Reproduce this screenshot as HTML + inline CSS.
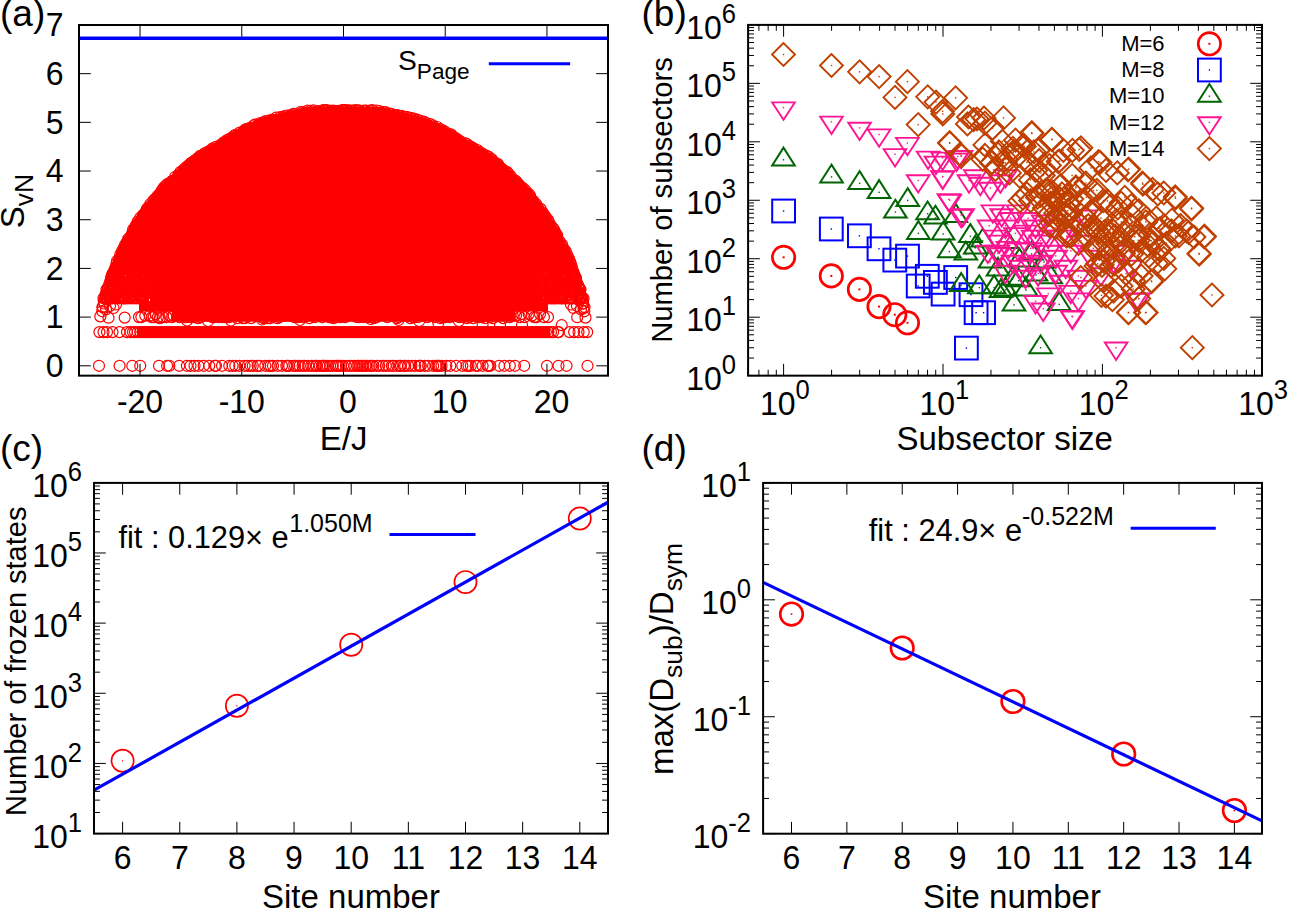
<!DOCTYPE html>
<html><head><meta charset="utf-8"><title>figure</title>
<style>html,body{margin:0;padding:0;background:#fff}svg{display:block}text{font-family:"Liberation Sans",sans-serif;fill:#000}</style>
</head><body>
<svg width="1308" height="915" viewBox="0 0 1308 915">
<rect width="1308" height="915" fill="#fff"/>
<g id="pa">
<path d="M172.0 321.8 L172.0 311.5 L139.0 311.5 L139.0 303.8 L150.0 303.8 L150.0 272.0 L112.0 272.0 L109.0 272.0 L109.4 270.9 L109.8 269.7 L110.2 268.6 L110.6 267.5 L111.0 266.4 L111.4 265.2 L111.8 264.1 L112.2 263.0 L112.6 261.9 L113.0 260.8 L113.4 259.7 L113.8 258.5 L114.3 257.4 L114.7 256.3 L115.2 255.2 L115.7 254.1 L116.2 253.0 L116.7 251.9 L117.2 250.8 L117.6 249.9 L118.1 249.0 L118.5 248.1 L118.9 247.2 L119.4 246.3 L119.9 245.4 L120.4 244.6 L120.9 243.7 L121.3 242.8 L121.8 241.8 L122.3 240.9 L122.8 240.0 L123.3 239.1 L123.8 238.2 L124.3 237.3 L124.8 236.4 L125.3 235.5 L125.8 234.6 L126.3 233.7 L126.8 232.8 L127.3 231.9 L127.8 231.0 L128.3 230.1 L128.8 229.2 L129.3 228.3 L129.8 227.4 L130.3 226.5 L130.7 225.6 L131.2 224.7 L131.7 223.8 L132.3 223.0 L132.8 222.1 L133.3 221.2 L133.9 220.3 L134.4 219.4 L135.0 218.5 L135.5 217.6 L136.1 216.7 L136.7 215.8 L137.3 214.9 L137.9 214.1 L138.5 213.2 L139.1 212.3 L139.8 211.4 L140.4 210.5 L141.1 209.6 L141.7 208.7 L142.4 207.8 L143.1 206.9 L143.7 206.0 L144.4 205.2 L145.0 204.3 L145.6 203.5 L146.3 202.6 L146.9 201.8 L147.7 200.8 L148.4 199.9 L149.1 198.9 L149.9 198.0 L150.6 197.1 L151.3 196.2 L152.0 195.3 L152.7 194.5 L153.3 193.7 L153.9 192.9 L154.6 192.1 L155.2 191.3 L155.9 190.5 L156.6 189.8 L157.2 189.0 L157.9 188.2 L158.6 187.5 L159.3 186.7 L160.0 186.0 L160.7 185.2 L161.4 184.5 L162.1 183.8 L162.9 183.1 L163.6 182.3 L164.4 181.6 L165.1 180.9 L165.9 180.2 L166.7 179.5 L167.4 178.7 L168.2 178.0 L169.0 177.2 L169.8 176.5 L170.6 175.7 L171.4 175.0 L172.3 174.2 L173.1 173.4 L173.9 172.6 L174.7 171.9 L175.6 171.1 L176.4 170.3 L177.3 169.5 L178.1 168.7 L179.0 167.9 L179.8 167.0 L180.7 166.2 L181.6 165.4 L182.5 164.6 L183.4 163.8 L184.2 163.2 L184.9 162.6 L185.7 161.9 L186.4 161.3 L187.2 160.6 L188.0 160.0 L188.8 159.4 L189.6 158.7 L190.4 158.1 L191.2 157.4 L192.0 156.8 L192.8 156.2 L193.7 155.5 L194.5 154.9 L195.3 154.3 L196.2 153.7 L197.0 153.1 L197.8 152.5 L198.7 151.9 L199.5 151.4 L200.5 150.7 L201.6 150.0 L202.6 149.4 L203.6 148.7 L204.7 148.1 L205.7 147.5 L206.7 147.0 L207.7 146.4 L208.8 145.9 L209.8 145.3 L210.9 144.8 L211.9 144.3 L212.9 143.7 L214.0 143.2 L215.0 142.6 L216.0 142.1 L216.9 141.5 L217.9 141.0 L218.9 140.4 L219.8 139.8 L220.8 139.3 L221.7 138.7 L222.6 138.1 L223.5 137.6 L224.4 137.0 L225.2 136.4 L226.1 135.9 L226.9 135.3 L227.8 134.7 L228.7 134.2 L229.6 133.6 L230.5 133.0 L231.5 132.5 L232.4 131.9 L233.4 131.3 L234.3 130.8 L235.3 130.2 L236.3 129.6 L237.3 129.1 L238.3 128.5 L239.4 127.9 L240.4 127.4 L241.4 126.8 L242.5 126.2 L243.6 125.7 L244.6 125.2 L245.7 124.6 L246.7 124.1 L247.8 123.6 L248.9 123.1 L250.0 122.6 L251.1 122.1 L252.2 121.7 L253.3 121.2 L254.4 120.7 L255.5 120.3 L256.6 119.8 L257.8 119.4 L258.9 119.0 L260.0 118.6 L261.1 118.2 L262.2 117.8 L263.3 117.4 L264.4 117.1 L265.5 116.7 L266.6 116.4 L267.7 116.1 L268.8 115.7 L269.8 115.5 L270.9 115.2 L271.9 114.9 L273.0 114.6 L274.0 114.4 L275.1 114.1 L276.1 113.9 L277.1 113.7 L278.2 113.4 L279.2 113.2 L280.3 113.0 L281.3 112.7 L282.4 112.5 L283.4 112.3 L284.5 112.0 L285.5 111.8 L286.6 111.5 L287.6 111.3 L288.7 111.1 L289.7 110.8 L290.8 110.6 L291.8 110.4 L292.9 110.1 L293.9 109.9 L295.1 109.6 L296.3 109.3 L297.5 109.0 L299.0 108.7 L300.4 108.3 L301.5 108.0 L302.6 107.7 L304.1 107.3 L305.2 107.2 L306.3 107.0 L307.3 106.9 L308.4 106.9 L309.5 106.8 L310.6 106.8 L311.6 106.7 L312.7 106.7 L313.8 106.6 L314.8 106.6 L315.9 106.6 L316.9 106.6 L318.0 106.5 L319.0 106.5 L320.1 106.5 L321.1 106.5 L322.2 106.5 L323.2 106.5 L324.2 106.5 L325.3 106.4 L326.3 106.4 L327.4 106.4 L328.4 106.4 L329.5 106.4 L330.5 106.4 L331.5 106.4 L332.5 106.4 L333.5 106.4 L334.5 106.4 L335.5 106.4 L336.5 106.4 L337.7 106.3 L338.8 106.3 L340.0 106.3 L341.2 106.3 L342.3 106.3 L343.5 106.3 L343.5 106.3 L344.7 106.3 L345.8 106.3 L347.0 106.3 L348.2 106.3 L349.3 106.3 L350.5 106.4 L351.5 106.4 L352.5 106.4 L353.5 106.4 L354.5 106.4 L355.5 106.4 L356.5 106.4 L357.5 106.4 L358.6 106.4 L359.6 106.4 L360.7 106.4 L361.7 106.4 L362.8 106.5 L363.8 106.5 L364.8 106.5 L365.9 106.5 L366.9 106.5 L368.0 106.5 L369.0 106.5 L370.1 106.6 L371.1 106.6 L372.2 106.6 L373.2 106.6 L374.3 106.7 L375.4 106.7 L376.4 106.8 L377.5 106.8 L378.6 106.9 L379.7 106.9 L380.7 107.0 L381.8 107.2 L382.9 107.3 L384.4 107.7 L385.5 108.0 L386.6 108.3 L388.0 108.7 L389.5 109.0 L390.7 109.3 L391.9 109.6 L393.1 109.9 L394.1 110.1 L395.2 110.4 L396.2 110.6 L397.3 110.8 L398.3 111.1 L399.4 111.3 L400.4 111.5 L401.5 111.8 L402.5 112.0 L403.6 112.3 L404.6 112.5 L405.7 112.7 L406.7 113.0 L407.8 113.2 L408.8 113.4 L409.9 113.7 L410.9 113.9 L411.9 114.1 L413.0 114.4 L414.0 114.6 L415.1 114.9 L416.1 115.2 L417.2 115.5 L418.2 115.7 L419.3 116.1 L420.4 116.4 L421.5 116.7 L422.6 117.1 L423.7 117.4 L424.8 117.8 L425.9 118.2 L427.0 118.6 L428.1 119.0 L429.2 119.4 L430.4 119.8 L431.5 120.3 L432.6 120.7 L433.7 121.2 L434.8 121.7 L435.9 122.1 L437.0 122.6 L438.1 123.1 L439.2 123.6 L440.3 124.1 L441.3 124.6 L442.4 125.2 L443.4 125.7 L444.5 126.2 L445.6 126.8 L446.6 127.4 L447.6 127.9 L448.7 128.5 L449.7 129.1 L450.7 129.6 L451.7 130.2 L452.7 130.8 L453.6 131.3 L454.6 131.9 L455.5 132.5 L456.5 133.0 L457.4 133.6 L458.3 134.2 L459.2 134.7 L460.1 135.3 L460.9 135.9 L461.8 136.4 L462.6 137.0 L463.5 137.6 L464.4 138.1 L465.3 138.7 L466.2 139.3 L467.2 139.8 L468.1 140.4 L469.1 141.0 L470.1 141.5 L471.0 142.1 L472.0 142.6 L473.0 143.2 L474.1 143.7 L475.1 144.3 L476.1 144.8 L477.2 145.3 L478.2 145.9 L479.3 146.4 L480.3 147.0 L481.3 147.5 L482.3 148.1 L483.4 148.7 L484.4 149.4 L485.4 150.0 L486.5 150.7 L487.5 151.4 L488.3 151.9 L489.2 152.5 L490.0 153.1 L490.8 153.7 L491.7 154.3 L492.5 154.9 L493.3 155.5 L494.2 156.2 L495.0 156.8 L495.8 157.4 L496.6 158.1 L497.4 158.7 L498.2 159.4 L499.0 160.0 L499.8 160.6 L500.6 161.3 L501.3 161.9 L502.1 162.6 L502.8 163.2 L503.6 163.8 L504.5 164.6 L505.4 165.4 L506.3 166.2 L507.2 167.0 L508.0 167.9 L508.9 168.7 L509.7 169.5 L510.6 170.3 L511.4 171.1 L512.3 171.9 L513.1 172.6 L513.9 173.4 L514.7 174.2 L515.6 175.0 L516.4 175.7 L517.2 176.5 L518.0 177.2 L518.8 178.0 L519.6 178.7 L520.3 179.5 L521.1 180.2 L521.9 180.9 L522.6 181.6 L523.4 182.3 L524.1 183.1 L524.9 183.8 L525.6 184.5 L526.3 185.2 L527.0 186.0 L527.7 186.7 L528.4 187.5 L529.1 188.2 L529.8 189.0 L530.4 189.8 L531.1 190.5 L531.8 191.3 L532.4 192.1 L533.1 192.9 L533.7 193.7 L534.3 194.5 L535.0 195.3 L535.7 196.2 L536.4 197.1 L537.1 198.0 L537.9 198.9 L538.6 199.9 L539.3 200.8 L540.1 201.8 L540.7 202.6 L541.4 203.5 L542.0 204.3 L542.6 205.2 L543.3 206.0 L543.9 206.9 L544.6 207.8 L545.3 208.7 L545.9 209.6 L546.6 210.5 L547.2 211.4 L547.9 212.3 L548.5 213.2 L549.1 214.1 L549.7 214.9 L550.3 215.8 L550.9 216.7 L551.5 217.6 L552.0 218.5 L552.6 219.4 L553.1 220.3 L553.7 221.2 L554.2 222.1 L554.7 223.0 L555.3 223.8 L555.8 224.7 L556.3 225.6 L556.7 226.5 L557.2 227.4 L557.7 228.3 L558.2 229.2 L558.7 230.1 L559.2 231.0 L559.7 231.9 L560.2 232.8 L560.7 233.7 L561.2 234.6 L561.7 235.5 L562.2 236.4 L562.7 237.3 L563.2 238.2 L563.7 239.1 L564.2 240.0 L564.7 240.9 L565.2 241.8 L565.7 242.8 L566.1 243.7 L566.6 244.6 L567.1 245.4 L567.6 246.3 L568.1 247.2 L568.5 248.1 L568.9 249.0 L569.4 249.9 L569.8 250.8 L570.3 251.9 L570.8 253.0 L571.3 254.1 L571.8 255.2 L572.3 256.3 L572.7 257.4 L573.2 258.5 L573.6 259.7 L574.0 260.8 L574.4 261.9 L574.8 263.0 L575.2 264.1 L575.6 265.2 L576.0 266.4 L576.4 267.5 L576.8 268.6 L577.2 269.7 L577.6 270.9 L578.0 272.0 L575.0 272.0 L537.0 272.0 L537.0 303.8 L548.0 303.8 L548.0 311.5 L515.0 311.5 L515.0 321.8Z" fill="#f00" stroke="none"/>
<rect x="137" y="326.6" width="413.0" height="11.0" fill="#f00"/>
<g fill="none" stroke="#f00" stroke-width="1.2">
<circle cx="102.2" cy="311.3" r="5.5"/><circle cx="102.7" cy="307.2" r="5.5"/><circle cx="103.8" cy="301.5" r="5.5"/><circle cx="104.5" cy="297.6" r="5.5"/><circle cx="105.6" cy="294.3" r="5.5"/><circle cx="107.0" cy="292.3" r="5.5"/><circle cx="107.6" cy="289.8" r="5.5"/><circle cx="107.7" cy="288.0" r="5.5"/><circle cx="109.2" cy="284.6" r="5.5"/><circle cx="110.6" cy="280.6" r="5.5"/><circle cx="111.1" cy="278.1" r="5.5"/><circle cx="112.2" cy="275.8" r="5.5"/><circle cx="113.3" cy="273.6" r="5.5"/><circle cx="114.6" cy="270.1" r="5.5"/><circle cx="115.5" cy="267.2" r="5.5"/><circle cx="116.5" cy="263.8" r="5.5"/><circle cx="117.0" cy="261.0" r="5.5"/><circle cx="119.3" cy="258.3" r="5.5"/><circle cx="120.4" cy="254.3" r="5.5"/><circle cx="122.0" cy="251.2" r="5.5"/><circle cx="123.4" cy="249.1" r="5.5"/><circle cx="124.1" cy="247.6" r="5.5"/><circle cx="125.1" cy="244.7" r="5.5"/><circle cx="126.9" cy="242.1" r="5.5"/><circle cx="128.3" cy="240.3" r="5.5"/><circle cx="128.2" cy="238.7" r="5.5"/><circle cx="131.3" cy="235.3" r="5.5"/><circle cx="132.5" cy="232.6" r="5.5"/><circle cx="133.1" cy="229.5" r="5.5"/><circle cx="134.8" cy="227.7" r="5.5"/><circle cx="135.9" cy="225.6" r="5.5"/><circle cx="136.5" cy="224.7" r="5.5"/><circle cx="137.7" cy="221.6" r="5.5"/><circle cx="140.2" cy="217.8" r="5.5"/><circle cx="142.7" cy="215.3" r="5.5"/><circle cx="144.6" cy="213.2" r="5.5"/><circle cx="146.6" cy="209.9" r="5.5"/><circle cx="147.0" cy="208.7" r="5.5"/><circle cx="148.6" cy="207.0" r="5.5"/><circle cx="150.3" cy="204.0" r="5.5"/><circle cx="153.3" cy="200.6" r="5.5"/><circle cx="155.1" cy="198.8" r="5.5"/><circle cx="157.7" cy="195.8" r="5.5"/><circle cx="159.9" cy="193.5" r="5.5"/><circle cx="161.9" cy="190.2" r="5.5"/><circle cx="163.3" cy="188.8" r="5.5"/><circle cx="164.2" cy="187.1" r="5.5"/><circle cx="165.7" cy="186.1" r="5.5"/><circle cx="167.0" cy="184.2" r="5.5"/><circle cx="169.6" cy="183.3" r="5.5"/><circle cx="171.1" cy="181.9" r="5.5"/><circle cx="172.4" cy="180.8" r="5.5"/><circle cx="175.3" cy="176.8" r="5.5"/><circle cx="178.5" cy="174.8" r="5.5"/><circle cx="180.3" cy="172.1" r="5.5"/><circle cx="183.3" cy="170.1" r="5.5"/><circle cx="184.8" cy="168.2" r="5.5"/><circle cx="187.8" cy="165.9" r="5.5"/><circle cx="189.8" cy="164.2" r="5.5"/><circle cx="191.2" cy="162.9" r="5.5"/><circle cx="193.8" cy="161.2" r="5.5"/><circle cx="195.0" cy="160.4" r="5.5"/><circle cx="197.5" cy="158.3" r="5.5"/><circle cx="199.4" cy="157.4" r="5.5"/><circle cx="200.2" cy="155.9" r="5.5"/><circle cx="202.8" cy="155.1" r="5.5"/><circle cx="204.9" cy="153.1" r="5.5"/><circle cx="208.1" cy="151.6" r="5.5"/><circle cx="211.7" cy="149.3" r="5.5"/><circle cx="212.7" cy="148.4" r="5.5"/><circle cx="216.0" cy="146.9" r="5.5"/><circle cx="220.8" cy="144.5" r="5.5"/><circle cx="223.7" cy="142.3" r="5.5"/><circle cx="225.7" cy="141.9" r="5.5"/><circle cx="227.0" cy="140.1" r="5.5"/><circle cx="229.1" cy="139.2" r="5.5"/><circle cx="232.2" cy="137.4" r="5.5"/><circle cx="234.3" cy="135.6" r="5.5"/><circle cx="235.3" cy="135.0" r="5.5"/><circle cx="239.2" cy="132.8" r="5.5"/><circle cx="243.4" cy="131.1" r="5.5"/><circle cx="245.5" cy="129.4" r="5.5"/><circle cx="247.3" cy="128.8" r="5.5"/><circle cx="250.1" cy="127.8" r="5.5"/><circle cx="253.8" cy="125.5" r="5.5"/><circle cx="254.8" cy="124.6" r="5.5"/><circle cx="259.4" cy="123.3" r="5.5"/><circle cx="263.0" cy="122.4" r="5.5"/><circle cx="265.6" cy="121.1" r="5.5"/><circle cx="268.5" cy="120.6" r="5.5"/><circle cx="272.4" cy="119.6" r="5.5"/><circle cx="276.1" cy="117.7" r="5.5"/><circle cx="280.1" cy="117.1" r="5.5"/><circle cx="282.9" cy="117.0" r="5.5"/><circle cx="284.5" cy="116.2" r="5.5"/><circle cx="287.0" cy="115.5" r="5.5"/><circle cx="291.2" cy="114.8" r="5.5"/><circle cx="293.7" cy="113.8" r="5.5"/><circle cx="295.1" cy="114.1" r="5.5"/><circle cx="300.4" cy="112.1" r="5.5"/><circle cx="302.9" cy="112.1" r="5.5"/><circle cx="307.5" cy="110.7" r="5.5"/><circle cx="310.3" cy="110.9" r="5.5"/><circle cx="313.5" cy="110.4" r="5.5"/><circle cx="318.1" cy="111.1" r="5.5"/><circle cx="321.3" cy="111.0" r="5.5"/><circle cx="323.2" cy="110.1" r="5.5"/><circle cx="324.7" cy="110.3" r="5.5"/><circle cx="326.9" cy="110.2" r="5.5"/><circle cx="330.4" cy="110.9" r="5.5"/><circle cx="332.6" cy="110.6" r="5.5"/><circle cx="334.7" cy="110.8" r="5.5"/><circle cx="338.0" cy="110.9" r="5.5"/><circle cx="342.3" cy="110.0" r="5.5"/><circle cx="343.7" cy="110.3" r="5.5"/><circle cx="106.9" cy="299.1" r="5.5"/><circle cx="107.7" cy="295.0" r="5.5"/><circle cx="110.4" cy="290.5" r="5.5"/><circle cx="112.0" cy="285.4" r="5.5"/><circle cx="112.1" cy="283.0" r="5.5"/><circle cx="115.0" cy="278.0" r="5.5"/><circle cx="115.1" cy="275.1" r="5.5"/><circle cx="116.3" cy="270.2" r="5.5"/><circle cx="119.1" cy="266.8" r="5.5"/><circle cx="119.7" cy="262.2" r="5.5"/><circle cx="122.2" cy="257.3" r="5.5"/><circle cx="123.1" cy="254.4" r="5.5"/><circle cx="124.6" cy="250.4" r="5.5"/><circle cx="126.3" cy="249.3" r="5.5"/><circle cx="127.7" cy="245.6" r="5.5"/><circle cx="130.2" cy="242.4" r="5.5"/><circle cx="132.4" cy="238.7" r="5.5"/><circle cx="133.7" cy="234.4" r="5.5"/><circle cx="135.4" cy="230.0" r="5.5"/><circle cx="136.8" cy="227.5" r="5.5"/><circle cx="139.6" cy="224.9" r="5.5"/><circle cx="140.5" cy="222.2" r="5.5"/><circle cx="142.1" cy="220.3" r="5.5"/><circle cx="143.9" cy="215.3" r="5.5"/><circle cx="148.1" cy="211.4" r="5.5"/><circle cx="150.1" cy="208.4" r="5.5"/><circle cx="154.6" cy="204.0" r="5.5"/><circle cx="156.9" cy="201.3" r="5.5"/><circle cx="159.6" cy="196.0" r="5.5"/><circle cx="161.5" cy="195.0" r="5.5"/><circle cx="165.5" cy="190.1" r="5.5"/><circle cx="168.7" cy="188.7" r="5.5"/><circle cx="169.1" cy="186.5" r="5.5"/><circle cx="172.9" cy="182.2" r="5.5"/><circle cx="177.7" cy="180.0" r="5.5"/><circle cx="182.2" cy="175.6" r="5.5"/><circle cx="185.0" cy="171.3" r="5.5"/><circle cx="187.5" cy="168.1" r="5.5"/><circle cx="191.8" cy="167.6" r="5.5"/><circle cx="194.4" cy="162.6" r="5.5"/><circle cx="197.3" cy="160.5" r="5.5"/><circle cx="200.8" cy="158.7" r="5.5"/><circle cx="205.6" cy="155.5" r="5.5"/><circle cx="207.4" cy="154.8" r="5.5"/><circle cx="210.9" cy="151.6" r="5.5"/><circle cx="213.7" cy="151.3" r="5.5"/><circle cx="217.4" cy="149.4" r="5.5"/><circle cx="220.7" cy="148.0" r="5.5"/><circle cx="225.1" cy="144.3" r="5.5"/><circle cx="228.4" cy="142.7" r="5.5"/><circle cx="232.6" cy="140.2" r="5.5"/><circle cx="238.6" cy="137.1" r="5.5"/><circle cx="243.1" cy="134.1" r="5.5"/><circle cx="248.2" cy="131.6" r="5.5"/><circle cx="251.5" cy="130.1" r="5.5"/><circle cx="256.3" cy="128.0" r="5.5"/><circle cx="258.3" cy="125.4" r="5.5"/><circle cx="264.2" cy="123.6" r="5.5"/><circle cx="268.8" cy="123.4" r="5.5"/><circle cx="273.7" cy="121.2" r="5.5"/><circle cx="276.6" cy="121.3" r="5.5"/><circle cx="283.8" cy="120.3" r="5.5"/><circle cx="286.4" cy="118.0" r="5.5"/><circle cx="291.2" cy="118.3" r="5.5"/><circle cx="295.0" cy="117.2" r="5.5"/><circle cx="299.7" cy="116.8" r="5.5"/><circle cx="304.8" cy="113.7" r="5.5"/><circle cx="308.5" cy="113.0" r="5.5"/><circle cx="314.3" cy="112.8" r="5.5"/><circle cx="316.8" cy="113.9" r="5.5"/><circle cx="321.9" cy="113.6" r="5.5"/><circle cx="325.3" cy="113.4" r="5.5"/><circle cx="329.7" cy="112.8" r="5.5"/><circle cx="334.1" cy="113.4" r="5.5"/><circle cx="338.8" cy="113.9" r="5.5"/><circle cx="100.3" cy="316.4" r="5.5"/><circle cx="108.5" cy="317.7" r="5.5"/><circle cx="124.7" cy="317.6" r="5.5"/><circle cx="139.0" cy="317.1" r="5.5"/><circle cx="141.4" cy="317.1" r="5.5"/><circle cx="145.3" cy="315.6" r="5.5"/><circle cx="149.8" cy="315.6" r="5.5"/><circle cx="151.9" cy="317.1" r="5.5"/><circle cx="153.7" cy="317.1" r="5.5"/><circle cx="155.6" cy="314.1" r="5.5"/><circle cx="157.9" cy="317.1" r="5.5"/><circle cx="159.8" cy="318.1" r="5.5"/><circle cx="162.8" cy="317.1" r="5.5"/><circle cx="166.4" cy="317.1" r="5.5"/><circle cx="169.4" cy="315.6" r="5.5"/><circle cx="172.1" cy="317.1" r="5.5"/><circle cx="173.6" cy="315.6" r="5.5"/><circle cx="177.1" cy="315.6" r="5.5"/><circle cx="179.5" cy="317.1" r="5.5"/><circle cx="182.3" cy="315.6" r="5.5"/><circle cx="184.7" cy="317.1" r="5.5"/><circle cx="186.2" cy="317.1" r="5.5"/><circle cx="190.3" cy="317.1" r="5.5"/><circle cx="194.6" cy="317.1" r="5.5"/><circle cx="198.2" cy="318.1" r="5.5"/><circle cx="200.6" cy="317.1" r="5.5"/><circle cx="202.3" cy="315.6" r="5.5"/><circle cx="206.8" cy="314.1" r="5.5"/><circle cx="208.5" cy="315.6" r="5.5"/><circle cx="212.3" cy="317.1" r="5.5"/><circle cx="214.6" cy="317.1" r="5.5"/><circle cx="218.6" cy="317.1" r="5.5"/><circle cx="222.0" cy="317.1" r="5.5"/><circle cx="224.3" cy="317.1" r="5.5"/><circle cx="227.1" cy="317.1" r="5.5"/><circle cx="229.2" cy="317.1" r="5.5"/><circle cx="233.0" cy="315.6" r="5.5"/><circle cx="237.2" cy="318.1" r="5.5"/><circle cx="239.9" cy="314.1" r="5.5"/><circle cx="243.0" cy="318.1" r="5.5"/><circle cx="244.8" cy="318.1" r="5.5"/><circle cx="247.5" cy="314.1" r="5.5"/><circle cx="251.2" cy="318.1" r="5.5"/><circle cx="255.4" cy="315.6" r="5.5"/><circle cx="257.0" cy="314.1" r="5.5"/><circle cx="258.9" cy="315.6" r="5.5"/><circle cx="261.6" cy="317.1" r="5.5"/><circle cx="264.0" cy="318.1" r="5.5"/><circle cx="267.7" cy="318.1" r="5.5"/><circle cx="270.0" cy="318.1" r="5.5"/><circle cx="272.2" cy="315.6" r="5.5"/><circle cx="275.4" cy="315.6" r="5.5"/><circle cx="277.3" cy="318.1" r="5.5"/><circle cx="279.3" cy="317.1" r="5.5"/><circle cx="282.3" cy="315.6" r="5.5"/><circle cx="285.4" cy="315.6" r="5.5"/><circle cx="289.6" cy="315.6" r="5.5"/><circle cx="292.4" cy="314.1" r="5.5"/><circle cx="294.5" cy="317.1" r="5.5"/><circle cx="296.5" cy="314.1" r="5.5"/><circle cx="298.3" cy="317.1" r="5.5"/><circle cx="300.9" cy="314.1" r="5.5"/><circle cx="303.0" cy="317.1" r="5.5"/><circle cx="306.7" cy="315.6" r="5.5"/><circle cx="309.4" cy="318.1" r="5.5"/><circle cx="312.5" cy="315.6" r="5.5"/><circle cx="314.8" cy="317.1" r="5.5"/><circle cx="317.8" cy="314.1" r="5.5"/><circle cx="322.2" cy="317.1" r="5.5"/><circle cx="325.7" cy="314.1" r="5.5"/><circle cx="329.1" cy="317.1" r="5.5"/><circle cx="330.9" cy="317.1" r="5.5"/><circle cx="333.5" cy="318.1" r="5.5"/><circle cx="336.4" cy="317.1" r="5.5"/><circle cx="340.4" cy="317.1" r="5.5"/><circle cx="342.3" cy="315.6" r="5.5"/><circle cx="102.5" cy="307.0" r="5.5"/><circle cx="106.0" cy="309.5" r="5.5"/><circle cx="110.0" cy="306.0" r="5.5"/><circle cx="113.5" cy="308.0" r="5.5"/><circle cx="104.0" cy="303.5" r="5.5"/><circle cx="116.0" cy="304.5" r="5.5"/><circle cx="103.5" cy="298.3" r="5.5"/><circle cx="105.9" cy="298.3" r="5.5"/><circle cx="107.7" cy="298.3" r="5.5"/><circle cx="109.6" cy="298.3" r="5.5"/><circle cx="110.6" cy="298.3" r="5.5"/><circle cx="112.3" cy="298.3" r="5.5"/><circle cx="114.7" cy="298.3" r="5.5"/><circle cx="117.1" cy="298.3" r="5.5"/><circle cx="119.4" cy="298.3" r="5.5"/><circle cx="122.0" cy="298.3" r="5.5"/><circle cx="123.4" cy="298.3" r="5.5"/><circle cx="124.6" cy="298.3" r="5.5"/><circle cx="125.8" cy="298.3" r="5.5"/><circle cx="127.6" cy="298.3" r="5.5"/><circle cx="129.7" cy="298.3" r="5.5"/><circle cx="132.2" cy="298.3" r="5.5"/><circle cx="134.4" cy="298.3" r="5.5"/><circle cx="136.4" cy="298.3" r="5.5"/><circle cx="138.7" cy="298.3" r="5.5"/><circle cx="140.4" cy="298.3" r="5.5"/><circle cx="142.3" cy="298.3" r="5.5"/><circle cx="143.3" cy="298.3" r="5.5"/><circle cx="145.6" cy="298.3" r="5.5"/><circle cx="147.0" cy="298.3" r="5.5"/><circle cx="149.4" cy="298.3" r="5.5"/><circle cx="151.5" cy="298.3" r="5.5"/><circle cx="152.9" cy="298.3" r="5.5"/><circle cx="106.5" cy="289.5" r="5.5"/><circle cx="108.0" cy="289.5" r="5.5"/><circle cx="110.1" cy="289.5" r="5.5"/><circle cx="112.4" cy="289.5" r="5.5"/><circle cx="113.6" cy="289.5" r="5.5"/><circle cx="114.7" cy="289.5" r="5.5"/><circle cx="116.6" cy="289.5" r="5.5"/><circle cx="118.7" cy="289.5" r="5.5"/><circle cx="120.4" cy="289.5" r="5.5"/><circle cx="121.8" cy="289.5" r="5.5"/><circle cx="123.9" cy="289.5" r="5.5"/><circle cx="124.9" cy="289.5" r="5.5"/><circle cx="126.4" cy="289.5" r="5.5"/><circle cx="128.3" cy="289.5" r="5.5"/><circle cx="131.0" cy="289.5" r="5.5"/><circle cx="133.1" cy="289.5" r="5.5"/><circle cx="135.7" cy="289.5" r="5.5"/><circle cx="137.6" cy="289.5" r="5.5"/><circle cx="139.0" cy="289.5" r="5.5"/><circle cx="140.5" cy="289.5" r="5.5"/><circle cx="143.2" cy="289.5" r="5.5"/><circle cx="145.4" cy="289.5" r="5.5"/><circle cx="147.0" cy="289.5" r="5.5"/><circle cx="148.0" cy="289.5" r="5.5"/><circle cx="149.9" cy="289.5" r="5.5"/><circle cx="152.2" cy="289.5" r="5.5"/><circle cx="140.5" cy="275.7" r="5.5"/><circle cx="116.2" cy="295.8" r="5.5"/><circle cx="127.7" cy="269.0" r="5.5"/><circle cx="140.7" cy="280.6" r="5.5"/><circle cx="146.3" cy="273.9" r="5.5"/><circle cx="131.0" cy="290.2" r="5.5"/><circle cx="153.7" cy="274.2" r="5.5"/><circle cx="147.1" cy="277.4" r="5.5"/><circle cx="121.4" cy="274.9" r="5.5"/><circle cx="120.6" cy="290.8" r="5.5"/><circle cx="129.7" cy="296.6" r="5.5"/><circle cx="121.8" cy="273.6" r="5.5"/><circle cx="139.9" cy="280.5" r="5.5"/><circle cx="112.1" cy="296.5" r="5.5"/><circle cx="119.8" cy="279.8" r="5.5"/><circle cx="111.6" cy="297.2" r="5.5"/><circle cx="116.3" cy="269.6" r="5.5"/><circle cx="150.4" cy="279.8" r="5.5"/><circle cx="141.7" cy="294.5" r="5.5"/><circle cx="151.5" cy="297.9" r="5.5"/><circle cx="118.8" cy="277.9" r="5.5"/><circle cx="142.3" cy="296.1" r="5.5"/><circle cx="141.2" cy="269.0" r="5.5"/><circle cx="127.0" cy="279.4" r="5.5"/><circle cx="118.1" cy="278.0" r="5.5"/><circle cx="125.6" cy="268.1" r="5.5"/><circle cx="153.0" cy="278.5" r="5.5"/><circle cx="153.5" cy="271.7" r="5.5"/><circle cx="127.5" cy="274.2" r="5.5"/><circle cx="146.3" cy="292.6" r="5.5"/><circle cx="112.1" cy="281.0" r="5.5"/><circle cx="126.2" cy="282.2" r="5.5"/><circle cx="114.5" cy="295.6" r="5.5"/><circle cx="150.4" cy="278.9" r="5.5"/><circle cx="130.7" cy="268.9" r="5.5"/><circle cx="143.5" cy="292.4" r="5.5"/><circle cx="115.2" cy="269.2" r="5.5"/><circle cx="151.7" cy="269.9" r="5.5"/><circle cx="144.0" cy="275.7" r="5.5"/><circle cx="122.1" cy="295.0" r="5.5"/><circle cx="153.2" cy="276.2" r="5.5"/><circle cx="120.1" cy="286.5" r="5.5"/><circle cx="122.1" cy="289.5" r="5.5"/><circle cx="111.6" cy="276.3" r="5.5"/><circle cx="150.9" cy="290.7" r="5.5"/><circle cx="152.3" cy="287.0" r="5.5"/><circle cx="123.4" cy="268.7" r="5.5"/><circle cx="153.0" cy="282.3" r="5.5"/><circle cx="124.2" cy="296.6" r="5.5"/><circle cx="130.1" cy="275.5" r="5.5"/><circle cx="151.7" cy="282.8" r="5.5"/><circle cx="146.5" cy="273.5" r="5.5"/><circle cx="146.4" cy="290.2" r="5.5"/><circle cx="135.8" cy="291.2" r="5.5"/><circle cx="124.8" cy="277.8" r="5.5"/><circle cx="145.2" cy="278.9" r="5.5"/><circle cx="121.6" cy="270.4" r="5.5"/><circle cx="118.5" cy="290.6" r="5.5"/><circle cx="114.8" cy="269.9" r="5.5"/><circle cx="123.6" cy="284.6" r="5.5"/><circle cx="149.1" cy="297.4" r="5.5"/><circle cx="117.8" cy="297.6" r="5.5"/><circle cx="117.4" cy="270.5" r="5.5"/><circle cx="141.7" cy="283.0" r="5.5"/><circle cx="120.1" cy="281.4" r="5.5"/><circle cx="137.8" cy="280.5" r="5.5"/><circle cx="143.0" cy="288.2" r="5.5"/><circle cx="138.4" cy="293.4" r="5.5"/><circle cx="148.3" cy="271.6" r="5.5"/><circle cx="135.9" cy="276.8" r="5.5"/><circle cx="143.3" cy="279.2" r="5.5"/><circle cx="122.8" cy="274.0" r="5.5"/><circle cx="118.4" cy="275.4" r="5.5"/><circle cx="134.0" cy="294.5" r="5.5"/><circle cx="128.2" cy="277.8" r="5.5"/><circle cx="130.1" cy="297.8" r="5.5"/><circle cx="146.7" cy="274.9" r="5.5"/><circle cx="154.6" cy="287.6" r="5.5"/><circle cx="132.9" cy="271.1" r="5.5"/><circle cx="147.2" cy="292.6" r="5.5"/><circle cx="106.8" cy="295.4" r="5.5"/><circle cx="116.3" cy="276.8" r="5.5"/><circle cx="153.8" cy="273.7" r="5.5"/><circle cx="151.7" cy="285.5" r="5.5"/><circle cx="149.0" cy="279.2" r="5.5"/><circle cx="121.3" cy="281.5" r="5.5"/><circle cx="152.3" cy="291.3" r="5.5"/><circle cx="138.0" cy="271.2" r="5.5"/><circle cx="118.0" cy="286.6" r="5.5"/><circle cx="116.5" cy="279.1" r="5.5"/><circle cx="123.1" cy="274.1" r="5.5"/><circle cx="138.6" cy="286.0" r="5.5"/><circle cx="112.7" cy="274.1" r="5.5"/><circle cx="140.7" cy="277.8" r="5.5"/><circle cx="125.6" cy="273.6" r="5.5"/><circle cx="146.2" cy="274.1" r="5.5"/><circle cx="111.3" cy="284.4" r="5.5"/><circle cx="129.6" cy="271.0" r="5.5"/><circle cx="138.2" cy="284.5" r="5.5"/><circle cx="120.2" cy="270.7" r="5.5"/><circle cx="126.6" cy="288.9" r="5.5"/><circle cx="124.8" cy="276.5" r="5.5"/><circle cx="120.5" cy="296.6" r="5.5"/><circle cx="125.0" cy="285.0" r="5.5"/><circle cx="148.9" cy="280.5" r="5.5"/><circle cx="122.8" cy="297.9" r="5.5"/><circle cx="143.4" cy="273.9" r="5.5"/><circle cx="112.4" cy="274.1" r="5.5"/><circle cx="126.3" cy="295.0" r="5.5"/><circle cx="125.8" cy="292.6" r="5.5"/><circle cx="128.1" cy="294.5" r="5.5"/><circle cx="113.2" cy="272.9" r="5.5"/><circle cx="138.2" cy="284.5" r="5.5"/><circle cx="109.6" cy="295.3" r="5.5"/><circle cx="125.2" cy="286.7" r="5.5"/><circle cx="115.7" cy="283.1" r="5.5"/><circle cx="134.1" cy="276.5" r="5.5"/><circle cx="110.3" cy="295.8" r="5.5"/><circle cx="146.0" cy="282.7" r="5.5"/><circle cx="114.4" cy="297.0" r="5.5"/><circle cx="152.6" cy="271.8" r="5.5"/><circle cx="128.9" cy="297.3" r="5.5"/><circle cx="152.0" cy="269.6" r="5.5"/><circle cx="150.7" cy="279.6" r="5.5"/><circle cx="146.7" cy="286.6" r="5.5"/><circle cx="145.9" cy="272.8" r="5.5"/><circle cx="129.3" cy="274.7" r="5.5"/><circle cx="146.6" cy="293.4" r="5.5"/><circle cx="121.5" cy="273.5" r="5.5"/><circle cx="133.2" cy="280.0" r="5.5"/><circle cx="115.7" cy="279.5" r="5.5"/><circle cx="143.1" cy="275.4" r="5.5"/><circle cx="107.2" cy="294.9" r="5.5"/><circle cx="143.7" cy="284.9" r="5.5"/><circle cx="148.3" cy="269.1" r="5.5"/><circle cx="138.2" cy="271.5" r="5.5"/><circle cx="137.6" cy="284.5" r="5.5"/><circle cx="129.5" cy="277.2" r="5.5"/><circle cx="128.0" cy="285.5" r="5.5"/><circle cx="128.6" cy="287.8" r="5.5"/><circle cx="110.5" cy="281.2" r="5.5"/><circle cx="130.8" cy="286.6" r="5.5"/><circle cx="144.8" cy="275.1" r="5.5"/><circle cx="128.6" cy="291.4" r="5.5"/><circle cx="132.4" cy="273.4" r="5.5"/><circle cx="118.4" cy="271.2" r="5.5"/><circle cx="114.0" cy="280.9" r="5.5"/><circle cx="132.7" cy="281.3" r="5.5"/><circle cx="140.0" cy="269.2" r="5.5"/><circle cx="143.9" cy="270.5" r="5.5"/><circle cx="131.2" cy="291.3" r="5.5"/><circle cx="134.5" cy="269.6" r="5.5"/><circle cx="152.8" cy="279.3" r="5.5"/><circle cx="148.9" cy="272.1" r="5.5"/><circle cx="141.5" cy="297.9" r="5.5"/><circle cx="115.4" cy="292.4" r="5.5"/><circle cx="129.3" cy="297.5" r="5.5"/><circle cx="150.8" cy="296.7" r="5.5"/><circle cx="146.0" cy="273.0" r="5.5"/><circle cx="108.1" cy="295.9" r="5.5"/><circle cx="144.2" cy="278.5" r="5.5"/><circle cx="150.6" cy="272.8" r="5.5"/><circle cx="147.0" cy="276.2" r="5.5"/><circle cx="133.9" cy="272.3" r="5.5"/><circle cx="115.3" cy="295.6" r="5.5"/><circle cx="133.5" cy="275.9" r="5.5"/><circle cx="112.6" cy="277.6" r="5.5"/><circle cx="119.1" cy="273.5" r="5.5"/><circle cx="138.9" cy="296.1" r="5.5"/><circle cx="113.6" cy="294.9" r="5.5"/><circle cx="99.4" cy="332.1" r="5.5"/><circle cx="103.5" cy="332.1" r="5.5"/><circle cx="107.0" cy="332.1" r="5.5"/><circle cx="112.5" cy="332.1" r="5.5"/><circle cx="119.5" cy="332.1" r="5.5"/><circle cx="127.0" cy="332.1" r="5.5"/><circle cx="130.5" cy="332.1" r="5.5"/><circle cx="133.0" cy="332.1" r="5.5"/><circle cx="584.3" cy="311.3" r="5.5"/><circle cx="583.5" cy="308.3" r="5.5"/><circle cx="583.0" cy="303.6" r="5.5"/><circle cx="582.9" cy="300.7" r="5.5"/><circle cx="581.3" cy="296.7" r="5.5"/><circle cx="579.9" cy="293.3" r="5.5"/><circle cx="579.7" cy="289.5" r="5.5"/><circle cx="579.1" cy="287.9" r="5.5"/><circle cx="578.3" cy="285.6" r="5.5"/><circle cx="576.8" cy="283.0" r="5.5"/><circle cx="574.9" cy="278.4" r="5.5"/><circle cx="574.3" cy="275.4" r="5.5"/><circle cx="573.3" cy="272.3" r="5.5"/><circle cx="572.0" cy="267.4" r="5.5"/><circle cx="571.0" cy="264.7" r="5.5"/><circle cx="570.4" cy="262.4" r="5.5"/><circle cx="569.1" cy="259.0" r="5.5"/><circle cx="567.9" cy="256.8" r="5.5"/><circle cx="567.1" cy="255.0" r="5.5"/><circle cx="565.8" cy="251.3" r="5.5"/><circle cx="564.3" cy="250.0" r="5.5"/><circle cx="563.5" cy="248.8" r="5.5"/><circle cx="562.3" cy="245.5" r="5.5"/><circle cx="561.8" cy="244.3" r="5.5"/><circle cx="559.6" cy="241.3" r="5.5"/><circle cx="557.2" cy="237.9" r="5.5"/><circle cx="557.2" cy="235.2" r="5.5"/><circle cx="555.7" cy="233.9" r="5.5"/><circle cx="555.2" cy="232.6" r="5.5"/><circle cx="554.4" cy="230.4" r="5.5"/><circle cx="553.2" cy="228.3" r="5.5"/><circle cx="550.7" cy="225.3" r="5.5"/><circle cx="548.9" cy="222.2" r="5.5"/><circle cx="548.2" cy="220.1" r="5.5"/><circle cx="545.7" cy="216.8" r="5.5"/><circle cx="543.9" cy="214.7" r="5.5"/><circle cx="542.7" cy="212.6" r="5.5"/><circle cx="540.6" cy="208.9" r="5.5"/><circle cx="537.9" cy="207.3" r="5.5"/><circle cx="536.2" cy="204.1" r="5.5"/><circle cx="533.3" cy="200.8" r="5.5"/><circle cx="530.2" cy="196.9" r="5.5"/><circle cx="530.0" cy="195.5" r="5.5"/><circle cx="528.6" cy="193.7" r="5.5"/><circle cx="526.4" cy="192.8" r="5.5"/><circle cx="525.4" cy="190.2" r="5.5"/><circle cx="522.6" cy="187.9" r="5.5"/><circle cx="519.4" cy="185.0" r="5.5"/><circle cx="517.5" cy="183.1" r="5.5"/><circle cx="516.3" cy="181.5" r="5.5"/><circle cx="514.9" cy="180.4" r="5.5"/><circle cx="511.0" cy="176.8" r="5.5"/><circle cx="510.3" cy="175.8" r="5.5"/><circle cx="508.4" cy="173.7" r="5.5"/><circle cx="507.1" cy="172.1" r="5.5"/><circle cx="504.6" cy="171.1" r="5.5"/><circle cx="502.7" cy="169.6" r="5.5"/><circle cx="501.0" cy="168.1" r="5.5"/><circle cx="499.3" cy="166.6" r="5.5"/><circle cx="498.0" cy="164.1" r="5.5"/><circle cx="496.6" cy="163.7" r="5.5"/><circle cx="494.1" cy="162.1" r="5.5"/><circle cx="492.1" cy="159.6" r="5.5"/><circle cx="490.7" cy="158.6" r="5.5"/><circle cx="488.6" cy="156.7" r="5.5"/><circle cx="486.2" cy="155.6" r="5.5"/><circle cx="482.5" cy="153.6" r="5.5"/><circle cx="479.4" cy="151.8" r="5.5"/><circle cx="477.5" cy="150.0" r="5.5"/><circle cx="473.5" cy="148.3" r="5.5"/><circle cx="471.6" cy="147.0" r="5.5"/><circle cx="469.5" cy="146.0" r="5.5"/><circle cx="467.2" cy="144.2" r="5.5"/><circle cx="465.2" cy="143.3" r="5.5"/><circle cx="461.5" cy="142.0" r="5.5"/><circle cx="459.0" cy="140.4" r="5.5"/><circle cx="455.9" cy="138.1" r="5.5"/><circle cx="452.6" cy="136.4" r="5.5"/><circle cx="451.1" cy="134.4" r="5.5"/><circle cx="449.2" cy="134.3" r="5.5"/><circle cx="444.9" cy="131.6" r="5.5"/><circle cx="442.6" cy="130.3" r="5.5"/><circle cx="440.2" cy="129.0" r="5.5"/><circle cx="437.3" cy="127.0" r="5.5"/><circle cx="432.7" cy="125.3" r="5.5"/><circle cx="430.1" cy="124.1" r="5.5"/><circle cx="425.9" cy="123.1" r="5.5"/><circle cx="424.2" cy="121.8" r="5.5"/><circle cx="421.4" cy="121.2" r="5.5"/><circle cx="417.4" cy="119.6" r="5.5"/><circle cx="414.3" cy="118.8" r="5.5"/><circle cx="413.0" cy="118.5" r="5.5"/><circle cx="410.5" cy="117.8" r="5.5"/><circle cx="406.7" cy="116.8" r="5.5"/><circle cx="404.0" cy="116.8" r="5.5"/><circle cx="401.5" cy="115.8" r="5.5"/><circle cx="399.3" cy="116.0" r="5.5"/><circle cx="397.3" cy="115.2" r="5.5"/><circle cx="394.9" cy="115.1" r="5.5"/><circle cx="391.3" cy="113.8" r="5.5"/><circle cx="389.7" cy="113.7" r="5.5"/><circle cx="385.4" cy="112.1" r="5.5"/><circle cx="383.6" cy="112.1" r="5.5"/><circle cx="379.4" cy="111.1" r="5.5"/><circle cx="376.7" cy="110.5" r="5.5"/><circle cx="372.2" cy="110.1" r="5.5"/><circle cx="370.0" cy="110.6" r="5.5"/><circle cx="366.1" cy="110.7" r="5.5"/><circle cx="364.0" cy="110.7" r="5.5"/><circle cx="359.6" cy="110.7" r="5.5"/><circle cx="358.0" cy="110.3" r="5.5"/><circle cx="355.4" cy="110.2" r="5.5"/><circle cx="352.6" cy="110.6" r="5.5"/><circle cx="349.5" cy="110.4" r="5.5"/><circle cx="347.4" cy="110.3" r="5.5"/><circle cx="344.7" cy="110.2" r="5.5"/><circle cx="343.0" cy="110.3" r="5.5"/><circle cx="579.1" cy="300.4" r="5.5"/><circle cx="578.8" cy="295.3" r="5.5"/><circle cx="577.0" cy="290.1" r="5.5"/><circle cx="575.6" cy="286.7" r="5.5"/><circle cx="574.2" cy="282.0" r="5.5"/><circle cx="572.0" cy="278.1" r="5.5"/><circle cx="571.0" cy="274.1" r="5.5"/><circle cx="570.0" cy="267.3" r="5.5"/><circle cx="567.3" cy="264.0" r="5.5"/><circle cx="565.7" cy="260.9" r="5.5"/><circle cx="565.2" cy="257.3" r="5.5"/><circle cx="562.2" cy="251.5" r="5.5"/><circle cx="560.3" cy="248.8" r="5.5"/><circle cx="560.0" cy="246.1" r="5.5"/><circle cx="556.5" cy="240.9" r="5.5"/><circle cx="556.2" cy="239.2" r="5.5"/><circle cx="553.9" cy="235.7" r="5.5"/><circle cx="551.8" cy="232.9" r="5.5"/><circle cx="550.1" cy="228.6" r="5.5"/><circle cx="548.0" cy="225.4" r="5.5"/><circle cx="545.3" cy="222.1" r="5.5"/><circle cx="543.7" cy="218.4" r="5.5"/><circle cx="541.3" cy="214.5" r="5.5"/><circle cx="538.3" cy="209.9" r="5.5"/><circle cx="534.1" cy="206.0" r="5.5"/><circle cx="531.9" cy="201.4" r="5.5"/><circle cx="528.2" cy="198.4" r="5.5"/><circle cx="525.5" cy="196.5" r="5.5"/><circle cx="524.5" cy="192.2" r="5.5"/><circle cx="521.5" cy="189.1" r="5.5"/><circle cx="518.7" cy="187.2" r="5.5"/><circle cx="515.8" cy="184.5" r="5.5"/><circle cx="514.7" cy="182.5" r="5.5"/><circle cx="510.4" cy="179.4" r="5.5"/><circle cx="508.0" cy="176.3" r="5.5"/><circle cx="503.5" cy="173.5" r="5.5"/><circle cx="499.8" cy="169.2" r="5.5"/><circle cx="496.0" cy="165.4" r="5.5"/><circle cx="490.9" cy="162.1" r="5.5"/><circle cx="488.7" cy="159.7" r="5.5"/><circle cx="485.5" cy="158.3" r="5.5"/><circle cx="483.6" cy="157.3" r="5.5"/><circle cx="479.7" cy="154.0" r="5.5"/><circle cx="475.4" cy="151.9" r="5.5"/><circle cx="471.5" cy="148.9" r="5.5"/><circle cx="466.6" cy="147.7" r="5.5"/><circle cx="461.2" cy="144.6" r="5.5"/><circle cx="457.8" cy="143.2" r="5.5"/><circle cx="454.7" cy="140.3" r="5.5"/><circle cx="450.0" cy="138.1" r="5.5"/><circle cx="446.7" cy="136.2" r="5.5"/><circle cx="443.3" cy="133.5" r="5.5"/><circle cx="439.3" cy="132.3" r="5.5"/><circle cx="434.4" cy="128.7" r="5.5"/><circle cx="429.7" cy="127.2" r="5.5"/><circle cx="424.7" cy="126.0" r="5.5"/><circle cx="420.3" cy="123.6" r="5.5"/><circle cx="414.4" cy="121.8" r="5.5"/><circle cx="412.0" cy="121.0" r="5.5"/><circle cx="407.2" cy="120.8" r="5.5"/><circle cx="403.0" cy="119.4" r="5.5"/><circle cx="398.5" cy="118.0" r="5.5"/><circle cx="393.9" cy="118.4" r="5.5"/><circle cx="392.0" cy="115.8" r="5.5"/><circle cx="384.9" cy="114.9" r="5.5"/><circle cx="378.9" cy="113.6" r="5.5"/><circle cx="376.2" cy="114.5" r="5.5"/><circle cx="373.2" cy="113.9" r="5.5"/><circle cx="368.7" cy="113.7" r="5.5"/><circle cx="362.0" cy="113.8" r="5.5"/><circle cx="357.7" cy="113.8" r="5.5"/><circle cx="353.6" cy="113.7" r="5.5"/><circle cx="349.8" cy="112.5" r="5.5"/><circle cx="346.5" cy="113.2" r="5.5"/><circle cx="585.5" cy="317.6" r="5.5"/><circle cx="577.2" cy="317.2" r="5.5"/><circle cx="561.7" cy="325.2" r="5.5"/><circle cx="548.0" cy="317.1" r="5.5"/><circle cx="543.9" cy="317.1" r="5.5"/><circle cx="540.0" cy="314.1" r="5.5"/><circle cx="536.4" cy="317.1" r="5.5"/><circle cx="534.3" cy="317.1" r="5.5"/><circle cx="531.9" cy="315.6" r="5.5"/><circle cx="528.7" cy="314.1" r="5.5"/><circle cx="524.4" cy="317.1" r="5.5"/><circle cx="521.4" cy="314.1" r="5.5"/><circle cx="519.8" cy="317.1" r="5.5"/><circle cx="516.0" cy="315.6" r="5.5"/><circle cx="512.7" cy="315.6" r="5.5"/><circle cx="509.9" cy="317.1" r="5.5"/><circle cx="506.3" cy="314.1" r="5.5"/><circle cx="503.1" cy="318.1" r="5.5"/><circle cx="498.6" cy="315.6" r="5.5"/><circle cx="494.8" cy="314.1" r="5.5"/><circle cx="493.0" cy="318.1" r="5.5"/><circle cx="490.1" cy="317.1" r="5.5"/><circle cx="486.7" cy="315.6" r="5.5"/><circle cx="485.2" cy="318.1" r="5.5"/><circle cx="481.7" cy="317.1" r="5.5"/><circle cx="479.5" cy="317.1" r="5.5"/><circle cx="477.7" cy="317.1" r="5.5"/><circle cx="475.3" cy="314.1" r="5.5"/><circle cx="473.1" cy="318.1" r="5.5"/><circle cx="469.4" cy="317.1" r="5.5"/><circle cx="466.8" cy="318.1" r="5.5"/><circle cx="463.1" cy="317.1" r="5.5"/><circle cx="459.4" cy="317.1" r="5.5"/><circle cx="457.1" cy="314.1" r="5.5"/><circle cx="453.4" cy="315.6" r="5.5"/><circle cx="449.9" cy="317.1" r="5.5"/><circle cx="445.7" cy="317.1" r="5.5"/><circle cx="442.0" cy="317.1" r="5.5"/><circle cx="440.3" cy="318.1" r="5.5"/><circle cx="436.8" cy="314.1" r="5.5"/><circle cx="435.0" cy="317.1" r="5.5"/><circle cx="432.6" cy="314.1" r="5.5"/><circle cx="430.6" cy="315.6" r="5.5"/><circle cx="427.3" cy="317.1" r="5.5"/><circle cx="424.7" cy="314.1" r="5.5"/><circle cx="421.0" cy="315.6" r="5.5"/><circle cx="417.5" cy="317.1" r="5.5"/><circle cx="413.1" cy="317.1" r="5.5"/><circle cx="410.5" cy="318.1" r="5.5"/><circle cx="408.5" cy="315.6" r="5.5"/><circle cx="405.6" cy="315.6" r="5.5"/><circle cx="401.2" cy="314.1" r="5.5"/><circle cx="398.7" cy="317.1" r="5.5"/><circle cx="397.0" cy="318.1" r="5.5"/><circle cx="393.4" cy="314.1" r="5.5"/><circle cx="390.9" cy="314.1" r="5.5"/><circle cx="387.3" cy="317.1" r="5.5"/><circle cx="383.3" cy="314.1" r="5.5"/><circle cx="379.3" cy="314.1" r="5.5"/><circle cx="376.5" cy="317.1" r="5.5"/><circle cx="373.8" cy="318.1" r="5.5"/><circle cx="371.2" cy="317.1" r="5.5"/><circle cx="367.3" cy="317.1" r="5.5"/><circle cx="363.7" cy="317.1" r="5.5"/><circle cx="361.4" cy="315.6" r="5.5"/><circle cx="359.5" cy="317.1" r="5.5"/><circle cx="357.1" cy="317.1" r="5.5"/><circle cx="353.2" cy="314.1" r="5.5"/><circle cx="351.2" cy="314.1" r="5.5"/><circle cx="347.7" cy="315.6" r="5.5"/><circle cx="345.1" cy="317.1" r="5.5"/><circle cx="584.5" cy="307.0" r="5.5"/><circle cx="581.0" cy="309.5" r="5.5"/><circle cx="577.0" cy="306.0" r="5.5"/><circle cx="573.5" cy="308.0" r="5.5"/><circle cx="583.0" cy="303.5" r="5.5"/><circle cx="571.0" cy="304.5" r="5.5"/><circle cx="583.5" cy="298.3" r="5.5"/><circle cx="581.7" cy="298.3" r="5.5"/><circle cx="580.1" cy="298.3" r="5.5"/><circle cx="577.9" cy="298.3" r="5.5"/><circle cx="575.7" cy="298.3" r="5.5"/><circle cx="573.1" cy="298.3" r="5.5"/><circle cx="571.6" cy="298.3" r="5.5"/><circle cx="570.5" cy="298.3" r="5.5"/><circle cx="568.9" cy="298.3" r="5.5"/><circle cx="566.8" cy="298.3" r="5.5"/><circle cx="564.3" cy="298.3" r="5.5"/><circle cx="562.4" cy="298.3" r="5.5"/><circle cx="561.3" cy="298.3" r="5.5"/><circle cx="559.7" cy="298.3" r="5.5"/><circle cx="557.9" cy="298.3" r="5.5"/><circle cx="556.0" cy="298.3" r="5.5"/><circle cx="554.4" cy="298.3" r="5.5"/><circle cx="553.3" cy="298.3" r="5.5"/><circle cx="551.7" cy="298.3" r="5.5"/><circle cx="549.9" cy="298.3" r="5.5"/><circle cx="548.4" cy="298.3" r="5.5"/><circle cx="546.1" cy="298.3" r="5.5"/><circle cx="544.6" cy="298.3" r="5.5"/><circle cx="542.8" cy="298.3" r="5.5"/><circle cx="541.5" cy="298.3" r="5.5"/><circle cx="540.1" cy="298.3" r="5.5"/><circle cx="539.0" cy="298.3" r="5.5"/><circle cx="536.7" cy="298.3" r="5.5"/><circle cx="535.2" cy="298.3" r="5.5"/><circle cx="580.5" cy="289.5" r="5.5"/><circle cx="578.9" cy="289.5" r="5.5"/><circle cx="576.5" cy="289.5" r="5.5"/><circle cx="573.9" cy="289.5" r="5.5"/><circle cx="572.5" cy="289.5" r="5.5"/><circle cx="569.8" cy="289.5" r="5.5"/><circle cx="567.9" cy="289.5" r="5.5"/><circle cx="565.4" cy="289.5" r="5.5"/><circle cx="563.7" cy="289.5" r="5.5"/><circle cx="561.9" cy="289.5" r="5.5"/><circle cx="560.7" cy="289.5" r="5.5"/><circle cx="559.1" cy="289.5" r="5.5"/><circle cx="558.1" cy="289.5" r="5.5"/><circle cx="556.6" cy="289.5" r="5.5"/><circle cx="554.5" cy="289.5" r="5.5"/><circle cx="553.3" cy="289.5" r="5.5"/><circle cx="551.9" cy="289.5" r="5.5"/><circle cx="549.4" cy="289.5" r="5.5"/><circle cx="547.4" cy="289.5" r="5.5"/><circle cx="545.3" cy="289.5" r="5.5"/><circle cx="543.9" cy="289.5" r="5.5"/><circle cx="541.3" cy="289.5" r="5.5"/><circle cx="539.8" cy="289.5" r="5.5"/><circle cx="538.6" cy="289.5" r="5.5"/><circle cx="536.8" cy="289.5" r="5.5"/><circle cx="534.7" cy="289.5" r="5.5"/><circle cx="538.6" cy="271.9" r="5.5"/><circle cx="532.2" cy="278.2" r="5.5"/><circle cx="575.6" cy="279.3" r="5.5"/><circle cx="558.0" cy="269.0" r="5.5"/><circle cx="556.7" cy="289.2" r="5.5"/><circle cx="537.2" cy="293.4" r="5.5"/><circle cx="549.8" cy="293.9" r="5.5"/><circle cx="546.7" cy="295.7" r="5.5"/><circle cx="560.4" cy="270.7" r="5.5"/><circle cx="571.3" cy="275.0" r="5.5"/><circle cx="556.8" cy="295.6" r="5.5"/><circle cx="538.4" cy="273.5" r="5.5"/><circle cx="566.3" cy="279.1" r="5.5"/><circle cx="571.8" cy="289.6" r="5.5"/><circle cx="535.0" cy="296.3" r="5.5"/><circle cx="550.4" cy="269.8" r="5.5"/><circle cx="535.3" cy="268.8" r="5.5"/><circle cx="553.2" cy="275.7" r="5.5"/><circle cx="543.6" cy="290.2" r="5.5"/><circle cx="573.3" cy="282.5" r="5.5"/><circle cx="575.7" cy="277.5" r="5.5"/><circle cx="542.8" cy="274.0" r="5.5"/><circle cx="558.2" cy="285.7" r="5.5"/><circle cx="557.2" cy="287.6" r="5.5"/><circle cx="559.3" cy="279.2" r="5.5"/><circle cx="559.8" cy="279.2" r="5.5"/><circle cx="540.8" cy="281.2" r="5.5"/><circle cx="537.4" cy="295.4" r="5.5"/><circle cx="536.0" cy="282.0" r="5.5"/><circle cx="573.4" cy="292.0" r="5.5"/><circle cx="577.6" cy="293.0" r="5.5"/><circle cx="561.7" cy="286.6" r="5.5"/><circle cx="542.7" cy="290.5" r="5.5"/><circle cx="535.7" cy="296.7" r="5.5"/><circle cx="575.8" cy="279.6" r="5.5"/><circle cx="533.2" cy="270.3" r="5.5"/><circle cx="566.0" cy="277.7" r="5.5"/><circle cx="558.6" cy="271.5" r="5.5"/><circle cx="543.7" cy="278.0" r="5.5"/><circle cx="555.5" cy="273.4" r="5.5"/><circle cx="560.0" cy="294.7" r="5.5"/><circle cx="556.7" cy="272.5" r="5.5"/><circle cx="574.1" cy="275.4" r="5.5"/><circle cx="564.8" cy="285.1" r="5.5"/><circle cx="568.3" cy="292.1" r="5.5"/><circle cx="554.8" cy="271.3" r="5.5"/><circle cx="570.9" cy="282.5" r="5.5"/><circle cx="549.1" cy="283.4" r="5.5"/><circle cx="535.6" cy="291.6" r="5.5"/><circle cx="539.7" cy="284.8" r="5.5"/><circle cx="542.3" cy="271.6" r="5.5"/><circle cx="560.7" cy="297.1" r="5.5"/><circle cx="565.2" cy="275.8" r="5.5"/><circle cx="558.3" cy="275.1" r="5.5"/><circle cx="569.8" cy="280.5" r="5.5"/><circle cx="533.1" cy="293.0" r="5.5"/><circle cx="547.3" cy="272.3" r="5.5"/><circle cx="554.4" cy="281.3" r="5.5"/><circle cx="557.8" cy="283.3" r="5.5"/><circle cx="534.8" cy="291.7" r="5.5"/><circle cx="560.2" cy="276.6" r="5.5"/><circle cx="556.4" cy="269.2" r="5.5"/><circle cx="567.7" cy="276.3" r="5.5"/><circle cx="555.6" cy="293.3" r="5.5"/><circle cx="567.6" cy="274.9" r="5.5"/><circle cx="540.0" cy="286.0" r="5.5"/><circle cx="545.4" cy="294.7" r="5.5"/><circle cx="572.2" cy="290.8" r="5.5"/><circle cx="546.0" cy="272.1" r="5.5"/><circle cx="570.2" cy="286.9" r="5.5"/><circle cx="575.6" cy="277.2" r="5.5"/><circle cx="555.1" cy="288.8" r="5.5"/><circle cx="536.1" cy="293.2" r="5.5"/><circle cx="562.2" cy="283.6" r="5.5"/><circle cx="547.7" cy="276.5" r="5.5"/><circle cx="577.7" cy="296.4" r="5.5"/><circle cx="542.7" cy="280.3" r="5.5"/><circle cx="546.1" cy="272.0" r="5.5"/><circle cx="551.0" cy="275.5" r="5.5"/><circle cx="580.7" cy="297.6" r="5.5"/><circle cx="552.4" cy="289.1" r="5.5"/><circle cx="563.8" cy="293.7" r="5.5"/><circle cx="533.6" cy="296.0" r="5.5"/><circle cx="558.8" cy="270.1" r="5.5"/><circle cx="539.3" cy="275.3" r="5.5"/><circle cx="543.1" cy="295.4" r="5.5"/><circle cx="552.9" cy="294.0" r="5.5"/><circle cx="567.3" cy="294.9" r="5.5"/><circle cx="543.3" cy="271.2" r="5.5"/><circle cx="576.4" cy="281.4" r="5.5"/><circle cx="574.5" cy="292.1" r="5.5"/><circle cx="571.4" cy="275.3" r="5.5"/><circle cx="571.4" cy="286.6" r="5.5"/><circle cx="551.6" cy="277.4" r="5.5"/><circle cx="581.6" cy="296.7" r="5.5"/><circle cx="545.1" cy="295.8" r="5.5"/><circle cx="539.1" cy="275.8" r="5.5"/><circle cx="557.4" cy="287.1" r="5.5"/><circle cx="556.0" cy="275.2" r="5.5"/><circle cx="572.2" cy="278.5" r="5.5"/><circle cx="563.1" cy="273.4" r="5.5"/><circle cx="550.9" cy="281.9" r="5.5"/><circle cx="575.4" cy="290.8" r="5.5"/><circle cx="536.9" cy="271.6" r="5.5"/><circle cx="568.0" cy="284.2" r="5.5"/><circle cx="546.3" cy="274.8" r="5.5"/><circle cx="559.5" cy="281.9" r="5.5"/><circle cx="581.3" cy="296.4" r="5.5"/><circle cx="546.5" cy="287.0" r="5.5"/><circle cx="550.7" cy="285.9" r="5.5"/><circle cx="533.2" cy="269.1" r="5.5"/><circle cx="558.3" cy="269.6" r="5.5"/><circle cx="539.3" cy="280.0" r="5.5"/><circle cx="539.5" cy="289.5" r="5.5"/><circle cx="532.7" cy="284.9" r="5.5"/><circle cx="558.4" cy="277.6" r="5.5"/><circle cx="563.5" cy="284.8" r="5.5"/><circle cx="545.6" cy="272.4" r="5.5"/><circle cx="537.7" cy="278.6" r="5.5"/><circle cx="579.2" cy="287.9" r="5.5"/><circle cx="566.1" cy="271.3" r="5.5"/><circle cx="567.5" cy="277.7" r="5.5"/><circle cx="568.9" cy="288.1" r="5.5"/><circle cx="559.2" cy="280.6" r="5.5"/><circle cx="559.8" cy="297.9" r="5.5"/><circle cx="532.8" cy="269.4" r="5.5"/><circle cx="580.5" cy="297.2" r="5.5"/><circle cx="550.7" cy="294.0" r="5.5"/><circle cx="550.9" cy="295.5" r="5.5"/><circle cx="541.2" cy="286.8" r="5.5"/><circle cx="569.1" cy="269.1" r="5.5"/><circle cx="573.4" cy="271.7" r="5.5"/><circle cx="573.5" cy="275.1" r="5.5"/><circle cx="559.4" cy="271.4" r="5.5"/><circle cx="571.9" cy="273.0" r="5.5"/><circle cx="536.0" cy="296.8" r="5.5"/><circle cx="577.6" cy="295.0" r="5.5"/><circle cx="535.2" cy="285.7" r="5.5"/><circle cx="554.3" cy="281.2" r="5.5"/><circle cx="536.2" cy="294.6" r="5.5"/><circle cx="566.1" cy="285.3" r="5.5"/><circle cx="544.6" cy="290.1" r="5.5"/><circle cx="556.0" cy="276.6" r="5.5"/><circle cx="569.4" cy="288.8" r="5.5"/><circle cx="552.2" cy="279.6" r="5.5"/><circle cx="536.8" cy="279.0" r="5.5"/><circle cx="555.0" cy="277.1" r="5.5"/><circle cx="579.6" cy="292.6" r="5.5"/><circle cx="568.0" cy="278.0" r="5.5"/><circle cx="533.4" cy="284.4" r="5.5"/><circle cx="535.4" cy="279.9" r="5.5"/><circle cx="534.0" cy="272.9" r="5.5"/><circle cx="561.9" cy="277.7" r="5.5"/><circle cx="537.3" cy="276.1" r="5.5"/><circle cx="572.7" cy="274.5" r="5.5"/><circle cx="550.3" cy="268.7" r="5.5"/><circle cx="562.9" cy="286.2" r="5.5"/><circle cx="555.0" cy="287.7" r="5.5"/><circle cx="563.9" cy="293.0" r="5.5"/><circle cx="555.4" cy="290.9" r="5.5"/><circle cx="548.3" cy="297.7" r="5.5"/><circle cx="561.3" cy="296.0" r="5.5"/><circle cx="573.0" cy="288.0" r="5.5"/><circle cx="548.7" cy="274.1" r="5.5"/><circle cx="539.0" cy="276.3" r="5.5"/><circle cx="538.0" cy="270.9" r="5.5"/><circle cx="532.2" cy="295.7" r="5.5"/><circle cx="548.1" cy="276.1" r="5.5"/><circle cx="546.0" cy="287.0" r="5.5"/><circle cx="572.5" cy="280.4" r="5.5"/><circle cx="587.2" cy="332.1" r="5.5"/><circle cx="583.7" cy="332.1" r="5.5"/><circle cx="578.5" cy="332.1" r="5.5"/><circle cx="574.1" cy="332.1" r="5.5"/><circle cx="569.5" cy="332.1" r="5.5"/><circle cx="558.6" cy="332.1" r="5.5"/><circle cx="557.9" cy="332.1" r="5.5"/><circle cx="553.1" cy="332.1" r="5.5"/><circle cx="135.0" cy="332.1" r="5.5"/><circle cx="137.6" cy="332.1" r="5.5"/><circle cx="140.2" cy="332.1" r="5.5"/><circle cx="142.8" cy="332.1" r="5.5"/><circle cx="145.4" cy="332.1" r="5.5"/><circle cx="148.0" cy="332.1" r="5.5"/><circle cx="150.6" cy="332.1" r="5.5"/><circle cx="153.2" cy="332.1" r="5.5"/><circle cx="155.8" cy="332.1" r="5.5"/><circle cx="158.4" cy="332.1" r="5.5"/><circle cx="161.0" cy="332.1" r="5.5"/><circle cx="163.6" cy="332.1" r="5.5"/><circle cx="166.2" cy="332.1" r="5.5"/><circle cx="168.8" cy="332.1" r="5.5"/><circle cx="171.4" cy="332.1" r="5.5"/><circle cx="174.0" cy="332.1" r="5.5"/><circle cx="176.6" cy="332.1" r="5.5"/><circle cx="179.2" cy="332.1" r="5.5"/><circle cx="181.8" cy="332.1" r="5.5"/><circle cx="184.4" cy="332.1" r="5.5"/><circle cx="187.0" cy="332.1" r="5.5"/><circle cx="189.6" cy="332.1" r="5.5"/><circle cx="192.2" cy="332.1" r="5.5"/><circle cx="194.8" cy="332.1" r="5.5"/><circle cx="197.4" cy="332.1" r="5.5"/><circle cx="200.0" cy="332.1" r="5.5"/><circle cx="202.6" cy="332.1" r="5.5"/><circle cx="205.2" cy="332.1" r="5.5"/><circle cx="207.8" cy="332.1" r="5.5"/><circle cx="210.4" cy="332.1" r="5.5"/><circle cx="213.0" cy="332.1" r="5.5"/><circle cx="215.6" cy="332.1" r="5.5"/><circle cx="218.2" cy="332.1" r="5.5"/><circle cx="220.8" cy="332.1" r="5.5"/><circle cx="223.4" cy="332.1" r="5.5"/><circle cx="226.0" cy="332.1" r="5.5"/><circle cx="228.6" cy="332.1" r="5.5"/><circle cx="231.2" cy="332.1" r="5.5"/><circle cx="233.8" cy="332.1" r="5.5"/><circle cx="236.4" cy="332.1" r="5.5"/><circle cx="239.0" cy="332.1" r="5.5"/><circle cx="241.6" cy="332.1" r="5.5"/><circle cx="244.2" cy="332.1" r="5.5"/><circle cx="246.8" cy="332.1" r="5.5"/><circle cx="249.4" cy="332.1" r="5.5"/><circle cx="252.0" cy="332.1" r="5.5"/><circle cx="254.6" cy="332.1" r="5.5"/><circle cx="257.2" cy="332.1" r="5.5"/><circle cx="259.8" cy="332.1" r="5.5"/><circle cx="262.4" cy="332.1" r="5.5"/><circle cx="265.0" cy="332.1" r="5.5"/><circle cx="267.6" cy="332.1" r="5.5"/><circle cx="270.2" cy="332.1" r="5.5"/><circle cx="272.8" cy="332.1" r="5.5"/><circle cx="275.4" cy="332.1" r="5.5"/><circle cx="278.0" cy="332.1" r="5.5"/><circle cx="280.6" cy="332.1" r="5.5"/><circle cx="283.2" cy="332.1" r="5.5"/><circle cx="285.8" cy="332.1" r="5.5"/><circle cx="288.4" cy="332.1" r="5.5"/><circle cx="291.0" cy="332.1" r="5.5"/><circle cx="293.6" cy="332.1" r="5.5"/><circle cx="296.2" cy="332.1" r="5.5"/><circle cx="298.8" cy="332.1" r="5.5"/><circle cx="301.4" cy="332.1" r="5.5"/><circle cx="304.0" cy="332.1" r="5.5"/><circle cx="306.6" cy="332.1" r="5.5"/><circle cx="309.2" cy="332.1" r="5.5"/><circle cx="311.8" cy="332.1" r="5.5"/><circle cx="314.4" cy="332.1" r="5.5"/><circle cx="317.0" cy="332.1" r="5.5"/><circle cx="319.6" cy="332.1" r="5.5"/><circle cx="322.2" cy="332.1" r="5.5"/><circle cx="324.8" cy="332.1" r="5.5"/><circle cx="327.4" cy="332.1" r="5.5"/><circle cx="330.0" cy="332.1" r="5.5"/><circle cx="332.6" cy="332.1" r="5.5"/><circle cx="335.2" cy="332.1" r="5.5"/><circle cx="337.8" cy="332.1" r="5.5"/><circle cx="340.4" cy="332.1" r="5.5"/><circle cx="343.0" cy="332.1" r="5.5"/><circle cx="345.6" cy="332.1" r="5.5"/><circle cx="348.2" cy="332.1" r="5.5"/><circle cx="350.8" cy="332.1" r="5.5"/><circle cx="353.4" cy="332.1" r="5.5"/><circle cx="356.0" cy="332.1" r="5.5"/><circle cx="358.6" cy="332.1" r="5.5"/><circle cx="361.2" cy="332.1" r="5.5"/><circle cx="363.8" cy="332.1" r="5.5"/><circle cx="366.4" cy="332.1" r="5.5"/><circle cx="369.0" cy="332.1" r="5.5"/><circle cx="371.6" cy="332.1" r="5.5"/><circle cx="374.2" cy="332.1" r="5.5"/><circle cx="376.8" cy="332.1" r="5.5"/><circle cx="379.4" cy="332.1" r="5.5"/><circle cx="382.0" cy="332.1" r="5.5"/><circle cx="384.6" cy="332.1" r="5.5"/><circle cx="387.2" cy="332.1" r="5.5"/><circle cx="389.8" cy="332.1" r="5.5"/><circle cx="392.4" cy="332.1" r="5.5"/><circle cx="395.0" cy="332.1" r="5.5"/><circle cx="397.6" cy="332.1" r="5.5"/><circle cx="400.2" cy="332.1" r="5.5"/><circle cx="402.8" cy="332.1" r="5.5"/><circle cx="405.4" cy="332.1" r="5.5"/><circle cx="408.0" cy="332.1" r="5.5"/><circle cx="410.6" cy="332.1" r="5.5"/><circle cx="413.2" cy="332.1" r="5.5"/><circle cx="415.8" cy="332.1" r="5.5"/><circle cx="418.4" cy="332.1" r="5.5"/><circle cx="421.0" cy="332.1" r="5.5"/><circle cx="423.6" cy="332.1" r="5.5"/><circle cx="426.2" cy="332.1" r="5.5"/><circle cx="428.8" cy="332.1" r="5.5"/><circle cx="431.4" cy="332.1" r="5.5"/><circle cx="434.0" cy="332.1" r="5.5"/><circle cx="436.6" cy="332.1" r="5.5"/><circle cx="439.2" cy="332.1" r="5.5"/><circle cx="441.8" cy="332.1" r="5.5"/><circle cx="444.4" cy="332.1" r="5.5"/><circle cx="447.0" cy="332.1" r="5.5"/><circle cx="449.6" cy="332.1" r="5.5"/><circle cx="452.2" cy="332.1" r="5.5"/><circle cx="454.8" cy="332.1" r="5.5"/><circle cx="457.4" cy="332.1" r="5.5"/><circle cx="460.0" cy="332.1" r="5.5"/><circle cx="462.6" cy="332.1" r="5.5"/><circle cx="465.2" cy="332.1" r="5.5"/><circle cx="467.8" cy="332.1" r="5.5"/><circle cx="470.4" cy="332.1" r="5.5"/><circle cx="473.0" cy="332.1" r="5.5"/><circle cx="475.6" cy="332.1" r="5.5"/><circle cx="478.2" cy="332.1" r="5.5"/><circle cx="480.8" cy="332.1" r="5.5"/><circle cx="483.4" cy="332.1" r="5.5"/><circle cx="486.0" cy="332.1" r="5.5"/><circle cx="488.6" cy="332.1" r="5.5"/><circle cx="491.2" cy="332.1" r="5.5"/><circle cx="493.8" cy="332.1" r="5.5"/><circle cx="496.4" cy="332.1" r="5.5"/><circle cx="499.0" cy="332.1" r="5.5"/><circle cx="501.6" cy="332.1" r="5.5"/><circle cx="504.2" cy="332.1" r="5.5"/><circle cx="506.8" cy="332.1" r="5.5"/><circle cx="509.4" cy="332.1" r="5.5"/><circle cx="512.0" cy="332.1" r="5.5"/><circle cx="514.6" cy="332.1" r="5.5"/><circle cx="517.2" cy="332.1" r="5.5"/><circle cx="519.8" cy="332.1" r="5.5"/><circle cx="522.4" cy="332.1" r="5.5"/><circle cx="525.0" cy="332.1" r="5.5"/><circle cx="527.6" cy="332.1" r="5.5"/><circle cx="530.2" cy="332.1" r="5.5"/><circle cx="532.8" cy="332.1" r="5.5"/><circle cx="535.4" cy="332.1" r="5.5"/><circle cx="538.0" cy="332.1" r="5.5"/><circle cx="540.6" cy="332.1" r="5.5"/><circle cx="543.2" cy="332.1" r="5.5"/><circle cx="545.8" cy="332.1" r="5.5"/><circle cx="548.4" cy="332.1" r="5.5"/><circle cx="551.0" cy="332.1" r="5.5"/><circle cx="187.0" cy="320.5" r="5.5"/><circle cx="208.0" cy="321.0" r="5.5"/><circle cx="231.0" cy="320.5" r="5.5"/><circle cx="370.7" cy="319.0" r="5.5"/><circle cx="398.6" cy="320.0" r="5.5"/><circle cx="419.2" cy="321.0" r="5.5"/><circle cx="438.3" cy="323.0" r="5.5"/><circle cx="458.9" cy="321.0" r="5.5"/><circle cx="482.6" cy="324.0" r="5.5"/><circle cx="500.0" cy="325.0" r="5.5"/><circle cx="522.0" cy="325.0" r="5.5"/><circle cx="300.0" cy="320.0" r="5.5"/><circle cx="262.0" cy="319.5" r="5.5"/><circle cx="99.0" cy="365.8" r="5.5"/><circle cx="119.6" cy="365.8" r="5.5"/><circle cx="132.3" cy="365.8" r="5.5"/><circle cx="140.2" cy="365.8" r="5.5"/><circle cx="587.5" cy="365.8" r="5.5"/><circle cx="566.5" cy="365.8" r="5.5"/><circle cx="558.5" cy="365.8" r="5.5"/><circle cx="547.0" cy="365.8" r="5.5"/><circle cx="159.0" cy="365.8" r="5.5"/><circle cx="167.1" cy="365.8" r="5.5"/><circle cx="169.3" cy="365.8" r="5.5"/><circle cx="179.2" cy="365.8" r="5.5"/><circle cx="186.9" cy="365.8" r="5.5"/><circle cx="190.5" cy="365.8" r="5.5"/><circle cx="194.5" cy="365.8" r="5.5"/><circle cx="198.4" cy="365.8" r="5.5"/><circle cx="203.7" cy="365.8" r="5.5"/><circle cx="209.2" cy="365.8" r="5.5"/><circle cx="214.9" cy="365.8" r="5.5"/><circle cx="216.0" cy="365.8" r="5.5"/><circle cx="222.0" cy="365.8" r="5.5"/><circle cx="229.3" cy="365.8" r="5.5"/><circle cx="232.6" cy="365.8" r="5.5"/><circle cx="235.3" cy="365.8" r="5.5"/><circle cx="239.3" cy="365.8" r="5.5"/><circle cx="244.6" cy="365.8" r="5.5"/><circle cx="247.8" cy="365.8" r="5.5"/><circle cx="250.7" cy="365.8" r="5.5"/><circle cx="252.8" cy="365.8" r="5.5"/><circle cx="257.6" cy="365.8" r="5.5"/><circle cx="260.1" cy="365.8" r="5.5"/><circle cx="265.3" cy="365.8" r="5.5"/><circle cx="268.8" cy="365.8" r="5.5"/><circle cx="270.7" cy="365.8" r="5.5"/><circle cx="273.0" cy="365.8" r="5.5"/><circle cx="277.7" cy="365.8" r="5.5"/><circle cx="281.9" cy="365.8" r="5.5"/><circle cx="286.3" cy="365.8" r="5.5"/><circle cx="287.4" cy="365.8" r="5.5"/><circle cx="289.2" cy="365.8" r="5.5"/><circle cx="293.2" cy="365.8" r="5.5"/><circle cx="295.1" cy="365.8" r="5.5"/><circle cx="297.8" cy="365.8" r="5.5"/><circle cx="299.7" cy="365.8" r="5.5"/><circle cx="302.6" cy="365.8" r="5.5"/><circle cx="304.9" cy="365.8" r="5.5"/><circle cx="308.3" cy="365.8" r="5.5"/><circle cx="311.3" cy="365.8" r="5.5"/><circle cx="313.5" cy="365.8" r="5.5"/><circle cx="315.8" cy="365.8" r="5.5"/><circle cx="316.9" cy="365.8" r="5.5"/><circle cx="319.7" cy="365.8" r="5.5"/><circle cx="321.9" cy="365.8" r="5.5"/><circle cx="322.9" cy="365.8" r="5.5"/><circle cx="324.1" cy="365.8" r="5.5"/><circle cx="325.7" cy="365.8" r="5.5"/><circle cx="327.8" cy="365.8" r="5.5"/><circle cx="330.1" cy="365.8" r="5.5"/><circle cx="332.7" cy="365.8" r="5.5"/><circle cx="336.1" cy="365.8" r="5.5"/><circle cx="337.4" cy="365.8" r="5.5"/><circle cx="338.9" cy="365.8" r="5.5"/><circle cx="341.0" cy="365.8" r="5.5"/><circle cx="343.0" cy="365.8" r="5.5"/><circle cx="345.9" cy="365.8" r="5.5"/><circle cx="349.1" cy="365.8" r="5.5"/><circle cx="351.6" cy="365.8" r="5.5"/><circle cx="354.4" cy="365.8" r="5.5"/><circle cx="357.2" cy="365.8" r="5.5"/><circle cx="358.5" cy="365.8" r="5.5"/><circle cx="360.4" cy="365.8" r="5.5"/><circle cx="362.4" cy="365.8" r="5.5"/><circle cx="363.5" cy="365.8" r="5.5"/><circle cx="365.4" cy="365.8" r="5.5"/><circle cx="366.8" cy="365.8" r="5.5"/><circle cx="369.6" cy="365.8" r="5.5"/><circle cx="371.3" cy="365.8" r="5.5"/><circle cx="373.3" cy="365.8" r="5.5"/><circle cx="376.8" cy="365.8" r="5.5"/><circle cx="379.2" cy="365.8" r="5.5"/><circle cx="383.0" cy="365.8" r="5.5"/><circle cx="385.8" cy="365.8" r="5.5"/><circle cx="388.4" cy="365.8" r="5.5"/><circle cx="391.9" cy="365.8" r="5.5"/><circle cx="393.5" cy="365.8" r="5.5"/><circle cx="397.3" cy="365.8" r="5.5"/><circle cx="399.7" cy="365.8" r="5.5"/><circle cx="400.9" cy="365.8" r="5.5"/><circle cx="403.8" cy="365.8" r="5.5"/><circle cx="405.2" cy="365.8" r="5.5"/><circle cx="408.1" cy="365.8" r="5.5"/><circle cx="411.4" cy="365.8" r="5.5"/><circle cx="415.1" cy="365.8" r="5.5"/><circle cx="418.8" cy="365.8" r="5.5"/><circle cx="419.8" cy="365.8" r="5.5"/><circle cx="420.8" cy="365.8" r="5.5"/><circle cx="424.7" cy="365.8" r="5.5"/><circle cx="428.1" cy="365.8" r="5.5"/><circle cx="433.1" cy="365.8" r="5.5"/><circle cx="435.9" cy="365.8" r="5.5"/><circle cx="437.4" cy="365.8" r="5.5"/><circle cx="438.4" cy="365.8" r="5.5"/><circle cx="439.6" cy="365.8" r="5.5"/><circle cx="441.5" cy="365.8" r="5.5"/><circle cx="446.3" cy="365.8" r="5.5"/><circle cx="450.3" cy="365.8" r="5.5"/><circle cx="456.1" cy="365.8" r="5.5"/><circle cx="462.3" cy="365.8" r="5.5"/><circle cx="466.5" cy="365.8" r="5.5"/><circle cx="468.5" cy="365.8" r="5.5"/><circle cx="470.8" cy="365.8" r="5.5"/><circle cx="475.8" cy="365.8" r="5.5"/><circle cx="477.9" cy="365.8" r="5.5"/><circle cx="482.6" cy="365.8" r="5.5"/><circle cx="487.5" cy="365.8" r="5.5"/><circle cx="488.7" cy="365.8" r="5.5"/><circle cx="490.3" cy="365.8" r="5.5"/><circle cx="499.1" cy="365.8" r="5.5"/><circle cx="504.4" cy="365.8" r="5.5"/><circle cx="509.8" cy="365.8" r="5.5"/><circle cx="515.0" cy="365.8" r="5.5"/><circle cx="524.2" cy="365.8" r="5.5"/>
</g>
<path d="M140.04 375.65L140.04 363.85M140.04 25.00L140.04 36.80M241.77 375.65L241.77 363.85M241.77 25.00L241.77 36.80M343.50 375.65L343.50 363.85M343.50 25.00L343.50 36.80M445.23 375.65L445.23 363.85M445.23 25.00L445.23 36.80M546.96 375.65L546.96 363.85M546.96 25.00L546.96 36.80M79.00 365.80L90.80 365.80M608.00 365.80L596.20 365.80M79.00 317.11L90.80 317.11M608.00 317.11L596.20 317.11M79.00 268.42L90.80 268.42M608.00 268.42L596.20 268.42M79.00 219.73L90.80 219.73M608.00 219.73L596.20 219.73M79.00 171.04L90.80 171.04M608.00 171.04L596.20 171.04M79.00 122.35L90.80 122.35M608.00 122.35L596.20 122.35M79.00 73.66L90.80 73.66M608.00 73.66L596.20 73.66M79.00 24.97L90.80 24.97M608.00 24.97L596.20 24.97" stroke="#000" stroke-width="1" fill="none"/>
<line x1="79.00" y1="38.25" x2="608.00" y2="38.25" stroke="#00f" stroke-width="3.5" />
<rect x="79" y="25" width="529" height="350.65" fill="none" stroke="#000" stroke-width="2"/>
<text transform="translate(140.0,412.5) scale(1,1.06)" font-size="32" text-anchor="middle" >-20</text>
<text transform="translate(241.8,412.5) scale(1,1.06)" font-size="32" text-anchor="middle" >-10</text>
<text transform="translate(343.5,412.5) scale(1,1.06)" font-size="32" text-anchor="middle" >&#160;0</text>
<text transform="translate(445.2,412.5) scale(1,1.06)" font-size="32" text-anchor="middle" >&#160;10</text>
<text transform="translate(547.0,412.5) scale(1,1.06)" font-size="32" text-anchor="middle" >&#160;20</text>
<text transform="translate(63.5,377.0) scale(1,1.06)" font-size="32" text-anchor="end" >0</text>
<text transform="translate(63.5,328.3) scale(1,1.06)" font-size="32" text-anchor="end" >1</text>
<text transform="translate(63.5,279.6) scale(1,1.06)" font-size="32" text-anchor="end" >2</text>
<text transform="translate(63.5,230.9) scale(1,1.06)" font-size="32" text-anchor="end" >3</text>
<text transform="translate(63.5,182.2) scale(1,1.06)" font-size="32" text-anchor="end" >4</text>
<text transform="translate(63.5,133.6) scale(1,1.06)" font-size="32" text-anchor="end" >5</text>
<text transform="translate(63.5,84.9) scale(1,1.06)" font-size="32" text-anchor="end" >6</text>
<text transform="translate(63.5,36.2) scale(1,1.06)" font-size="32" text-anchor="end" >7</text>
<text x="343.6" y="450.0" font-size="33" text-anchor="middle" >E/J</text>
<text transform="translate(24.2,201) rotate(-90)" font-size="33" text-anchor="middle">S<tspan font-size="26.4" dy="8.7">vN</tspan></text>
<text x="0.0" y="26.2" font-size="37" text-anchor="start" >(a)</text>
<text x="398" y="70.4" font-size="28.2">S<tspan font-size="22.6" dy="8.8">Page</tspan></text>
<line x1="488.80" y1="63.70" x2="570.10" y2="63.70" stroke="#00f" stroke-width="3" />
</g>
<g id="pb">
<path d="M748.24 375.65L748.24 369.75M748.24 24.90L748.24 30.80M758.91 375.65L758.91 369.75M758.91 24.90L758.91 30.80M768.15 375.65L768.15 369.75M768.15 24.90L768.15 30.80M776.31 375.65L776.31 369.75M776.31 24.90L776.31 30.80M783.60 375.65L783.60 363.85M783.60 24.90L783.60 36.70M831.58 375.65L831.58 369.75M831.58 24.90L831.58 30.80M859.65 375.65L859.65 369.75M859.65 24.90L859.65 30.80M879.57 375.65L879.57 369.75M879.57 24.90L879.57 30.80M895.02 375.65L895.02 369.75M895.02 24.90L895.02 30.80M907.64 375.65L907.64 369.75M907.64 24.90L907.64 30.80M918.31 375.65L918.31 369.75M918.31 24.90L918.31 30.80M927.55 375.65L927.55 369.75M927.55 24.90L927.55 30.80M935.71 375.65L935.71 369.75M935.71 24.90L935.71 30.80M943.00 375.65L943.00 363.85M943.00 24.90L943.00 36.70M990.98 375.65L990.98 369.75M990.98 24.90L990.98 30.80M1019.05 375.65L1019.05 369.75M1019.05 24.90L1019.05 30.80M1038.97 375.65L1038.97 369.75M1038.97 24.90L1038.97 30.80M1054.42 375.65L1054.42 369.75M1054.42 24.90L1054.42 30.80M1067.04 375.65L1067.04 369.75M1067.04 24.90L1067.04 30.80M1077.71 375.65L1077.71 369.75M1077.71 24.90L1077.71 30.80M1086.95 375.65L1086.95 369.75M1086.95 24.90L1086.95 30.80M1095.11 375.65L1095.11 369.75M1095.11 24.90L1095.11 30.80M1102.40 375.65L1102.40 363.85M1102.40 24.90L1102.40 36.70M1150.38 375.65L1150.38 369.75M1150.38 24.90L1150.38 30.80M1178.45 375.65L1178.45 369.75M1178.45 24.90L1178.45 30.80M1198.37 375.65L1198.37 369.75M1198.37 24.90L1198.37 30.80M1213.82 375.65L1213.82 369.75M1213.82 24.90L1213.82 30.80M1226.44 375.65L1226.44 369.75M1226.44 24.90L1226.44 30.80M1237.11 375.65L1237.11 369.75M1237.11 24.90L1237.11 30.80M1246.35 375.65L1246.35 369.75M1246.35 24.90L1246.35 30.80M1254.51 375.65L1254.51 369.75M1254.51 24.90L1254.51 30.80M1261.80 375.65L1261.80 363.85M1261.80 24.90L1261.80 36.70M748.10 375.65L759.90 375.65M1262.00 375.65L1250.20 375.65M748.10 358.05L754.00 358.05M1262.00 358.05L1256.10 358.05M748.10 347.76L754.00 347.76M1262.00 347.76L1256.10 347.76M748.10 340.45L754.00 340.45M1262.00 340.45L1256.10 340.45M748.10 334.79L754.00 334.79M1262.00 334.79L1256.10 334.79M748.10 330.16L754.00 330.16M1262.00 330.16L1256.10 330.16M748.10 326.25L754.00 326.25M1262.00 326.25L1256.10 326.25M748.10 322.86L754.00 322.86M1262.00 322.86L1256.10 322.86M748.10 319.86L754.00 319.86M1262.00 319.86L1256.10 319.86M748.10 317.19L759.90 317.19M1262.00 317.19L1250.20 317.19M748.10 299.59L754.00 299.59M1262.00 299.59L1256.10 299.59M748.10 289.30L754.00 289.30M1262.00 289.30L1256.10 289.30M748.10 281.99L754.00 281.99M1262.00 281.99L1256.10 281.99M748.10 276.33L754.00 276.33M1262.00 276.33L1256.10 276.33M748.10 271.70L754.00 271.70M1262.00 271.70L1256.10 271.70M748.10 267.79L754.00 267.79M1262.00 267.79L1256.10 267.79M748.10 264.40L754.00 264.40M1262.00 264.40L1256.10 264.40M748.10 261.40L754.00 261.40M1262.00 261.40L1256.10 261.40M748.10 258.73L759.90 258.73M1262.00 258.73L1250.20 258.73M748.10 241.13L754.00 241.13M1262.00 241.13L1256.10 241.13M748.10 230.84L754.00 230.84M1262.00 230.84L1256.10 230.84M748.10 223.53L754.00 223.53M1262.00 223.53L1256.10 223.53M748.10 217.87L754.00 217.87M1262.00 217.87L1256.10 217.87M748.10 213.24L754.00 213.24M1262.00 213.24L1256.10 213.24M748.10 209.33L754.00 209.33M1262.00 209.33L1256.10 209.33M748.10 205.94L754.00 205.94M1262.00 205.94L1256.10 205.94M748.10 202.94L754.00 202.94M1262.00 202.94L1256.10 202.94M748.10 200.27L759.90 200.27M1262.00 200.27L1250.20 200.27M748.10 182.67L754.00 182.67M1262.00 182.67L1256.10 182.67M748.10 172.38L754.00 172.38M1262.00 172.38L1256.10 172.38M748.10 165.07L754.00 165.07M1262.00 165.07L1256.10 165.07M748.10 159.41L754.00 159.41M1262.00 159.41L1256.10 159.41M748.10 154.78L754.00 154.78M1262.00 154.78L1256.10 154.78M748.10 150.87L754.00 150.87M1262.00 150.87L1256.10 150.87M748.10 147.48L754.00 147.48M1262.00 147.48L1256.10 147.48M748.10 144.48L754.00 144.48M1262.00 144.48L1256.10 144.48M748.10 141.81L759.90 141.81M1262.00 141.81L1250.20 141.81M748.10 124.21L754.00 124.21M1262.00 124.21L1256.10 124.21M748.10 113.92L754.00 113.92M1262.00 113.92L1256.10 113.92M748.10 106.61L754.00 106.61M1262.00 106.61L1256.10 106.61M748.10 100.95L754.00 100.95M1262.00 100.95L1256.10 100.95M748.10 96.32L754.00 96.32M1262.00 96.32L1256.10 96.32M748.10 92.41L754.00 92.41M1262.00 92.41L1256.10 92.41M748.10 89.02L754.00 89.02M1262.00 89.02L1256.10 89.02M748.10 86.02L754.00 86.02M1262.00 86.02L1256.10 86.02M748.10 83.35L759.90 83.35M1262.00 83.35L1250.20 83.35M748.10 65.75L754.00 65.75M1262.00 65.75L1256.10 65.75M748.10 55.46L754.00 55.46M1262.00 55.46L1256.10 55.46M748.10 48.15L754.00 48.15M1262.00 48.15L1256.10 48.15M748.10 42.49L754.00 42.49M1262.00 42.49L1256.10 42.49M748.10 37.86L754.00 37.86M1262.00 37.86L1256.10 37.86M748.10 33.95L754.00 33.95M1262.00 33.95L1256.10 33.95M748.10 30.56L754.00 30.56M1262.00 30.56L1256.10 30.56M748.10 27.56L754.00 27.56M1262.00 27.56L1256.10 27.56M748.10 24.89L759.90 24.89M1262.00 24.89L1250.20 24.89" stroke="#000" stroke-width="1" fill="none"/>
<circle cx="783.6" cy="257.3" r="11.2" fill="none" stroke="#ff0000" stroke-width="2.7"/><rect x="782.6" y="256.3" width="2" height="2" fill="#ff0000"/>
<circle cx="831.3" cy="275.9" r="11.2" fill="none" stroke="#ff0000" stroke-width="2.7"/><rect x="830.3" y="274.9" width="2" height="2" fill="#ff0000"/>
<circle cx="859.4" cy="289.4" r="11.2" fill="none" stroke="#ff0000" stroke-width="2.7"/><rect x="858.4" y="288.4" width="2" height="2" fill="#ff0000"/>
<circle cx="879.0" cy="306.6" r="11.2" fill="none" stroke="#ff0000" stroke-width="2.7"/><rect x="878.0" y="305.6" width="2" height="2" fill="#ff0000"/>
<circle cx="894.8" cy="314.7" r="11.2" fill="none" stroke="#ff0000" stroke-width="2.7"/><rect x="893.8" y="313.7" width="2" height="2" fill="#ff0000"/>
<circle cx="907.5" cy="322.8" r="11.2" fill="none" stroke="#ff0000" stroke-width="2.7"/><rect x="906.5" y="321.8" width="2" height="2" fill="#ff0000"/>
<rect x="772.2" y="199.6" width="22.8" height="22.8" fill="none" stroke="#0000ff" stroke-width="2.0"/><rect x="782.9" y="210.3" width="1.4" height="1.4" fill="#0000ff"/>
<rect x="819.9" y="217.6" width="22.8" height="22.8" fill="none" stroke="#0000ff" stroke-width="2.0"/><rect x="830.6" y="228.3" width="1.4" height="1.4" fill="#0000ff"/>
<rect x="848.0" y="224.4" width="22.8" height="22.8" fill="none" stroke="#0000ff" stroke-width="2.0"/><rect x="858.7" y="235.1" width="1.4" height="1.4" fill="#0000ff"/>
<rect x="867.6" y="237.4" width="22.8" height="22.8" fill="none" stroke="#0000ff" stroke-width="2.0"/><rect x="878.3" y="248.1" width="1.4" height="1.4" fill="#0000ff"/>
<rect x="883.4" y="248.7" width="22.8" height="22.8" fill="none" stroke="#0000ff" stroke-width="2.0"/><rect x="894.1" y="259.4" width="1.4" height="1.4" fill="#0000ff"/>
<rect x="896.1" y="244.7" width="22.8" height="22.8" fill="none" stroke="#0000ff" stroke-width="2.0"/><rect x="906.8" y="255.4" width="1.4" height="1.4" fill="#0000ff"/>
<rect x="906.8" y="274.6" width="22.8" height="22.8" fill="none" stroke="#0000ff" stroke-width="2.0"/><rect x="917.5" y="285.3" width="1.4" height="1.4" fill="#0000ff"/>
<rect x="915.9" y="264.9" width="22.8" height="22.8" fill="none" stroke="#0000ff" stroke-width="2.0"/><rect x="926.6" y="275.6" width="1.4" height="1.4" fill="#0000ff"/>
<rect x="924.0" y="271.0" width="22.8" height="22.8" fill="none" stroke="#0000ff" stroke-width="2.0"/><rect x="934.7" y="281.7" width="1.4" height="1.4" fill="#0000ff"/>
<rect x="931.7" y="282.7" width="22.8" height="22.8" fill="none" stroke="#0000ff" stroke-width="2.0"/><rect x="942.4" y="293.4" width="1.4" height="1.4" fill="#0000ff"/>
<rect x="944.3" y="266.1" width="22.8" height="22.8" fill="none" stroke="#0000ff" stroke-width="2.0"/><rect x="955.0" y="276.8" width="1.4" height="1.4" fill="#0000ff"/>
<rect x="955.0" y="336.7" width="22.8" height="22.8" fill="none" stroke="#0000ff" stroke-width="2.0"/><rect x="965.7" y="347.4" width="1.4" height="1.4" fill="#0000ff"/>
<rect x="959.6" y="283.3" width="22.8" height="22.8" fill="none" stroke="#0000ff" stroke-width="2.0"/><rect x="970.3" y="294.0" width="1.4" height="1.4" fill="#0000ff"/>
<rect x="964.7" y="301.3" width="22.8" height="22.8" fill="none" stroke="#0000ff" stroke-width="2.0"/><rect x="975.4" y="312.0" width="1.4" height="1.4" fill="#0000ff"/>
<rect x="972.2" y="301.3" width="22.8" height="22.8" fill="none" stroke="#0000ff" stroke-width="2.0"/><rect x="982.9" y="312.0" width="1.4" height="1.4" fill="#0000ff"/>
<path d="M783.5 147.6L772.2 165.4L794.8 165.4Z" fill="none" stroke="#006400" stroke-width="2.0"/><rect x="782.8" y="159.1" width="1.4" height="1.4" fill="#006400"/>
<path d="M831.5 164.7L820.2 182.5L842.8 182.5Z" fill="none" stroke="#006400" stroke-width="2.0"/><rect x="830.8" y="176.2" width="1.4" height="1.4" fill="#006400"/>
<path d="M859.6 171.2L848.3 189.0L870.9 189.0Z" fill="none" stroke="#006400" stroke-width="2.0"/><rect x="858.9" y="182.7" width="1.4" height="1.4" fill="#006400"/>
<path d="M879.1 180.1L867.8 197.9L890.4 197.9Z" fill="none" stroke="#006400" stroke-width="2.0"/><rect x="878.4" y="191.6" width="1.4" height="1.4" fill="#006400"/>
<path d="M895.4 199.8L884.1 217.6L906.7 217.6Z" fill="none" stroke="#006400" stroke-width="2.0"/><rect x="894.7" y="211.3" width="1.4" height="1.4" fill="#006400"/>
<path d="M907.7 188.2L896.4 206.0L919.0 206.0Z" fill="none" stroke="#006400" stroke-width="2.0"/><rect x="907.0" y="199.7" width="1.4" height="1.4" fill="#006400"/>
<path d="M918.4 221.1L907.1 238.9L929.7 238.9Z" fill="none" stroke="#006400" stroke-width="2.0"/><rect x="917.7" y="232.6" width="1.4" height="1.4" fill="#006400"/>
<path d="M927.6 201.5L916.3 219.3L938.9 219.3Z" fill="none" stroke="#006400" stroke-width="2.0"/><rect x="926.9" y="213.0" width="1.4" height="1.4" fill="#006400"/>
<path d="M935.5 205.8L924.2 223.6L946.8 223.6Z" fill="none" stroke="#006400" stroke-width="2.0"/><rect x="934.8" y="217.3" width="1.4" height="1.4" fill="#006400"/>
<path d="M943.2 221.8L931.9 239.6L954.5 239.6Z" fill="none" stroke="#006400" stroke-width="2.0"/><rect x="942.5" y="233.3" width="1.4" height="1.4" fill="#006400"/>
<path d="M949.3 239.4L938.0 257.2L960.6 257.2Z" fill="none" stroke="#006400" stroke-width="2.0"/><rect x="948.6" y="250.9" width="1.4" height="1.4" fill="#006400"/>
<path d="M955.9 204.2L944.6 222.0L967.2 222.0Z" fill="none" stroke="#006400" stroke-width="2.0"/><rect x="955.2" y="215.7" width="1.4" height="1.4" fill="#006400"/>
<path d="M970.4 224.1L959.1 241.9L981.7 241.9Z" fill="none" stroke="#006400" stroke-width="2.0"/><rect x="969.7" y="235.6" width="1.4" height="1.4" fill="#006400"/>
<path d="M965.8 241.7L954.5 259.5L977.1 259.5Z" fill="none" stroke="#006400" stroke-width="2.0"/><rect x="965.1" y="253.2" width="1.4" height="1.4" fill="#006400"/>
<path d="M975.3 235.6L964.0 253.4L986.6 253.4Z" fill="none" stroke="#006400" stroke-width="2.0"/><rect x="974.6" y="247.1" width="1.4" height="1.4" fill="#006400"/>
<path d="M982.7 228.7L971.4 246.5L994.0 246.5Z" fill="none" stroke="#006400" stroke-width="2.0"/><rect x="982.0" y="240.2" width="1.4" height="1.4" fill="#006400"/>
<path d="M961.2 273.1L949.9 290.9L972.5 290.9Z" fill="none" stroke="#006400" stroke-width="2.0"/><rect x="960.5" y="284.6" width="1.4" height="1.4" fill="#006400"/>
<path d="M979.3 275.4L968.0 293.2L990.6 293.2Z" fill="none" stroke="#006400" stroke-width="2.0"/><rect x="978.6" y="286.9" width="1.4" height="1.4" fill="#006400"/>
<path d="M994.1 275.4L982.8 293.2L1005.4 293.2Z" fill="none" stroke="#006400" stroke-width="2.0"/><rect x="993.4" y="286.9" width="1.4" height="1.4" fill="#006400"/>
<path d="M1001.0 279.2L989.7 297.0L1012.3 297.0Z" fill="none" stroke="#006400" stroke-width="2.0"/><rect x="1000.3" y="290.7" width="1.4" height="1.4" fill="#006400"/>
<path d="M1005.6 277.7L994.3 295.5L1016.9 295.5Z" fill="none" stroke="#006400" stroke-width="2.0"/><rect x="1004.9" y="289.2" width="1.4" height="1.4" fill="#006400"/>
<path d="M1012.5 267.0L1001.2 284.8L1023.8 284.8Z" fill="none" stroke="#006400" stroke-width="2.0"/><rect x="1011.8" y="278.5" width="1.4" height="1.4" fill="#006400"/>
<path d="M1018.6 268.5L1007.3 286.3L1029.9 286.3Z" fill="none" stroke="#006400" stroke-width="2.0"/><rect x="1017.9" y="280.0" width="1.4" height="1.4" fill="#006400"/>
<path d="M1014.0 292.7L1002.7 310.5L1025.3 310.5Z" fill="none" stroke="#006400" stroke-width="2.0"/><rect x="1013.3" y="304.2" width="1.4" height="1.4" fill="#006400"/>
<path d="M1007.0 230.3L995.7 248.1L1018.3 248.1Z" fill="none" stroke="#006400" stroke-width="2.0"/><rect x="1006.3" y="241.8" width="1.4" height="1.4" fill="#006400"/>
<path d="M1019.4 248.6L1008.1 266.4L1030.7 266.4Z" fill="none" stroke="#006400" stroke-width="2.0"/><rect x="1018.7" y="260.1" width="1.4" height="1.4" fill="#006400"/>
<path d="M1031.6 241.7L1020.3 259.5L1042.9 259.5Z" fill="none" stroke="#006400" stroke-width="2.0"/><rect x="1030.9" y="253.2" width="1.4" height="1.4" fill="#006400"/>
<path d="M1050.8 265.5L1039.5 283.3L1062.1 283.3Z" fill="none" stroke="#006400" stroke-width="2.0"/><rect x="1050.1" y="277.0" width="1.4" height="1.4" fill="#006400"/>
<path d="M1059.2 292.2L1047.9 310.0L1070.5 310.0Z" fill="none" stroke="#006400" stroke-width="2.0"/><rect x="1058.5" y="303.7" width="1.4" height="1.4" fill="#006400"/>
<path d="M1040.6 335.5L1029.3 353.3L1051.9 353.3Z" fill="none" stroke="#006400" stroke-width="2.0"/><rect x="1039.9" y="347.0" width="1.4" height="1.4" fill="#006400"/>
<path d="M990.0 249.8L978.7 267.6L1001.3 267.6Z" fill="none" stroke="#006400" stroke-width="2.0"/><rect x="989.3" y="261.3" width="1.4" height="1.4" fill="#006400"/>
<path d="M998.0 257.8L986.7 275.6L1009.3 275.6Z" fill="none" stroke="#006400" stroke-width="2.0"/><rect x="997.3" y="269.3" width="1.4" height="1.4" fill="#006400"/>
<path d="M1026.0 277.8L1014.7 295.6L1037.3 295.6Z" fill="none" stroke="#006400" stroke-width="2.0"/><rect x="1025.3" y="289.3" width="1.4" height="1.4" fill="#006400"/>
<path d="M1036.0 262.8L1024.7 280.6L1047.3 280.6Z" fill="none" stroke="#006400" stroke-width="2.0"/><rect x="1035.3" y="274.3" width="1.4" height="1.4" fill="#006400"/>
<path d="M1044.0 249.8L1032.7 267.6L1055.3 267.6Z" fill="none" stroke="#006400" stroke-width="2.0"/><rect x="1043.3" y="261.3" width="1.4" height="1.4" fill="#006400"/>
<path d="M783.5 119.8L772.2 102.4L794.8 102.4Z" fill="none" stroke="#ff1493" stroke-width="1.9"/><rect x="782.8" y="106.9" width="1.4" height="1.4" fill="#ff1493"/>
<path d="M831.5 134.0L820.2 116.6L842.8 116.6Z" fill="none" stroke="#ff1493" stroke-width="1.9"/><rect x="830.8" y="121.1" width="1.4" height="1.4" fill="#ff1493"/>
<path d="M859.6 140.1L848.3 122.7L870.9 122.7Z" fill="none" stroke="#ff1493" stroke-width="1.9"/><rect x="858.9" y="127.2" width="1.4" height="1.4" fill="#ff1493"/>
<path d="M879.1 146.8L867.8 129.4L890.4 129.4Z" fill="none" stroke="#ff1493" stroke-width="1.9"/><rect x="878.4" y="133.9" width="1.4" height="1.4" fill="#ff1493"/>
<path d="M907.4 155.3L896.1 137.9L918.7 137.9Z" fill="none" stroke="#ff1493" stroke-width="1.9"/><rect x="906.7" y="142.4" width="1.4" height="1.4" fill="#ff1493"/>
<path d="M895.0 166.5L883.7 149.1L906.3 149.1Z" fill="none" stroke="#ff1493" stroke-width="1.9"/><rect x="894.3" y="153.6" width="1.4" height="1.4" fill="#ff1493"/>
<path d="M928.1 169.0L916.8 151.6L939.4 151.6Z" fill="none" stroke="#ff1493" stroke-width="1.9"/><rect x="927.4" y="156.1" width="1.4" height="1.4" fill="#ff1493"/>
<path d="M936.0 174.0L924.7 156.6L947.3 156.6Z" fill="none" stroke="#ff1493" stroke-width="1.9"/><rect x="935.3" y="161.1" width="1.4" height="1.4" fill="#ff1493"/>
<path d="M956.6 171.0L945.3 153.6L967.9 153.6Z" fill="none" stroke="#ff1493" stroke-width="1.9"/><rect x="955.9" y="158.1" width="1.4" height="1.4" fill="#ff1493"/>
<path d="M942.8 188.7L931.5 171.3L954.1 171.3Z" fill="none" stroke="#ff1493" stroke-width="1.9"/><rect x="942.1" y="175.8" width="1.4" height="1.4" fill="#ff1493"/>
<path d="M918.2 192.6L906.9 175.2L929.5 175.2Z" fill="none" stroke="#ff1493" stroke-width="1.9"/><rect x="917.5" y="179.7" width="1.4" height="1.4" fill="#ff1493"/>
<path d="M949.7 212.3L938.4 194.9L961.0 194.9Z" fill="none" stroke="#ff1493" stroke-width="1.9"/><rect x="949.0" y="199.4" width="1.4" height="1.4" fill="#ff1493"/>
<path d="M961.1 168.3L949.8 150.9L972.4 150.9Z" fill="none" stroke="#ff1493" stroke-width="1.9"/><rect x="960.4" y="155.4" width="1.4" height="1.4" fill="#ff1493"/>
<path d="M961.1 227.2L949.8 209.8L972.4 209.8Z" fill="none" stroke="#ff1493" stroke-width="1.9"/><rect x="960.4" y="214.3" width="1.4" height="1.4" fill="#ff1493"/>
<path d="M997.8 263.2L986.5 245.8L1009.1 245.8Z" fill="none" stroke="#ff1493" stroke-width="1.9"/><rect x="997.1" y="250.3" width="1.4" height="1.4" fill="#ff1493"/>
<path d="M1135.8 311.1L1124.5 293.7L1147.1 293.7Z" fill="none" stroke="#ff1493" stroke-width="1.9"/><rect x="1135.1" y="298.2" width="1.4" height="1.4" fill="#ff1493"/>
<path d="M1116.1 359.9L1104.8 342.5L1127.4 342.5Z" fill="none" stroke="#ff1493" stroke-width="1.9"/><rect x="1115.4" y="347.0" width="1.4" height="1.4" fill="#ff1493"/>
<path d="M1072.5 329.0L1061.2 311.6L1083.8 311.6Z" fill="none" stroke="#ff1493" stroke-width="1.9"/><rect x="1071.8" y="316.1" width="1.4" height="1.4" fill="#ff1493"/>
<path d="M942.6 170.0L931.3 152.6L953.9 152.6Z" fill="none" stroke="#ff1493" stroke-width="1.9"/><rect x="941.9" y="157.1" width="1.4" height="1.4" fill="#ff1493"/>
<path d="M957.7 168.8L946.4 151.4L969.0 151.4Z" fill="none" stroke="#ff1493" stroke-width="1.9"/><rect x="957.0" y="155.9" width="1.4" height="1.4" fill="#ff1493"/>
<path d="M942.6 188.9L931.3 171.5L953.9 171.5Z" fill="none" stroke="#ff1493" stroke-width="1.9"/><rect x="941.9" y="176.0" width="1.4" height="1.4" fill="#ff1493"/>
<path d="M948.9 211.5L937.6 194.1L960.2 194.1Z" fill="none" stroke="#ff1493" stroke-width="1.9"/><rect x="948.2" y="198.6" width="1.4" height="1.4" fill="#ff1493"/>
<path d="M962.7 226.6L951.4 209.2L974.0 209.2Z" fill="none" stroke="#ff1493" stroke-width="1.9"/><rect x="962.0" y="213.7" width="1.4" height="1.4" fill="#ff1493"/>
<path d="M969.0 192.7L957.7 175.3L980.3 175.3Z" fill="none" stroke="#ff1493" stroke-width="1.9"/><rect x="968.3" y="179.8" width="1.4" height="1.4" fill="#ff1493"/>
<path d="M980.3 195.2L969.0 177.8L991.6 177.8Z" fill="none" stroke="#ff1493" stroke-width="1.9"/><rect x="979.6" y="182.3" width="1.4" height="1.4" fill="#ff1493"/>
<path d="M990.3 200.2L979.0 182.8L1001.6 182.8Z" fill="none" stroke="#ff1493" stroke-width="1.9"/><rect x="989.6" y="187.3" width="1.4" height="1.4" fill="#ff1493"/>
<path d="M1000.4 192.7L989.1 175.3L1011.7 175.3Z" fill="none" stroke="#ff1493" stroke-width="1.9"/><rect x="999.7" y="179.8" width="1.4" height="1.4" fill="#ff1493"/>
<path d="M975.3 187.6L964.0 170.2L986.6 170.2Z" fill="none" stroke="#ff1493" stroke-width="1.9"/><rect x="974.6" y="174.7" width="1.4" height="1.4" fill="#ff1493"/>
<path d="M1005.4 187.6L994.1 170.2L1016.7 170.2Z" fill="none" stroke="#ff1493" stroke-width="1.9"/><rect x="1004.7" y="174.7" width="1.4" height="1.4" fill="#ff1493"/>
<path d="M992.9 222.8L981.6 205.4L1004.2 205.4Z" fill="none" stroke="#ff1493" stroke-width="1.9"/><rect x="992.2" y="209.9" width="1.4" height="1.4" fill="#ff1493"/>
<path d="M1001.7 226.6L990.4 209.2L1013.0 209.2Z" fill="none" stroke="#ff1493" stroke-width="1.9"/><rect x="1001.0" y="213.7" width="1.4" height="1.4" fill="#ff1493"/>
<path d="M1010.5 230.4L999.2 213.0L1021.8 213.0Z" fill="none" stroke="#ff1493" stroke-width="1.9"/><rect x="1009.8" y="217.5" width="1.4" height="1.4" fill="#ff1493"/>
<path d="M1018.0 222.8L1006.7 205.4L1029.3 205.4Z" fill="none" stroke="#ff1493" stroke-width="1.9"/><rect x="1017.3" y="209.9" width="1.4" height="1.4" fill="#ff1493"/>
<path d="M1005.4 237.9L994.1 220.5L1016.7 220.5Z" fill="none" stroke="#ff1493" stroke-width="1.9"/><rect x="1004.7" y="225.0" width="1.4" height="1.4" fill="#ff1493"/>
<path d="M995.4 248.0L984.1 230.6L1006.7 230.6Z" fill="none" stroke="#ff1493" stroke-width="1.9"/><rect x="994.7" y="235.1" width="1.4" height="1.4" fill="#ff1493"/>
<path d="M1015.5 245.5L1004.2 228.1L1026.8 228.1Z" fill="none" stroke="#ff1493" stroke-width="1.9"/><rect x="1014.8" y="232.6" width="1.4" height="1.4" fill="#ff1493"/>
<path d="M1025.5 243.0L1014.2 225.6L1036.8 225.6Z" fill="none" stroke="#ff1493" stroke-width="1.9"/><rect x="1024.8" y="230.1" width="1.4" height="1.4" fill="#ff1493"/>
<path d="M1033.1 248.0L1021.8 230.6L1044.4 230.6Z" fill="none" stroke="#ff1493" stroke-width="1.9"/><rect x="1032.4" y="235.1" width="1.4" height="1.4" fill="#ff1493"/>
<path d="M997.9 265.6L986.6 248.2L1009.2 248.2Z" fill="none" stroke="#ff1493" stroke-width="1.9"/><rect x="997.2" y="252.7" width="1.4" height="1.4" fill="#ff1493"/>
<path d="M1013.0 273.1L1001.7 255.7L1024.3 255.7Z" fill="none" stroke="#ff1493" stroke-width="1.9"/><rect x="1012.3" y="260.2" width="1.4" height="1.4" fill="#ff1493"/>
<path d="M1020.5 278.2L1009.2 260.8L1031.8 260.8Z" fill="none" stroke="#ff1493" stroke-width="1.9"/><rect x="1019.8" y="265.3" width="1.4" height="1.4" fill="#ff1493"/>
<path d="M1030.6 275.6L1019.3 258.2L1041.9 258.2Z" fill="none" stroke="#ff1493" stroke-width="1.9"/><rect x="1029.9" y="262.7" width="1.4" height="1.4" fill="#ff1493"/>
<path d="M1040.6 273.1L1029.3 255.7L1051.9 255.7Z" fill="none" stroke="#ff1493" stroke-width="1.9"/><rect x="1039.9" y="260.2" width="1.4" height="1.4" fill="#ff1493"/>
<path d="M1048.2 263.1L1036.9 245.7L1059.5 245.7Z" fill="none" stroke="#ff1493" stroke-width="1.9"/><rect x="1047.5" y="250.2" width="1.4" height="1.4" fill="#ff1493"/>
<path d="M1055.7 268.1L1044.4 250.7L1067.0 250.7Z" fill="none" stroke="#ff1493" stroke-width="1.9"/><rect x="1055.0" y="255.2" width="1.4" height="1.4" fill="#ff1493"/>
<path d="M1040.6 253.0L1029.3 235.6L1051.9 235.6Z" fill="none" stroke="#ff1493" stroke-width="1.9"/><rect x="1039.9" y="240.1" width="1.4" height="1.4" fill="#ff1493"/>
<path d="M1030.6 260.6L1019.3 243.2L1041.9 243.2Z" fill="none" stroke="#ff1493" stroke-width="1.9"/><rect x="1029.9" y="247.7" width="1.4" height="1.4" fill="#ff1493"/>
<path d="M1035.6 313.4L1024.3 296.0L1046.9 296.0Z" fill="none" stroke="#ff1493" stroke-width="1.9"/><rect x="1034.9" y="300.5" width="1.4" height="1.4" fill="#ff1493"/>
<path d="M1043.2 320.9L1031.9 303.5L1054.5 303.5Z" fill="none" stroke="#ff1493" stroke-width="1.9"/><rect x="1042.5" y="308.0" width="1.4" height="1.4" fill="#ff1493"/>
<path d="M1048.2 305.8L1036.9 288.4L1059.5 288.4Z" fill="none" stroke="#ff1493" stroke-width="1.9"/><rect x="1047.5" y="292.9" width="1.4" height="1.4" fill="#ff1493"/>
<path d="M1060.8 293.2L1049.5 275.8L1072.1 275.8Z" fill="none" stroke="#ff1493" stroke-width="1.9"/><rect x="1060.1" y="280.3" width="1.4" height="1.4" fill="#ff1493"/>
<path d="M1070.8 303.3L1059.5 285.9L1082.1 285.9Z" fill="none" stroke="#ff1493" stroke-width="1.9"/><rect x="1070.1" y="290.4" width="1.4" height="1.4" fill="#ff1493"/>
<path d="M1078.4 310.8L1067.1 293.4L1089.7 293.4Z" fill="none" stroke="#ff1493" stroke-width="1.9"/><rect x="1077.7" y="297.9" width="1.4" height="1.4" fill="#ff1493"/>
<path d="M1072.1 328.4L1060.8 311.0L1083.4 311.0Z" fill="none" stroke="#ff1493" stroke-width="1.9"/><rect x="1071.4" y="315.5" width="1.4" height="1.4" fill="#ff1493"/>
<path d="M1055.7 283.2L1044.4 265.8L1067.0 265.8Z" fill="none" stroke="#ff1493" stroke-width="1.9"/><rect x="1055.0" y="270.3" width="1.4" height="1.4" fill="#ff1493"/>
<path d="M1065.8 278.2L1054.5 260.8L1077.1 260.8Z" fill="none" stroke="#ff1493" stroke-width="1.9"/><rect x="1065.1" y="265.3" width="1.4" height="1.4" fill="#ff1493"/>
<path d="M1078.4 288.2L1067.1 270.8L1089.7 270.8Z" fill="none" stroke="#ff1493" stroke-width="1.9"/><rect x="1077.7" y="275.3" width="1.4" height="1.4" fill="#ff1493"/>
<path d="M1085.9 298.3L1074.6 280.9L1097.2 280.9Z" fill="none" stroke="#ff1493" stroke-width="1.9"/><rect x="1085.2" y="285.4" width="1.4" height="1.4" fill="#ff1493"/>
<path d="M1126.1 263.1L1114.8 245.7L1137.4 245.7Z" fill="none" stroke="#ff1493" stroke-width="1.9"/><rect x="1125.4" y="250.2" width="1.4" height="1.4" fill="#ff1493"/>
<path d="M1131.2 278.2L1119.9 260.8L1142.5 260.8Z" fill="none" stroke="#ff1493" stroke-width="1.9"/><rect x="1130.5" y="265.3" width="1.4" height="1.4" fill="#ff1493"/>
<path d="M1138.7 310.8L1127.4 293.4L1150.0 293.4Z" fill="none" stroke="#ff1493" stroke-width="1.9"/><rect x="1138.0" y="297.9" width="1.4" height="1.4" fill="#ff1493"/>
<path d="M1113.6 273.1L1102.3 255.7L1124.9 255.7Z" fill="none" stroke="#ff1493" stroke-width="1.9"/><rect x="1112.9" y="260.2" width="1.4" height="1.4" fill="#ff1493"/>
<path d="M1050.7 237.9L1039.4 220.5L1062.0 220.5Z" fill="none" stroke="#ff1493" stroke-width="1.9"/><rect x="1050.0" y="225.0" width="1.4" height="1.4" fill="#ff1493"/>
<path d="M1060.8 248.0L1049.5 230.6L1072.1 230.6Z" fill="none" stroke="#ff1493" stroke-width="1.9"/><rect x="1060.1" y="235.1" width="1.4" height="1.4" fill="#ff1493"/>
<path d="M1070.8 263.1L1059.5 245.7L1082.1 245.7Z" fill="none" stroke="#ff1493" stroke-width="1.9"/><rect x="1070.1" y="250.2" width="1.4" height="1.4" fill="#ff1493"/>
<path d="M1080.9 253.0L1069.6 235.6L1092.2 235.6Z" fill="none" stroke="#ff1493" stroke-width="1.9"/><rect x="1080.2" y="240.1" width="1.4" height="1.4" fill="#ff1493"/>
<path d="M1090.9 268.1L1079.6 250.7L1102.2 250.7Z" fill="none" stroke="#ff1493" stroke-width="1.9"/><rect x="1090.2" y="255.2" width="1.4" height="1.4" fill="#ff1493"/>
<path d="M1070.8 237.9L1059.5 220.5L1082.1 220.5Z" fill="none" stroke="#ff1493" stroke-width="1.9"/><rect x="1070.1" y="225.0" width="1.4" height="1.4" fill="#ff1493"/>
<path d="M1085.9 227.9L1074.6 210.5L1097.2 210.5Z" fill="none" stroke="#ff1493" stroke-width="1.9"/><rect x="1085.2" y="215.0" width="1.4" height="1.4" fill="#ff1493"/>
<path d="M1101.0 285.7L1089.7 268.3L1112.3 268.3Z" fill="none" stroke="#ff1493" stroke-width="1.9"/><rect x="1100.3" y="272.8" width="1.4" height="1.4" fill="#ff1493"/>
<path d="M989.1 237.9L977.8 220.5L1000.4 220.5Z" fill="none" stroke="#ff1493" stroke-width="1.9"/><rect x="988.4" y="225.0" width="1.4" height="1.4" fill="#ff1493"/>
<path d="M999.1 253.0L987.8 235.6L1010.4 235.6Z" fill="none" stroke="#ff1493" stroke-width="1.9"/><rect x="998.4" y="240.1" width="1.4" height="1.4" fill="#ff1493"/>
<path d="M1007.9 259.3L996.6 241.9L1019.2 241.9Z" fill="none" stroke="#ff1493" stroke-width="1.9"/><rect x="1007.2" y="246.4" width="1.4" height="1.4" fill="#ff1493"/>
<path d="M1018.0 260.6L1006.7 243.2L1029.3 243.2Z" fill="none" stroke="#ff1493" stroke-width="1.9"/><rect x="1017.3" y="247.7" width="1.4" height="1.4" fill="#ff1493"/>
<path d="M1028.1 230.4L1016.8 213.0L1039.4 213.0Z" fill="none" stroke="#ff1493" stroke-width="1.9"/><rect x="1027.4" y="217.5" width="1.4" height="1.4" fill="#ff1493"/>
<path d="M1035.6 237.9L1024.3 220.5L1046.9 220.5Z" fill="none" stroke="#ff1493" stroke-width="1.9"/><rect x="1034.9" y="225.0" width="1.4" height="1.4" fill="#ff1493"/>
<path d="M1043.2 232.9L1031.9 215.5L1054.5 215.5Z" fill="none" stroke="#ff1493" stroke-width="1.9"/><rect x="1042.5" y="220.0" width="1.4" height="1.4" fill="#ff1493"/>
<path d="M987.8 263.1L976.5 245.7L999.1 245.7Z" fill="none" stroke="#ff1493" stroke-width="1.9"/><rect x="987.1" y="250.2" width="1.4" height="1.4" fill="#ff1493"/>
<path d="M1005.4 283.2L994.1 265.8L1016.7 265.8Z" fill="none" stroke="#ff1493" stroke-width="1.9"/><rect x="1004.7" y="270.3" width="1.4" height="1.4" fill="#ff1493"/>
<path d="M1025.5 288.2L1014.2 270.8L1036.8 270.8Z" fill="none" stroke="#ff1493" stroke-width="1.9"/><rect x="1024.8" y="275.3" width="1.4" height="1.4" fill="#ff1493"/>
<path d="M1038.1 285.7L1026.8 268.3L1049.4 268.3Z" fill="none" stroke="#ff1493" stroke-width="1.9"/><rect x="1037.4" y="272.8" width="1.4" height="1.4" fill="#ff1493"/>
<path d="M1048.2 248.0L1036.9 230.6L1059.5 230.6Z" fill="none" stroke="#ff1493" stroke-width="1.9"/><rect x="1047.5" y="235.1" width="1.4" height="1.4" fill="#ff1493"/>
<path d="M783.5 43.0L772.0 54.5L783.5 66.0L795.0 54.5Z" fill="none" stroke="#c04000" stroke-width="1.9"/><rect x="782.8" y="53.8" width="1.4" height="1.4" fill="#c04000"/>
<path d="M831.5 54.0L820.0 65.5L831.5 77.0L843.0 65.5Z" fill="none" stroke="#c04000" stroke-width="1.9"/><rect x="830.8" y="64.8" width="1.4" height="1.4" fill="#c04000"/>
<path d="M859.6 60.3L848.1 71.8L859.6 83.3L871.1 71.8Z" fill="none" stroke="#c04000" stroke-width="1.9"/><rect x="858.9" y="71.1" width="1.4" height="1.4" fill="#c04000"/>
<path d="M879.1 65.1L867.6 76.6L879.1 88.1L890.6 76.6Z" fill="none" stroke="#c04000" stroke-width="1.9"/><rect x="878.4" y="75.9" width="1.4" height="1.4" fill="#c04000"/>
<path d="M907.4 70.2L895.9 81.7L907.4 93.2L918.9 81.7Z" fill="none" stroke="#c04000" stroke-width="1.9"/><rect x="906.7" y="81.0" width="1.4" height="1.4" fill="#c04000"/>
<path d="M895.0 85.9L883.5 97.4L895.0 108.9L906.5 97.4Z" fill="none" stroke="#c04000" stroke-width="1.9"/><rect x="894.3" y="96.7" width="1.4" height="1.4" fill="#c04000"/>
<path d="M927.7 85.3L916.2 96.8L927.7 108.3L939.2 96.8Z" fill="none" stroke="#c04000" stroke-width="1.9"/><rect x="927.0" y="96.1" width="1.4" height="1.4" fill="#c04000"/>
<path d="M936.0 90.6L924.5 102.1L936.0 113.6L947.5 102.1Z" fill="none" stroke="#c04000" stroke-width="1.9"/><rect x="935.3" y="101.4" width="1.4" height="1.4" fill="#c04000"/>
<path d="M955.6 86.3L944.1 97.8L955.6 109.3L967.1 97.8Z" fill="none" stroke="#c04000" stroke-width="1.9"/><rect x="954.9" y="97.1" width="1.4" height="1.4" fill="#c04000"/>
<path d="M942.8 102.4L931.3 113.9L942.8 125.4L954.3 113.9Z" fill="none" stroke="#c04000" stroke-width="1.9"/><rect x="942.1" y="113.2" width="1.4" height="1.4" fill="#c04000"/>
<path d="M918.2 113.1L906.7 124.6L918.2 136.1L929.7 124.6Z" fill="none" stroke="#c04000" stroke-width="1.9"/><rect x="917.5" y="123.9" width="1.4" height="1.4" fill="#c04000"/>
<path d="M949.7 131.8L938.2 143.3L949.7 154.8L961.2 143.3Z" fill="none" stroke="#c04000" stroke-width="1.9"/><rect x="949.0" y="142.6" width="1.4" height="1.4" fill="#c04000"/>
<path d="M961.5 144.4L950.0 155.9L961.5 167.4L973.0 155.9Z" fill="none" stroke="#c04000" stroke-width="1.9"/><rect x="960.8" y="155.2" width="1.4" height="1.4" fill="#c04000"/>
<path d="M1003.5 106.4L992.0 117.9L1003.5 129.4L1015.0 117.9Z" fill="none" stroke="#c04000" stroke-width="1.9"/><rect x="1002.8" y="117.2" width="1.4" height="1.4" fill="#c04000"/>
<path d="M1031.8 122.0L1020.3 133.5L1031.8 145.0L1043.3 133.5Z" fill="none" stroke="#c04000" stroke-width="1.9"/><rect x="1031.1" y="132.8" width="1.4" height="1.4" fill="#c04000"/>
<path d="M1051.7 127.8L1040.2 139.3L1051.7 150.8L1063.2 139.3Z" fill="none" stroke="#c04000" stroke-width="1.9"/><rect x="1051.0" y="138.6" width="1.4" height="1.4" fill="#c04000"/>
<path d="M1079.2 138.0L1067.7 149.5L1079.2 161.0L1090.7 149.5Z" fill="none" stroke="#c04000" stroke-width="1.9"/><rect x="1078.5" y="148.8" width="1.4" height="1.4" fill="#c04000"/>
<path d="M1100.0 150.9L1088.5 162.4L1100.0 173.9L1111.5 162.4Z" fill="none" stroke="#c04000" stroke-width="1.9"/><rect x="1099.3" y="161.7" width="1.4" height="1.4" fill="#c04000"/>
<path d="M1128.0 158.3L1116.5 169.8L1128.0 181.3L1139.5 169.8Z" fill="none" stroke="#c04000" stroke-width="1.9"/><rect x="1127.3" y="169.1" width="1.4" height="1.4" fill="#c04000"/>
<path d="M1142.9 172.7L1131.4 184.2L1142.9 195.7L1154.4 184.2Z" fill="none" stroke="#c04000" stroke-width="1.9"/><rect x="1142.2" y="183.5" width="1.4" height="1.4" fill="#c04000"/>
<path d="M1157.8 182.4L1146.3 193.9L1157.8 205.4L1169.3 193.9Z" fill="none" stroke="#c04000" stroke-width="1.9"/><rect x="1157.1" y="193.2" width="1.4" height="1.4" fill="#c04000"/>
<path d="M1175.4 186.7L1163.9 198.2L1175.4 209.7L1186.9 198.2Z" fill="none" stroke="#c04000" stroke-width="1.9"/><rect x="1174.7" y="197.5" width="1.4" height="1.4" fill="#c04000"/>
<path d="M1191.6 197.3L1180.1 208.8L1191.6 220.3L1203.1 208.8Z" fill="none" stroke="#c04000" stroke-width="1.9"/><rect x="1190.9" y="208.1" width="1.4" height="1.4" fill="#c04000"/>
<path d="M1204.4 224.7L1192.9 236.2L1204.4 247.7L1215.9 236.2Z" fill="none" stroke="#c04000" stroke-width="1.9"/><rect x="1203.7" y="235.5" width="1.4" height="1.4" fill="#c04000"/>
<path d="M1199.2 242.7L1187.7 254.2L1199.2 265.7L1210.7 254.2Z" fill="none" stroke="#c04000" stroke-width="1.9"/><rect x="1198.5" y="253.5" width="1.4" height="1.4" fill="#c04000"/>
<path d="M1171.9 208.7L1160.4 220.2L1171.9 231.7L1183.4 220.2Z" fill="none" stroke="#c04000" stroke-width="1.9"/><rect x="1171.2" y="219.5" width="1.4" height="1.4" fill="#c04000"/>
<path d="M1180.7 214.0L1169.2 225.5L1180.7 237.0L1192.2 225.5Z" fill="none" stroke="#c04000" stroke-width="1.9"/><rect x="1180.0" y="224.8" width="1.4" height="1.4" fill="#c04000"/>
<path d="M1188.6 221.0L1177.1 232.5L1188.6 244.0L1200.1 232.5Z" fill="none" stroke="#c04000" stroke-width="1.9"/><rect x="1187.9" y="231.8" width="1.4" height="1.4" fill="#c04000"/>
<path d="M1175.4 224.5L1163.9 236.0L1175.4 247.5L1186.9 236.0Z" fill="none" stroke="#c04000" stroke-width="1.9"/><rect x="1174.7" y="235.3" width="1.4" height="1.4" fill="#c04000"/>
<path d="M1149.9 222.8L1138.4 234.3L1149.9 245.8L1161.4 234.3Z" fill="none" stroke="#c04000" stroke-width="1.9"/><rect x="1149.2" y="233.6" width="1.4" height="1.4" fill="#c04000"/>
<path d="M1159.6 238.6L1148.1 250.1L1159.6 261.6L1171.1 250.1Z" fill="none" stroke="#c04000" stroke-width="1.9"/><rect x="1158.9" y="249.4" width="1.4" height="1.4" fill="#c04000"/>
<path d="M1164.8 257.3L1153.3 268.8L1164.8 280.3L1176.3 268.8Z" fill="none" stroke="#c04000" stroke-width="1.9"/><rect x="1164.1" y="268.1" width="1.4" height="1.4" fill="#c04000"/>
<path d="M1212.0 283.5L1200.5 295.0L1212.0 306.5L1223.5 295.0Z" fill="none" stroke="#c04000" stroke-width="1.9"/><rect x="1211.3" y="294.3" width="1.4" height="1.4" fill="#c04000"/>
<path d="M1192.3 336.2L1180.8 347.7L1192.3 359.2L1203.8 347.7Z" fill="none" stroke="#c04000" stroke-width="1.9"/><rect x="1191.6" y="347.0" width="1.4" height="1.4" fill="#c04000"/>
<path d="M1145.5 301.1L1134.0 312.6L1145.5 324.1L1157.0 312.6Z" fill="none" stroke="#c04000" stroke-width="1.9"/><rect x="1144.8" y="311.9" width="1.4" height="1.4" fill="#c04000"/>
<path d="M1128.4 301.1L1116.9 312.6L1128.4 324.1L1139.9 312.6Z" fill="none" stroke="#c04000" stroke-width="1.9"/><rect x="1127.7" y="311.9" width="1.4" height="1.4" fill="#c04000"/>
<path d="M1112.4 288.2L1100.9 299.7L1112.4 311.2L1123.9 299.7Z" fill="none" stroke="#c04000" stroke-width="1.9"/><rect x="1111.7" y="299.0" width="1.4" height="1.4" fill="#c04000"/>
<path d="M1133.2 277.7L1121.7 289.2L1133.2 300.7L1144.7 289.2Z" fill="none" stroke="#c04000" stroke-width="1.9"/><rect x="1132.5" y="288.5" width="1.4" height="1.4" fill="#c04000"/>
<path d="M1151.7 270.1L1140.2 281.6L1151.7 293.1L1163.2 281.6Z" fill="none" stroke="#c04000" stroke-width="1.9"/><rect x="1151.0" y="280.9" width="1.4" height="1.4" fill="#c04000"/>
<path d="M1101.5 283.8L1090.0 295.3L1101.5 306.8L1113.0 295.3Z" fill="none" stroke="#c04000" stroke-width="1.9"/><rect x="1100.8" y="294.6" width="1.4" height="1.4" fill="#c04000"/>
<path d="M968.5 105.5L957.0 117.0L968.5 128.5L980.0 117.0Z" fill="none" stroke="#c04000" stroke-width="1.9"/><rect x="967.8" y="116.3" width="1.4" height="1.4" fill="#c04000"/>
<path d="M977.0 107.5L965.5 119.0L977.0 130.5L988.5 119.0Z" fill="none" stroke="#c04000" stroke-width="1.9"/><rect x="976.3" y="118.3" width="1.4" height="1.4" fill="#c04000"/>
<path d="M984.0 106.5L972.5 118.0L984.0 129.5L995.5 118.0Z" fill="none" stroke="#c04000" stroke-width="1.9"/><rect x="983.3" y="117.3" width="1.4" height="1.4" fill="#c04000"/>
<path d="M1038.7 138.0L1027.2 149.5L1038.7 161.0L1050.2 149.5Z" fill="none" stroke="#c04000" stroke-width="1.9"/><rect x="1038.0" y="148.8" width="1.4" height="1.4" fill="#c04000"/>
<path d="M1013.4 140.3L1001.9 151.8L1013.4 163.3L1024.9 151.8Z" fill="none" stroke="#c04000" stroke-width="1.9"/><rect x="1012.7" y="151.1" width="1.4" height="1.4" fill="#c04000"/>
<path d="M1059.3 149.5L1047.8 161.0L1059.3 172.5L1070.8 161.0Z" fill="none" stroke="#c04000" stroke-width="1.9"/><rect x="1058.6" y="160.3" width="1.4" height="1.4" fill="#c04000"/>
<path d="M1072.4 138.8L1060.9 150.3L1072.4 161.8L1083.9 150.3Z" fill="none" stroke="#c04000" stroke-width="1.9"/><rect x="1071.7" y="149.6" width="1.4" height="1.4" fill="#c04000"/>
<path d="M942.6 99.8L931.1 111.3L942.6 122.8L954.1 111.3Z" fill="none" stroke="#c04000" stroke-width="1.9"/><rect x="941.9" y="110.6" width="1.4" height="1.4" fill="#c04000"/>
<path d="M949.6 131.2L938.1 142.7L949.6 154.2L961.1 142.7Z" fill="none" stroke="#c04000" stroke-width="1.9"/><rect x="948.9" y="142.0" width="1.4" height="1.4" fill="#c04000"/>
<path d="M960.2 142.6L948.7 154.1L960.2 165.6L971.7 154.1Z" fill="none" stroke="#c04000" stroke-width="1.9"/><rect x="959.5" y="153.4" width="1.4" height="1.4" fill="#c04000"/>
<path d="M1031.8 121.2L1020.3 132.7L1031.8 144.2L1043.3 132.7Z" fill="none" stroke="#c04000" stroke-width="1.9"/><rect x="1031.1" y="132.0" width="1.4" height="1.4" fill="#c04000"/>
<path d="M1052.0 128.2L1040.5 139.7L1052.0 151.2L1063.5 139.7Z" fill="none" stroke="#c04000" stroke-width="1.9"/><rect x="1051.3" y="139.0" width="1.4" height="1.4" fill="#c04000"/>
<path d="M1015.5 128.7L1004.0 140.2L1015.5 151.7L1027.0 140.2Z" fill="none" stroke="#c04000" stroke-width="1.9"/><rect x="1014.8" y="139.5" width="1.4" height="1.4" fill="#c04000"/>
<path d="M1013.0 141.3L1001.5 152.8L1013.0 164.3L1024.5 152.8Z" fill="none" stroke="#c04000" stroke-width="1.9"/><rect x="1012.3" y="152.1" width="1.4" height="1.4" fill="#c04000"/>
<path d="M1024.3 135.0L1012.8 146.5L1024.3 158.0L1035.8 146.5Z" fill="none" stroke="#c04000" stroke-width="1.9"/><rect x="1023.6" y="145.8" width="1.4" height="1.4" fill="#c04000"/>
<path d="M1038.1 138.8L1026.6 150.3L1038.1 161.8L1049.6 150.3Z" fill="none" stroke="#c04000" stroke-width="1.9"/><rect x="1037.4" y="149.6" width="1.4" height="1.4" fill="#c04000"/>
<path d="M982.8 147.6L971.3 159.1L982.8 170.6L994.3 159.1Z" fill="none" stroke="#c04000" stroke-width="1.9"/><rect x="982.1" y="158.4" width="1.4" height="1.4" fill="#c04000"/>
<path d="M991.6 151.4L980.1 162.9L991.6 174.4L1003.1 162.9Z" fill="none" stroke="#c04000" stroke-width="1.9"/><rect x="990.9" y="162.2" width="1.4" height="1.4" fill="#c04000"/>
<path d="M997.9 142.6L986.4 154.1L997.9 165.6L1009.4 154.1Z" fill="none" stroke="#c04000" stroke-width="1.9"/><rect x="997.2" y="153.4" width="1.4" height="1.4" fill="#c04000"/>
<path d="M1005.4 151.4L993.9 162.9L1005.4 174.4L1016.9 162.9Z" fill="none" stroke="#c04000" stroke-width="1.9"/><rect x="1004.7" y="162.2" width="1.4" height="1.4" fill="#c04000"/>
<path d="M1063.3 138.8L1051.8 150.3L1063.3 161.8L1074.8 150.3Z" fill="none" stroke="#c04000" stroke-width="1.9"/><rect x="1062.6" y="149.6" width="1.4" height="1.4" fill="#c04000"/>
<path d="M1080.9 136.3L1069.4 147.8L1080.9 159.3L1092.4 147.8Z" fill="none" stroke="#c04000" stroke-width="1.9"/><rect x="1080.2" y="147.1" width="1.4" height="1.4" fill="#c04000"/>
<path d="M1072.1 163.9L1060.6 175.4L1072.1 186.9L1083.6 175.4Z" fill="none" stroke="#c04000" stroke-width="1.9"/><rect x="1071.4" y="174.7" width="1.4" height="1.4" fill="#c04000"/>
<path d="M1058.2 150.1L1046.7 161.6L1058.2 173.1L1069.7 161.6Z" fill="none" stroke="#c04000" stroke-width="1.9"/><rect x="1057.5" y="160.9" width="1.4" height="1.4" fill="#c04000"/>
<path d="M1049.4 153.9L1037.9 165.4L1049.4 176.9L1060.9 165.4Z" fill="none" stroke="#c04000" stroke-width="1.9"/><rect x="1048.7" y="164.7" width="1.4" height="1.4" fill="#c04000"/>
<path d="M1043.2 163.9L1031.7 175.4L1043.2 186.9L1054.7 175.4Z" fill="none" stroke="#c04000" stroke-width="1.9"/><rect x="1042.5" y="174.7" width="1.4" height="1.4" fill="#c04000"/>
<path d="M1035.6 158.9L1024.1 170.4L1035.6 181.9L1047.1 170.4Z" fill="none" stroke="#c04000" stroke-width="1.9"/><rect x="1034.9" y="169.7" width="1.4" height="1.4" fill="#c04000"/>
<path d="M1098.5 150.1L1087.0 161.6L1098.5 173.1L1110.0 161.6Z" fill="none" stroke="#c04000" stroke-width="1.9"/><rect x="1097.8" y="160.9" width="1.4" height="1.4" fill="#c04000"/>
<path d="M1090.9 156.4L1079.4 167.9L1090.9 179.4L1102.4 167.9Z" fill="none" stroke="#c04000" stroke-width="1.9"/><rect x="1090.2" y="167.2" width="1.4" height="1.4" fill="#c04000"/>
<path d="M1106.0 158.9L1094.5 170.4L1106.0 181.9L1117.5 170.4Z" fill="none" stroke="#c04000" stroke-width="1.9"/><rect x="1105.3" y="169.7" width="1.4" height="1.4" fill="#c04000"/>
<path d="M1117.3 161.4L1105.8 172.9L1117.3 184.4L1128.8 172.9Z" fill="none" stroke="#c04000" stroke-width="1.9"/><rect x="1116.6" y="172.2" width="1.4" height="1.4" fill="#c04000"/>
<path d="M1128.6 157.6L1117.1 169.1L1128.6 180.6L1140.1 169.1Z" fill="none" stroke="#c04000" stroke-width="1.9"/><rect x="1127.9" y="168.4" width="1.4" height="1.4" fill="#c04000"/>
<path d="M1142.5 171.5L1131.0 183.0L1142.5 194.5L1154.0 183.0Z" fill="none" stroke="#c04000" stroke-width="1.9"/><rect x="1141.8" y="182.3" width="1.4" height="1.4" fill="#c04000"/>
<path d="M1152.5 177.8L1141.0 189.3L1152.5 200.8L1164.0 189.3Z" fill="none" stroke="#c04000" stroke-width="1.9"/><rect x="1151.8" y="188.6" width="1.4" height="1.4" fill="#c04000"/>
<path d="M1163.8 181.5L1152.3 193.0L1163.8 204.5L1175.3 193.0Z" fill="none" stroke="#c04000" stroke-width="1.9"/><rect x="1163.1" y="192.3" width="1.4" height="1.4" fill="#c04000"/>
<path d="M1175.2 185.3L1163.7 196.8L1175.2 208.3L1186.7 196.8Z" fill="none" stroke="#c04000" stroke-width="1.9"/><rect x="1174.5" y="196.1" width="1.4" height="1.4" fill="#c04000"/>
<path d="M1191.5 196.6L1180.0 208.1L1191.5 219.6L1203.0 208.1Z" fill="none" stroke="#c04000" stroke-width="1.9"/><rect x="1190.8" y="207.4" width="1.4" height="1.4" fill="#c04000"/>
<path d="M1023.0 186.6L1011.5 198.1L1023.0 209.6L1034.5 198.1Z" fill="none" stroke="#c04000" stroke-width="1.9"/><rect x="1022.3" y="197.4" width="1.4" height="1.4" fill="#c04000"/>
<path d="M1030.6 189.1L1019.1 200.6L1030.6 212.1L1042.1 200.6Z" fill="none" stroke="#c04000" stroke-width="1.9"/><rect x="1029.9" y="199.9" width="1.4" height="1.4" fill="#c04000"/>
<path d="M1040.6 184.0L1029.1 195.5L1040.6 207.0L1052.1 195.5Z" fill="none" stroke="#c04000" stroke-width="1.9"/><rect x="1039.9" y="194.8" width="1.4" height="1.4" fill="#c04000"/>
<path d="M1050.7 191.6L1039.2 203.1L1050.7 214.6L1062.2 203.1Z" fill="none" stroke="#c04000" stroke-width="1.9"/><rect x="1050.0" y="202.4" width="1.4" height="1.4" fill="#c04000"/>
<path d="M1060.8 174.0L1049.3 185.5L1060.8 197.0L1072.3 185.5Z" fill="none" stroke="#c04000" stroke-width="1.9"/><rect x="1060.1" y="184.8" width="1.4" height="1.4" fill="#c04000"/>
<path d="M1067.0 184.0L1055.5 195.5L1067.0 207.0L1078.5 195.5Z" fill="none" stroke="#c04000" stroke-width="1.9"/><rect x="1066.3" y="194.8" width="1.4" height="1.4" fill="#c04000"/>
<path d="M1075.8 176.5L1064.3 188.0L1075.8 199.5L1087.3 188.0Z" fill="none" stroke="#c04000" stroke-width="1.9"/><rect x="1075.1" y="187.3" width="1.4" height="1.4" fill="#c04000"/>
<path d="M1080.9 189.1L1069.4 200.6L1080.9 212.1L1092.4 200.6Z" fill="none" stroke="#c04000" stroke-width="1.9"/><rect x="1080.2" y="199.9" width="1.4" height="1.4" fill="#c04000"/>
<path d="M1085.9 171.5L1074.4 183.0L1085.9 194.5L1097.4 183.0Z" fill="none" stroke="#c04000" stroke-width="1.9"/><rect x="1085.2" y="182.3" width="1.4" height="1.4" fill="#c04000"/>
<path d="M1093.4 179.0L1081.9 190.5L1093.4 202.0L1104.9 190.5Z" fill="none" stroke="#c04000" stroke-width="1.9"/><rect x="1092.7" y="189.8" width="1.4" height="1.4" fill="#c04000"/>
<path d="M1103.5 189.1L1092.0 200.6L1103.5 212.1L1115.0 200.6Z" fill="none" stroke="#c04000" stroke-width="1.9"/><rect x="1102.8" y="199.9" width="1.4" height="1.4" fill="#c04000"/>
<path d="M1111.0 194.1L1099.5 205.6L1111.0 217.1L1122.5 205.6Z" fill="none" stroke="#c04000" stroke-width="1.9"/><rect x="1110.3" y="204.9" width="1.4" height="1.4" fill="#c04000"/>
<path d="M1121.1 191.6L1109.6 203.1L1121.1 214.6L1132.6 203.1Z" fill="none" stroke="#c04000" stroke-width="1.9"/><rect x="1120.4" y="202.4" width="1.4" height="1.4" fill="#c04000"/>
<path d="M1131.2 194.1L1119.7 205.6L1131.2 217.1L1142.7 205.6Z" fill="none" stroke="#c04000" stroke-width="1.9"/><rect x="1130.5" y="204.9" width="1.4" height="1.4" fill="#c04000"/>
<path d="M1138.7 199.1L1127.2 210.6L1138.7 222.1L1150.2 210.6Z" fill="none" stroke="#c04000" stroke-width="1.9"/><rect x="1138.0" y="209.9" width="1.4" height="1.4" fill="#c04000"/>
<path d="M1146.2 206.7L1134.7 218.2L1146.2 229.7L1157.7 218.2Z" fill="none" stroke="#c04000" stroke-width="1.9"/><rect x="1145.5" y="217.5" width="1.4" height="1.4" fill="#c04000"/>
<path d="M1055.7 201.7L1044.2 213.2L1055.7 224.7L1067.2 213.2Z" fill="none" stroke="#c04000" stroke-width="1.9"/><rect x="1055.0" y="212.5" width="1.4" height="1.4" fill="#c04000"/>
<path d="M1063.3 209.2L1051.8 220.7L1063.3 232.2L1074.8 220.7Z" fill="none" stroke="#c04000" stroke-width="1.9"/><rect x="1062.6" y="220.0" width="1.4" height="1.4" fill="#c04000"/>
<path d="M1070.8 201.7L1059.3 213.2L1070.8 224.7L1082.3 213.2Z" fill="none" stroke="#c04000" stroke-width="1.9"/><rect x="1070.1" y="212.5" width="1.4" height="1.4" fill="#c04000"/>
<path d="M1078.4 211.7L1066.9 223.2L1078.4 234.7L1089.9 223.2Z" fill="none" stroke="#c04000" stroke-width="1.9"/><rect x="1077.7" y="222.5" width="1.4" height="1.4" fill="#c04000"/>
<path d="M1085.9 206.7L1074.4 218.2L1085.9 229.7L1097.4 218.2Z" fill="none" stroke="#c04000" stroke-width="1.9"/><rect x="1085.2" y="217.5" width="1.4" height="1.4" fill="#c04000"/>
<path d="M1093.4 214.2L1081.9 225.7L1093.4 237.2L1104.9 225.7Z" fill="none" stroke="#c04000" stroke-width="1.9"/><rect x="1092.7" y="225.0" width="1.4" height="1.4" fill="#c04000"/>
<path d="M1101.0 206.7L1089.5 218.2L1101.0 229.7L1112.5 218.2Z" fill="none" stroke="#c04000" stroke-width="1.9"/><rect x="1100.3" y="217.5" width="1.4" height="1.4" fill="#c04000"/>
<path d="M1108.5 219.3L1097.0 230.8L1108.5 242.3L1120.0 230.8Z" fill="none" stroke="#c04000" stroke-width="1.9"/><rect x="1107.8" y="230.1" width="1.4" height="1.4" fill="#c04000"/>
<path d="M1116.1 209.2L1104.6 220.7L1116.1 232.2L1127.6 220.7Z" fill="none" stroke="#c04000" stroke-width="1.9"/><rect x="1115.4" y="220.0" width="1.4" height="1.4" fill="#c04000"/>
<path d="M1123.6 221.8L1112.1 233.3L1123.6 244.8L1135.1 233.3Z" fill="none" stroke="#c04000" stroke-width="1.9"/><rect x="1122.9" y="232.6" width="1.4" height="1.4" fill="#c04000"/>
<path d="M1131.2 214.2L1119.7 225.7L1131.2 237.2L1142.7 225.7Z" fill="none" stroke="#c04000" stroke-width="1.9"/><rect x="1130.5" y="225.0" width="1.4" height="1.4" fill="#c04000"/>
<path d="M1070.8 224.3L1059.3 235.8L1070.8 247.3L1082.3 235.8Z" fill="none" stroke="#c04000" stroke-width="1.9"/><rect x="1070.1" y="235.1" width="1.4" height="1.4" fill="#c04000"/>
<path d="M1078.4 231.8L1066.9 243.3L1078.4 254.8L1089.9 243.3Z" fill="none" stroke="#c04000" stroke-width="1.9"/><rect x="1077.7" y="242.6" width="1.4" height="1.4" fill="#c04000"/>
<path d="M1085.9 224.3L1074.4 235.8L1085.9 247.3L1097.4 235.8Z" fill="none" stroke="#c04000" stroke-width="1.9"/><rect x="1085.2" y="235.1" width="1.4" height="1.4" fill="#c04000"/>
<path d="M1093.4 236.9L1081.9 248.4L1093.4 259.9L1104.9 248.4Z" fill="none" stroke="#c04000" stroke-width="1.9"/><rect x="1092.7" y="247.7" width="1.4" height="1.4" fill="#c04000"/>
<path d="M1101.0 229.3L1089.5 240.8L1101.0 252.3L1112.5 240.8Z" fill="none" stroke="#c04000" stroke-width="1.9"/><rect x="1100.3" y="240.1" width="1.4" height="1.4" fill="#c04000"/>
<path d="M1108.5 239.4L1097.0 250.9L1108.5 262.4L1120.0 250.9Z" fill="none" stroke="#c04000" stroke-width="1.9"/><rect x="1107.8" y="250.2" width="1.4" height="1.4" fill="#c04000"/>
<path d="M1116.1 231.8L1104.6 243.3L1116.1 254.8L1127.6 243.3Z" fill="none" stroke="#c04000" stroke-width="1.9"/><rect x="1115.4" y="242.6" width="1.4" height="1.4" fill="#c04000"/>
<path d="M1123.6 241.9L1112.1 253.4L1123.6 264.9L1135.1 253.4Z" fill="none" stroke="#c04000" stroke-width="1.9"/><rect x="1122.9" y="252.7" width="1.4" height="1.4" fill="#c04000"/>
<path d="M1103.5 249.4L1092.0 260.9L1103.5 272.4L1115.0 260.9Z" fill="none" stroke="#c04000" stroke-width="1.9"/><rect x="1102.8" y="260.2" width="1.4" height="1.4" fill="#c04000"/>
<path d="M1111.0 254.5L1099.5 266.0L1111.0 277.5L1122.5 266.0Z" fill="none" stroke="#c04000" stroke-width="1.9"/><rect x="1110.3" y="265.3" width="1.4" height="1.4" fill="#c04000"/>
<path d="M1118.6 249.4L1107.1 260.9L1118.6 272.4L1130.1 260.9Z" fill="none" stroke="#c04000" stroke-width="1.9"/><rect x="1117.9" y="260.2" width="1.4" height="1.4" fill="#c04000"/>
<path d="M1096.0 254.5L1084.5 266.0L1096.0 277.5L1107.5 266.0Z" fill="none" stroke="#c04000" stroke-width="1.9"/><rect x="1095.3" y="265.3" width="1.4" height="1.4" fill="#c04000"/>
<path d="M1156.3 206.7L1144.8 218.2L1156.3 229.7L1167.8 218.2Z" fill="none" stroke="#c04000" stroke-width="1.9"/><rect x="1155.6" y="217.5" width="1.4" height="1.4" fill="#c04000"/>
<path d="M1163.8 214.2L1152.3 225.7L1163.8 237.2L1175.3 225.7Z" fill="none" stroke="#c04000" stroke-width="1.9"/><rect x="1163.1" y="225.0" width="1.4" height="1.4" fill="#c04000"/>
<path d="M1171.4 219.3L1159.9 230.8L1171.4 242.3L1182.9 230.8Z" fill="none" stroke="#c04000" stroke-width="1.9"/><rect x="1170.7" y="230.1" width="1.4" height="1.4" fill="#c04000"/>
<path d="M1178.9 224.3L1167.4 235.8L1178.9 247.3L1190.4 235.8Z" fill="none" stroke="#c04000" stroke-width="1.9"/><rect x="1178.2" y="235.1" width="1.4" height="1.4" fill="#c04000"/>
<path d="M1186.5 219.3L1175.0 230.8L1186.5 242.3L1198.0 230.8Z" fill="none" stroke="#c04000" stroke-width="1.9"/><rect x="1185.8" y="230.1" width="1.4" height="1.4" fill="#c04000"/>
<path d="M1194.0 225.5L1182.5 237.0L1194.0 248.5L1205.5 237.0Z" fill="none" stroke="#c04000" stroke-width="1.9"/><rect x="1193.3" y="236.3" width="1.4" height="1.4" fill="#c04000"/>
<path d="M1204.1 225.5L1192.6 237.0L1204.1 248.5L1215.6 237.0Z" fill="none" stroke="#c04000" stroke-width="1.9"/><rect x="1203.4" y="236.3" width="1.4" height="1.4" fill="#c04000"/>
<path d="M1199.0 241.9L1187.5 253.4L1199.0 264.9L1210.5 253.4Z" fill="none" stroke="#c04000" stroke-width="1.9"/><rect x="1198.3" y="252.7" width="1.4" height="1.4" fill="#c04000"/>
<path d="M1151.3 229.3L1139.8 240.8L1151.3 252.3L1162.8 240.8Z" fill="none" stroke="#c04000" stroke-width="1.9"/><rect x="1150.6" y="240.1" width="1.4" height="1.4" fill="#c04000"/>
<path d="M1158.8 236.9L1147.3 248.4L1158.8 259.9L1170.3 248.4Z" fill="none" stroke="#c04000" stroke-width="1.9"/><rect x="1158.1" y="247.7" width="1.4" height="1.4" fill="#c04000"/>
<path d="M1166.4 231.8L1154.9 243.3L1166.4 254.8L1177.9 243.3Z" fill="none" stroke="#c04000" stroke-width="1.9"/><rect x="1165.7" y="242.6" width="1.4" height="1.4" fill="#c04000"/>
<path d="M1148.8 244.4L1137.3 255.9L1148.8 267.4L1160.3 255.9Z" fill="none" stroke="#c04000" stroke-width="1.9"/><rect x="1148.1" y="255.2" width="1.4" height="1.4" fill="#c04000"/>
<path d="M1156.3 251.9L1144.8 263.4L1156.3 274.9L1167.8 263.4Z" fill="none" stroke="#c04000" stroke-width="1.9"/><rect x="1155.6" y="262.7" width="1.4" height="1.4" fill="#c04000"/>
<path d="M1163.8 246.9L1152.3 258.4L1163.8 269.9L1175.3 258.4Z" fill="none" stroke="#c04000" stroke-width="1.9"/><rect x="1163.1" y="257.7" width="1.4" height="1.4" fill="#c04000"/>
<path d="M1141.2 239.4L1129.7 250.9L1141.2 262.4L1152.7 250.9Z" fill="none" stroke="#c04000" stroke-width="1.9"/><rect x="1140.5" y="250.2" width="1.4" height="1.4" fill="#c04000"/>
<path d="M1133.7 229.3L1122.2 240.8L1133.7 252.3L1145.2 240.8Z" fill="none" stroke="#c04000" stroke-width="1.9"/><rect x="1133.0" y="240.1" width="1.4" height="1.4" fill="#c04000"/>
<path d="M1126.1 262.0L1114.6 273.5L1126.1 285.0L1137.6 273.5Z" fill="none" stroke="#c04000" stroke-width="1.9"/><rect x="1125.4" y="272.8" width="1.4" height="1.4" fill="#c04000"/>
<path d="M1133.7 269.5L1122.2 281.0L1133.7 292.5L1145.2 281.0Z" fill="none" stroke="#c04000" stroke-width="1.9"/><rect x="1133.0" y="280.3" width="1.4" height="1.4" fill="#c04000"/>
<path d="M1141.2 264.5L1129.7 276.0L1141.2 287.5L1152.7 276.0Z" fill="none" stroke="#c04000" stroke-width="1.9"/><rect x="1140.5" y="275.3" width="1.4" height="1.4" fill="#c04000"/>
<path d="M1151.3 269.5L1139.8 281.0L1151.3 292.5L1162.8 281.0Z" fill="none" stroke="#c04000" stroke-width="1.9"/><rect x="1150.6" y="280.3" width="1.4" height="1.4" fill="#c04000"/>
<path d="M1121.1 274.6L1109.6 286.1L1121.1 297.6L1132.6 286.1Z" fill="none" stroke="#c04000" stroke-width="1.9"/><rect x="1120.4" y="285.4" width="1.4" height="1.4" fill="#c04000"/>
<path d="M1113.6 279.6L1102.1 291.1L1113.6 302.6L1125.1 291.1Z" fill="none" stroke="#c04000" stroke-width="1.9"/><rect x="1112.9" y="290.4" width="1.4" height="1.4" fill="#c04000"/>
<path d="M1106.0 284.6L1094.5 296.1L1106.0 307.6L1117.5 296.1Z" fill="none" stroke="#c04000" stroke-width="1.9"/><rect x="1105.3" y="295.4" width="1.4" height="1.4" fill="#c04000"/>
<path d="M1103.5 269.5L1092.0 281.0L1103.5 292.5L1115.0 281.0Z" fill="none" stroke="#c04000" stroke-width="1.9"/><rect x="1102.8" y="280.3" width="1.4" height="1.4" fill="#c04000"/>
<path d="M1128.6 301.0L1117.1 312.5L1128.6 324.0L1140.1 312.5Z" fill="none" stroke="#c04000" stroke-width="1.9"/><rect x="1127.9" y="311.8" width="1.4" height="1.4" fill="#c04000"/>
<path d="M1146.2 301.0L1134.7 312.5L1146.2 324.0L1157.7 312.5Z" fill="none" stroke="#c04000" stroke-width="1.9"/><rect x="1145.5" y="311.8" width="1.4" height="1.4" fill="#c04000"/>
<path d="M1138.7 287.1L1127.2 298.6L1138.7 310.1L1150.2 298.6Z" fill="none" stroke="#c04000" stroke-width="1.9"/><rect x="1138.0" y="297.9" width="1.4" height="1.4" fill="#c04000"/>
<path d="M967.4 112.4L955.9 123.9L967.4 135.4L978.9 123.9Z" fill="none" stroke="#c04000" stroke-width="1.9"/><rect x="966.7" y="123.2" width="1.4" height="1.4" fill="#c04000"/>
<path d="M973.7 108.2L962.2 119.7L973.7 131.2L985.2 119.7Z" fill="none" stroke="#c04000" stroke-width="1.9"/><rect x="973.0" y="119.0" width="1.4" height="1.4" fill="#c04000"/>
<path d="M984.9 111.7L973.4 123.2L984.9 134.7L996.4 123.2Z" fill="none" stroke="#c04000" stroke-width="1.9"/><rect x="984.2" y="122.5" width="1.4" height="1.4" fill="#c04000"/>
<path d="M992.6 116.6L981.1 128.1L992.6 139.6L1004.1 128.1Z" fill="none" stroke="#c04000" stroke-width="1.9"/><rect x="991.9" y="127.4" width="1.4" height="1.4" fill="#c04000"/>
<path d="M984.9 143.9L973.4 155.4L984.9 166.9L996.4 155.4Z" fill="none" stroke="#c04000" stroke-width="1.9"/><rect x="984.2" y="154.7" width="1.4" height="1.4" fill="#c04000"/>
<path d="M991.9 150.9L980.4 162.4L991.9 173.9L1003.4 162.4Z" fill="none" stroke="#c04000" stroke-width="1.9"/><rect x="991.2" y="161.7" width="1.4" height="1.4" fill="#c04000"/>
<path d="M998.9 140.4L987.4 151.9L998.9 163.4L1010.4 151.9Z" fill="none" stroke="#c04000" stroke-width="1.9"/><rect x="998.2" y="151.2" width="1.4" height="1.4" fill="#c04000"/>
<path d="M1005.9 147.4L994.4 158.9L1005.9 170.4L1017.4 158.9Z" fill="none" stroke="#c04000" stroke-width="1.9"/><rect x="1005.2" y="158.2" width="1.4" height="1.4" fill="#c04000"/>
<path d="M1012.9 136.9L1001.4 148.4L1012.9 159.9L1024.4 148.4Z" fill="none" stroke="#c04000" stroke-width="1.9"/><rect x="1012.2" y="147.7" width="1.4" height="1.4" fill="#c04000"/>
<path d="M1018.2 143.9L1006.7 155.4L1018.2 166.9L1029.7 155.4Z" fill="none" stroke="#c04000" stroke-width="1.9"/><rect x="1017.5" y="154.7" width="1.4" height="1.4" fill="#c04000"/>
<path d="M1023.4 133.4L1011.9 144.9L1023.4 156.4L1034.9 144.9Z" fill="none" stroke="#c04000" stroke-width="1.9"/><rect x="1022.7" y="144.2" width="1.4" height="1.4" fill="#c04000"/>
<path d="M1026.9 150.9L1015.4 162.4L1026.9 173.9L1038.4 162.4Z" fill="none" stroke="#c04000" stroke-width="1.9"/><rect x="1026.2" y="161.7" width="1.4" height="1.4" fill="#c04000"/>
<path d="M1033.9 140.4L1022.4 151.9L1033.9 163.4L1045.4 151.9Z" fill="none" stroke="#c04000" stroke-width="1.9"/><rect x="1033.2" y="151.2" width="1.4" height="1.4" fill="#c04000"/>
<path d="M1039.1 149.2L1027.6 160.7L1039.1 172.2L1050.6 160.7Z" fill="none" stroke="#c04000" stroke-width="1.9"/><rect x="1038.4" y="160.0" width="1.4" height="1.4" fill="#c04000"/>
<path d="M995.4 157.9L983.9 169.4L995.4 180.9L1006.9 169.4Z" fill="none" stroke="#c04000" stroke-width="1.9"/><rect x="994.7" y="168.7" width="1.4" height="1.4" fill="#c04000"/>
<path d="M1009.4 161.4L997.9 172.9L1009.4 184.4L1020.9 172.9Z" fill="none" stroke="#c04000" stroke-width="1.9"/><rect x="1008.7" y="172.2" width="1.4" height="1.4" fill="#c04000"/>
<path d="M1019.9 164.9L1008.4 176.4L1019.9 187.9L1031.4 176.4Z" fill="none" stroke="#c04000" stroke-width="1.9"/><rect x="1019.2" y="175.7" width="1.4" height="1.4" fill="#c04000"/>
<path d="M1030.4 168.4L1018.9 179.9L1030.4 191.4L1041.9 179.9Z" fill="none" stroke="#c04000" stroke-width="1.9"/><rect x="1029.7" y="179.2" width="1.4" height="1.4" fill="#c04000"/>
<path d="M1040.9 161.4L1029.4 172.9L1040.9 184.4L1052.4 172.9Z" fill="none" stroke="#c04000" stroke-width="1.9"/><rect x="1040.2" y="172.2" width="1.4" height="1.4" fill="#c04000"/>
<path d="M984.9 133.4L973.4 144.9L984.9 156.4L996.4 144.9Z" fill="none" stroke="#c04000" stroke-width="1.9"/><rect x="984.2" y="144.2" width="1.4" height="1.4" fill="#c04000"/>
<path d="M1002.4 129.9L990.9 141.4L1002.4 152.9L1013.9 141.4Z" fill="none" stroke="#c04000" stroke-width="1.9"/><rect x="1001.7" y="140.7" width="1.4" height="1.4" fill="#c04000"/>
<path d="M1047.9 178.9L1036.4 190.4L1047.9 201.9L1059.4 190.4Z" fill="none" stroke="#c04000" stroke-width="1.9"/><rect x="1047.2" y="189.7" width="1.4" height="1.4" fill="#c04000"/>
<path d="M1054.9 189.4L1043.4 200.9L1054.9 212.4L1066.4 200.9Z" fill="none" stroke="#c04000" stroke-width="1.9"/><rect x="1054.2" y="200.2" width="1.4" height="1.4" fill="#c04000"/>
<path d="M1044.4 196.4L1032.9 207.9L1044.4 219.4L1055.9 207.9Z" fill="none" stroke="#c04000" stroke-width="1.9"/><rect x="1043.7" y="207.2" width="1.4" height="1.4" fill="#c04000"/>
<path d="M1061.9 182.4L1050.4 193.9L1061.9 205.4L1073.4 193.9Z" fill="none" stroke="#c04000" stroke-width="1.9"/><rect x="1061.2" y="193.2" width="1.4" height="1.4" fill="#c04000"/>
<path d="M1068.9 192.9L1057.4 204.4L1068.9 215.9L1080.4 204.4Z" fill="none" stroke="#c04000" stroke-width="1.9"/><rect x="1068.2" y="203.7" width="1.4" height="1.4" fill="#c04000"/>
<path d="M1037.4 185.9L1025.9 197.4L1037.4 208.9L1048.9 197.4Z" fill="none" stroke="#c04000" stroke-width="1.9"/><rect x="1036.7" y="196.7" width="1.4" height="1.4" fill="#c04000"/>
<path d="M1026.9 182.4L1015.4 193.9L1026.9 205.4L1038.4 193.9Z" fill="none" stroke="#c04000" stroke-width="1.9"/><rect x="1026.2" y="193.2" width="1.4" height="1.4" fill="#c04000"/>
<path d="M1019.9 189.4L1008.4 200.9L1019.9 212.4L1031.4 200.9Z" fill="none" stroke="#c04000" stroke-width="1.9"/><rect x="1019.2" y="200.2" width="1.4" height="1.4" fill="#c04000"/>
<path d="M1075.9 175.4L1064.4 186.9L1075.9 198.4L1087.4 186.9Z" fill="none" stroke="#c04000" stroke-width="1.9"/><rect x="1075.2" y="186.2" width="1.4" height="1.4" fill="#c04000"/>
<path d="M1086.4 185.9L1074.9 197.4L1086.4 208.9L1097.9 197.4Z" fill="none" stroke="#c04000" stroke-width="1.9"/><rect x="1085.7" y="196.7" width="1.4" height="1.4" fill="#c04000"/>
<path d="M1096.9 178.9L1085.4 190.4L1096.9 201.9L1108.4 190.4Z" fill="none" stroke="#c04000" stroke-width="1.9"/><rect x="1096.2" y="189.7" width="1.4" height="1.4" fill="#c04000"/>
<path d="M1107.4 189.4L1095.9 200.9L1107.4 212.4L1118.9 200.9Z" fill="none" stroke="#c04000" stroke-width="1.9"/><rect x="1106.7" y="200.2" width="1.4" height="1.4" fill="#c04000"/>
<path d="M1117.8 196.4L1106.3 207.9L1117.8 219.4L1129.3 207.9Z" fill="none" stroke="#c04000" stroke-width="1.9"/><rect x="1117.1" y="207.2" width="1.4" height="1.4" fill="#c04000"/>
<path d="M1124.8 185.9L1113.3 197.4L1124.8 208.9L1136.3 197.4Z" fill="none" stroke="#c04000" stroke-width="1.9"/><rect x="1124.1" y="196.7" width="1.4" height="1.4" fill="#c04000"/>
<path d="M1131.8 203.4L1120.3 214.9L1131.8 226.4L1143.3 214.9Z" fill="none" stroke="#c04000" stroke-width="1.9"/><rect x="1131.1" y="214.2" width="1.4" height="1.4" fill="#c04000"/>
<path d="M1121.3 210.4L1109.8 221.9L1121.3 233.4L1132.8 221.9Z" fill="none" stroke="#c04000" stroke-width="1.9"/><rect x="1120.6" y="221.2" width="1.4" height="1.4" fill="#c04000"/>
<path d="M1145.8 210.4L1134.3 221.9L1145.8 233.4L1157.3 221.9Z" fill="none" stroke="#c04000" stroke-width="1.9"/><rect x="1145.1" y="221.2" width="1.4" height="1.4" fill="#c04000"/>
<path d="M1138.8 224.4L1127.3 235.9L1138.8 247.4L1150.3 235.9Z" fill="none" stroke="#c04000" stroke-width="1.9"/><rect x="1138.1" y="235.2" width="1.4" height="1.4" fill="#c04000"/>
<path d="M1152.8 231.4L1141.3 242.9L1152.8 254.4L1164.3 242.9Z" fill="none" stroke="#c04000" stroke-width="1.9"/><rect x="1152.1" y="242.2" width="1.4" height="1.4" fill="#c04000"/>
<path d="M1159.8 217.4L1148.3 228.9L1159.8 240.4L1171.3 228.9Z" fill="none" stroke="#c04000" stroke-width="1.9"/><rect x="1159.1" y="228.2" width="1.4" height="1.4" fill="#c04000"/>
<path d="M1099.2 236.8L1087.7 248.3L1099.2 259.8L1110.7 248.3Z" fill="none" stroke="#c04000" stroke-width="1.9"/><rect x="1098.5" y="247.6" width="1.4" height="1.4" fill="#c04000"/>
<path d="M1046.1 178.4L1034.6 189.9L1046.1 201.4L1057.6 189.9Z" fill="none" stroke="#c04000" stroke-width="1.9"/><rect x="1045.4" y="189.2" width="1.4" height="1.4" fill="#c04000"/>
<path d="M1131.5 242.6L1120.0 254.1L1131.5 265.6L1143.0 254.1Z" fill="none" stroke="#c04000" stroke-width="1.9"/><rect x="1130.8" y="253.4" width="1.4" height="1.4" fill="#c04000"/>
<path d="M1056.5 208.1L1045.0 219.6L1056.5 231.1L1068.0 219.6Z" fill="none" stroke="#c04000" stroke-width="1.9"/><rect x="1055.8" y="218.9" width="1.4" height="1.4" fill="#c04000"/>
<path d="M1052.5 185.8L1041.0 197.3L1052.5 208.8L1064.0 197.3Z" fill="none" stroke="#c04000" stroke-width="1.9"/><rect x="1051.8" y="196.6" width="1.4" height="1.4" fill="#c04000"/>
<path d="M1098.8 221.0L1087.3 232.5L1098.8 244.0L1110.3 232.5Z" fill="none" stroke="#c04000" stroke-width="1.9"/><rect x="1098.1" y="231.8" width="1.4" height="1.4" fill="#c04000"/>
<path d="M1114.0 252.7L1102.5 264.2L1114.0 275.7L1125.5 264.2Z" fill="none" stroke="#c04000" stroke-width="1.9"/><rect x="1113.3" y="263.5" width="1.4" height="1.4" fill="#c04000"/>
<path d="M1148.2 233.9L1136.7 245.4L1148.2 256.9L1159.7 245.4Z" fill="none" stroke="#c04000" stroke-width="1.9"/><rect x="1147.5" y="244.7" width="1.4" height="1.4" fill="#c04000"/>
<path d="M1094.7 234.9L1083.2 246.4L1094.7 257.9L1106.2 246.4Z" fill="none" stroke="#c04000" stroke-width="1.9"/><rect x="1094.0" y="245.7" width="1.4" height="1.4" fill="#c04000"/>
<path d="M1052.4 180.7L1040.9 192.2L1052.4 203.7L1063.9 192.2Z" fill="none" stroke="#c04000" stroke-width="1.9"/><rect x="1051.7" y="191.5" width="1.4" height="1.4" fill="#c04000"/>
<path d="M1057.8 203.4L1046.3 214.9L1057.8 226.4L1069.3 214.9Z" fill="none" stroke="#c04000" stroke-width="1.9"/><rect x="1057.1" y="214.2" width="1.4" height="1.4" fill="#c04000"/>
<path d="M1066.8 224.7L1055.3 236.2L1066.8 247.7L1078.3 236.2Z" fill="none" stroke="#c04000" stroke-width="1.9"/><rect x="1066.1" y="235.5" width="1.4" height="1.4" fill="#c04000"/>
<path d="M1055.2 216.4L1043.7 227.9L1055.2 239.4L1066.7 227.9Z" fill="none" stroke="#c04000" stroke-width="1.9"/><rect x="1054.5" y="227.2" width="1.4" height="1.4" fill="#c04000"/>
<path d="M1095.5 217.1L1084.0 228.6L1095.5 240.1L1107.0 228.6Z" fill="none" stroke="#c04000" stroke-width="1.9"/><rect x="1094.8" y="227.9" width="1.4" height="1.4" fill="#c04000"/>
<path d="M1069.8 224.3L1058.3 235.8L1069.8 247.3L1081.3 235.8Z" fill="none" stroke="#c04000" stroke-width="1.9"/><rect x="1069.1" y="235.1" width="1.4" height="1.4" fill="#c04000"/>
<path d="M1068.0 203.5L1056.5 215.0L1068.0 226.5L1079.5 215.0Z" fill="none" stroke="#c04000" stroke-width="1.9"/><rect x="1067.3" y="214.3" width="1.4" height="1.4" fill="#c04000"/>
<path d="M1088.4 214.0L1076.9 225.5L1088.4 237.0L1099.9 225.5Z" fill="none" stroke="#c04000" stroke-width="1.9"/><rect x="1087.7" y="224.8" width="1.4" height="1.4" fill="#c04000"/>
<path d="M1064.9 202.8L1053.4 214.3L1064.9 225.8L1076.4 214.3Z" fill="none" stroke="#c04000" stroke-width="1.9"/><rect x="1064.2" y="213.6" width="1.4" height="1.4" fill="#c04000"/>
<path d="M1069.2 221.6L1057.7 233.1L1069.2 244.6L1080.7 233.1Z" fill="none" stroke="#c04000" stroke-width="1.9"/><rect x="1068.5" y="232.4" width="1.4" height="1.4" fill="#c04000"/>
<path d="M1071.8 187.6L1060.3 199.1L1071.8 210.6L1083.3 199.1Z" fill="none" stroke="#c04000" stroke-width="1.9"/><rect x="1071.1" y="198.4" width="1.4" height="1.4" fill="#c04000"/>
<path d="M1134.8 225.3L1123.3 236.8L1134.8 248.3L1146.3 236.8Z" fill="none" stroke="#c04000" stroke-width="1.9"/><rect x="1134.1" y="236.1" width="1.4" height="1.4" fill="#c04000"/>
<path d="M1093.8 215.1L1082.3 226.6L1093.8 238.1L1105.3 226.6Z" fill="none" stroke="#c04000" stroke-width="1.9"/><rect x="1093.1" y="225.9" width="1.4" height="1.4" fill="#c04000"/>
<path d="M1048.6 203.1L1037.1 214.6L1048.6 226.1L1060.1 214.6Z" fill="none" stroke="#c04000" stroke-width="1.9"/><rect x="1047.9" y="213.9" width="1.4" height="1.4" fill="#c04000"/>
<path d="M1115.0 224.7L1103.5 236.2L1115.0 247.7L1126.5 236.2Z" fill="none" stroke="#c04000" stroke-width="1.9"/><rect x="1114.3" y="235.5" width="1.4" height="1.4" fill="#c04000"/>
<path d="M1107.6 231.8L1096.1 243.3L1107.6 254.8L1119.1 243.3Z" fill="none" stroke="#c04000" stroke-width="1.9"/><rect x="1106.9" y="242.6" width="1.4" height="1.4" fill="#c04000"/>
<path d="M1101.9 254.0L1090.4 265.5L1101.9 277.0L1113.4 265.5Z" fill="none" stroke="#c04000" stroke-width="1.9"/><rect x="1101.2" y="264.8" width="1.4" height="1.4" fill="#c04000"/>
<path d="M1138.3 228.8L1126.8 240.3L1138.3 251.8L1149.8 240.3Z" fill="none" stroke="#c04000" stroke-width="1.9"/><rect x="1137.6" y="239.6" width="1.4" height="1.4" fill="#c04000"/>
<path d="M1049.4 214.1L1037.9 225.6L1049.4 237.1L1060.9 225.6Z" fill="none" stroke="#c04000" stroke-width="1.9"/><rect x="1048.7" y="224.9" width="1.4" height="1.4" fill="#c04000"/>
<path d="M1067.8 199.0L1056.3 210.5L1067.8 222.0L1079.3 210.5Z" fill="none" stroke="#c04000" stroke-width="1.9"/><rect x="1067.1" y="209.8" width="1.4" height="1.4" fill="#c04000"/>
<path d="M1090.3 200.5L1078.8 212.0L1090.3 223.5L1101.8 212.0Z" fill="none" stroke="#c04000" stroke-width="1.9"/><rect x="1089.6" y="211.3" width="1.4" height="1.4" fill="#c04000"/>
<path d="M1122.0 233.5L1110.5 245.0L1122.0 256.5L1133.5 245.0Z" fill="none" stroke="#c04000" stroke-width="1.9"/><rect x="1121.3" y="244.3" width="1.4" height="1.4" fill="#c04000"/>
<path d="M1113.4 219.8L1101.9 231.3L1113.4 242.8L1124.9 231.3Z" fill="none" stroke="#c04000" stroke-width="1.9"/><rect x="1112.7" y="230.6" width="1.4" height="1.4" fill="#c04000"/>
<path d="M1080.8 266.0L1069.3 277.5L1080.8 289.0L1092.3 277.5Z" fill="none" stroke="#c04000" stroke-width="1.9"/><rect x="1080.1" y="276.8" width="1.4" height="1.4" fill="#c04000"/>
<path d="M1059.3 186.5L1047.8 198.0L1059.3 209.5L1070.8 198.0Z" fill="none" stroke="#c04000" stroke-width="1.9"/><rect x="1058.6" y="197.3" width="1.4" height="1.4" fill="#c04000"/>
<path d="M1104.2 220.4L1092.7 231.9L1104.2 243.4L1115.7 231.9Z" fill="none" stroke="#c04000" stroke-width="1.9"/><rect x="1103.5" y="231.2" width="1.4" height="1.4" fill="#c04000"/>
<path d="M1086.2 206.9L1074.7 218.4L1086.2 229.9L1097.7 218.4Z" fill="none" stroke="#c04000" stroke-width="1.9"/><rect x="1085.5" y="217.7" width="1.4" height="1.4" fill="#c04000"/>
<path d="M1097.7 252.3L1086.2 263.8L1097.7 275.3L1109.2 263.8Z" fill="none" stroke="#c04000" stroke-width="1.9"/><rect x="1097.0" y="263.1" width="1.4" height="1.4" fill="#c04000"/>
<path d="M1055.6 207.7L1044.1 219.2L1055.6 230.7L1067.1 219.2Z" fill="none" stroke="#c04000" stroke-width="1.9"/><rect x="1054.9" y="218.5" width="1.4" height="1.4" fill="#c04000"/>
<circle cx="1209.4" cy="43.8" r="11.2" fill="none" stroke="#ff0000" stroke-width="2.7"/><rect x="1208.4" y="42.8" width="2" height="2" fill="#ff0000"/>
<text x="1164.6" y="51.0" font-size="22" text-anchor="end" >M=6</text>
<rect x="1198.0" y="58.6" width="22.8" height="22.8" fill="none" stroke="#0000ff" stroke-width="2.0"/><rect x="1208.7" y="69.3" width="1.4" height="1.4" fill="#0000ff"/>
<text x="1164.6" y="77.2" font-size="22" text-anchor="end" >M=8</text>
<path d="M1209.4 84.0L1198.1 101.8L1220.7 101.8Z" fill="none" stroke="#006400" stroke-width="2.0"/><rect x="1208.7" y="95.5" width="1.4" height="1.4" fill="#006400"/>
<text x="1164.6" y="103.4" font-size="22" text-anchor="end" >M=10</text>
<path d="M1209.4 134.6L1198.1 117.2L1220.7 117.2Z" fill="none" stroke="#ff1493" stroke-width="1.9"/><rect x="1208.7" y="121.7" width="1.4" height="1.4" fill="#ff1493"/>
<text x="1164.6" y="129.6" font-size="22" text-anchor="end" >M=12</text>
<path d="M1209.4 137.1L1197.9 148.6L1209.4 160.1L1220.9 148.6Z" fill="none" stroke="#c04000" stroke-width="1.9"/><rect x="1208.7" y="147.9" width="1.4" height="1.4" fill="#c04000"/>
<text x="1164.6" y="155.8" font-size="22" text-anchor="end" >M=14</text>
<rect x="748.1" y="24.9" width="513.9" height="350.75" fill="none" stroke="#000" stroke-width="2"/>
<text transform="translate(736.0,389.5) scale(1,1.06)" font-size="32" text-anchor="end">10<tspan font-size="25.6" dy="-15.1">0</tspan></text>
<text transform="translate(736.0,331.1) scale(1,1.06)" font-size="32" text-anchor="end">10<tspan font-size="25.6" dy="-15.1">1</tspan></text>
<text transform="translate(736.0,272.6) scale(1,1.06)" font-size="32" text-anchor="end">10<tspan font-size="25.6" dy="-15.1">2</tspan></text>
<text transform="translate(736.0,214.2) scale(1,1.06)" font-size="32" text-anchor="end">10<tspan font-size="25.6" dy="-15.1">3</tspan></text>
<text transform="translate(736.0,155.7) scale(1,1.06)" font-size="32" text-anchor="end">10<tspan font-size="25.6" dy="-15.1">4</tspan></text>
<text transform="translate(736.0,97.2) scale(1,1.06)" font-size="32" text-anchor="end">10<tspan font-size="25.6" dy="-15.1">5</tspan></text>
<text transform="translate(736.0,38.8) scale(1,1.06)" font-size="32" text-anchor="end">10<tspan font-size="25.6" dy="-15.1">6</tspan></text>
<text transform="translate(784.9,415.3) scale(1,1.06)" font-size="32" text-anchor="middle">10<tspan font-size="25.6" dy="-15.1">0</tspan></text>
<text transform="translate(944.3,415.3) scale(1,1.06)" font-size="32" text-anchor="middle">10<tspan font-size="25.6" dy="-15.1">1</tspan></text>
<text transform="translate(1103.7,415.3) scale(1,1.06)" font-size="32" text-anchor="middle">10<tspan font-size="25.6" dy="-15.1">2</tspan></text>
<text transform="translate(1263.1,415.3) scale(1,1.06)" font-size="32" text-anchor="middle">10<tspan font-size="25.6" dy="-15.1">3</tspan></text>
<text x="1004.7" y="450.0" font-size="33" text-anchor="middle" >Subsector size</text>
<text transform="translate(671.6,200.0) rotate(-90)" font-size="29.2" text-anchor="middle">Number of subsectors</text>
<text x="641.5" y="26.2" font-size="37" text-anchor="start" >(b)</text>
</g>
<g id="pc">
<path d="M122.60 833.60L122.60 821.80M122.60 482.90L122.60 494.70M179.75 833.60L179.75 821.80M179.75 482.90L179.75 494.70M236.90 833.60L236.90 821.80M236.90 482.90L236.90 494.70M294.05 833.60L294.05 821.80M294.05 482.90L294.05 494.70M351.20 833.60L351.20 821.80M351.20 482.90L351.20 494.70M408.35 833.60L408.35 821.80M408.35 482.90L408.35 494.70M465.50 833.60L465.50 821.80M465.50 482.90L465.50 494.70M522.65 833.60L522.65 821.80M522.65 482.90L522.65 494.70M579.80 833.60L579.80 821.80M579.80 482.90L579.80 494.70M94.00 833.60L105.80 833.60M608.00 833.60L596.20 833.60M94.00 812.48L99.90 812.48M608.00 812.48L602.10 812.48M94.00 800.13L99.90 800.13M608.00 800.13L602.10 800.13M94.00 791.36L99.90 791.36M608.00 791.36L602.10 791.36M94.00 784.56L99.90 784.56M608.00 784.56L602.10 784.56M94.00 779.00L99.90 779.00M608.00 779.00L602.10 779.00M94.00 774.31L99.90 774.31M608.00 774.31L602.10 774.31M94.00 770.24L99.90 770.24M608.00 770.24L602.10 770.24M94.00 766.65L99.90 766.65M608.00 766.65L602.10 766.65M94.00 763.44L105.80 763.44M608.00 763.44L596.20 763.44M94.00 742.32L99.90 742.32M608.00 742.32L602.10 742.32M94.00 729.97L99.90 729.97M608.00 729.97L602.10 729.97M94.00 721.20L99.90 721.20M608.00 721.20L602.10 721.20M94.00 714.40L99.90 714.40M608.00 714.40L602.10 714.40M94.00 708.84L99.90 708.84M608.00 708.84L602.10 708.84M94.00 704.15L99.90 704.15M608.00 704.15L602.10 704.15M94.00 700.08L99.90 700.08M608.00 700.08L602.10 700.08M94.00 696.49L99.90 696.49M608.00 696.49L602.10 696.49M94.00 693.28L105.80 693.28M608.00 693.28L596.20 693.28M94.00 672.16L99.90 672.16M608.00 672.16L602.10 672.16M94.00 659.81L99.90 659.81M608.00 659.81L602.10 659.81M94.00 651.04L99.90 651.04M608.00 651.04L602.10 651.04M94.00 644.24L99.90 644.24M608.00 644.24L602.10 644.24M94.00 638.68L99.90 638.68M608.00 638.68L602.10 638.68M94.00 633.99L99.90 633.99M608.00 633.99L602.10 633.99M94.00 629.92L99.90 629.92M608.00 629.92L602.10 629.92M94.00 626.33L99.90 626.33M608.00 626.33L602.10 626.33M94.00 623.12L105.80 623.12M608.00 623.12L596.20 623.12M94.00 602.00L99.90 602.00M608.00 602.00L602.10 602.00M94.00 589.65L99.90 589.65M608.00 589.65L602.10 589.65M94.00 580.88L99.90 580.88M608.00 580.88L602.10 580.88M94.00 574.08L99.90 574.08M608.00 574.08L602.10 574.08M94.00 568.52L99.90 568.52M608.00 568.52L602.10 568.52M94.00 563.83L99.90 563.83M608.00 563.83L602.10 563.83M94.00 559.76L99.90 559.76M608.00 559.76L602.10 559.76M94.00 556.17L99.90 556.17M608.00 556.17L602.10 556.17M94.00 552.96L105.80 552.96M608.00 552.96L596.20 552.96M94.00 531.84L99.90 531.84M608.00 531.84L602.10 531.84M94.00 519.49L99.90 519.49M608.00 519.49L602.10 519.49M94.00 510.72L99.90 510.72M608.00 510.72L602.10 510.72M94.00 503.92L99.90 503.92M608.00 503.92L602.10 503.92M94.00 498.36L99.90 498.36M608.00 498.36L602.10 498.36M94.00 493.67L99.90 493.67M608.00 493.67L602.10 493.67M94.00 489.60L99.90 489.60M608.00 489.60L602.10 489.60M94.00 486.01L99.90 486.01M608.00 486.01L602.10 486.01M94.00 482.80L105.80 482.80M608.00 482.80L596.20 482.80" stroke="#000" stroke-width="1" fill="none"/>
<circle cx="122.6" cy="760.8" r="11.1" fill="none" stroke="#f00" stroke-width="1.7"/><rect x="122.0" y="760.2" width="1.2" height="1.2" fill="#f00"/>
<circle cx="236.9" cy="705.8" r="11.1" fill="none" stroke="#f00" stroke-width="1.7"/><rect x="236.3" y="705.2" width="1.2" height="1.2" fill="#f00"/>
<circle cx="351.2" cy="644.8" r="11.1" fill="none" stroke="#f00" stroke-width="1.7"/><rect x="350.6" y="644.2" width="1.2" height="1.2" fill="#f00"/>
<circle cx="465.5" cy="582.1" r="11.1" fill="none" stroke="#f00" stroke-width="1.7"/><rect x="464.9" y="581.5" width="1.2" height="1.2" fill="#f00"/>
<circle cx="579.8" cy="518.5" r="11.1" fill="none" stroke="#f00" stroke-width="1.7"/><rect x="579.2" y="517.9" width="1.2" height="1.2" fill="#f00"/>
<line x1="94.00" y1="790.20" x2="608.00" y2="502.25" stroke="#00f" stroke-width="3.2" />
<rect x="94" y="482.9" width="514" height="350.70000000000005" fill="none" stroke="#000" stroke-width="2"/>
<text transform="translate(82.0,847.8) scale(1,1.06)" font-size="32" text-anchor="end">10<tspan font-size="25.6" dy="-15.1">1</tspan></text>
<text transform="translate(82.0,777.6) scale(1,1.06)" font-size="32" text-anchor="end">10<tspan font-size="25.6" dy="-15.1">2</tspan></text>
<text transform="translate(82.0,707.5) scale(1,1.06)" font-size="32" text-anchor="end">10<tspan font-size="25.6" dy="-15.1">3</tspan></text>
<text transform="translate(82.0,637.3) scale(1,1.06)" font-size="32" text-anchor="end">10<tspan font-size="25.6" dy="-15.1">4</tspan></text>
<text transform="translate(82.0,567.2) scale(1,1.06)" font-size="32" text-anchor="end">10<tspan font-size="25.6" dy="-15.1">5</tspan></text>
<text transform="translate(82.0,497.0) scale(1,1.06)" font-size="32" text-anchor="end">10<tspan font-size="25.6" dy="-15.1">6</tspan></text>
<text transform="translate(122.6,869.3) scale(1,1.06)" font-size="32" text-anchor="middle" >6</text>
<text transform="translate(179.8,869.3) scale(1,1.06)" font-size="32" text-anchor="middle" >7</text>
<text transform="translate(236.9,869.3) scale(1,1.06)" font-size="32" text-anchor="middle" >8</text>
<text transform="translate(294.0,869.3) scale(1,1.06)" font-size="32" text-anchor="middle" >9</text>
<text transform="translate(351.2,869.3) scale(1,1.06)" font-size="32" text-anchor="middle" >10</text>
<text transform="translate(408.4,869.3) scale(1,1.06)" font-size="32" text-anchor="middle" >11</text>
<text transform="translate(465.5,869.3) scale(1,1.06)" font-size="32" text-anchor="middle" >12</text>
<text transform="translate(522.6,869.3) scale(1,1.06)" font-size="32" text-anchor="middle" >13</text>
<text transform="translate(579.8,869.3) scale(1,1.06)" font-size="32" text-anchor="middle" >14</text>
<text x="351.0" y="907.6" font-size="33" text-anchor="middle" >Site number</text>
<text transform="translate(25.8,661.3) rotate(-90)" font-size="29" text-anchor="middle">Number of frozen states</text>
<text x="0.0" y="461.0" font-size="37" text-anchor="start" >(c)</text>
<text x="118.4" y="548.3" font-size="30.8">fit : 0.129× e<tspan font-size="25" dx="0.5" dy="-16">1.050M</tspan></text>
<line x1="389.50" y1="534.60" x2="475.50" y2="534.60" stroke="#00f" stroke-width="3" />
</g>
<g id="pd">
<path d="M791.50 833.70L791.50 821.90M791.50 482.90L791.50 494.70M846.86 833.70L846.86 821.90M846.86 482.90L846.86 494.70M902.22 833.70L902.22 821.90M902.22 482.90L902.22 494.70M957.58 833.70L957.58 821.90M957.58 482.90L957.58 494.70M1012.94 833.70L1012.94 821.90M1012.94 482.90L1012.94 494.70M1068.30 833.70L1068.30 821.90M1068.30 482.90L1068.30 494.70M1123.66 833.70L1123.66 821.90M1123.66 482.90L1123.66 494.70M1179.02 833.70L1179.02 821.90M1179.02 482.90L1179.02 494.70M1234.38 833.70L1234.38 821.90M1234.38 482.90L1234.38 494.70M763.10 833.66L774.90 833.66M1262.00 833.66L1250.20 833.66M763.10 798.46L769.00 798.46M1262.00 798.46L1256.10 798.46M763.10 777.87L769.00 777.87M1262.00 777.87L1256.10 777.87M763.10 763.26L769.00 763.26M1262.00 763.26L1256.10 763.26M763.10 751.93L769.00 751.93M1262.00 751.93L1256.10 751.93M763.10 742.67L769.00 742.67M1262.00 742.67L1256.10 742.67M763.10 734.84L769.00 734.84M1262.00 734.84L1256.10 734.84M763.10 728.06L769.00 728.06M1262.00 728.06L1256.10 728.06M763.10 722.08L769.00 722.08M1262.00 722.08L1256.10 722.08M763.10 716.73L774.90 716.73M1262.00 716.73L1250.20 716.73M763.10 681.53L769.00 681.53M1262.00 681.53L1256.10 681.53M763.10 660.94L769.00 660.94M1262.00 660.94L1256.10 660.94M763.10 646.33L769.00 646.33M1262.00 646.33L1256.10 646.33M763.10 635.00L769.00 635.00M1262.00 635.00L1256.10 635.00M763.10 625.74L769.00 625.74M1262.00 625.74L1256.10 625.74M763.10 617.91L769.00 617.91M1262.00 617.91L1256.10 617.91M763.10 611.13L769.00 611.13M1262.00 611.13L1256.10 611.13M763.10 605.15L769.00 605.15M1262.00 605.15L1256.10 605.15M763.10 599.80L774.90 599.80M1262.00 599.80L1250.20 599.80M763.10 564.60L769.00 564.60M1262.00 564.60L1256.10 564.60M763.10 544.01L769.00 544.01M1262.00 544.01L1256.10 544.01M763.10 529.40L769.00 529.40M1262.00 529.40L1256.10 529.40M763.10 518.07L769.00 518.07M1262.00 518.07L1256.10 518.07M763.10 508.81L769.00 508.81M1262.00 508.81L1256.10 508.81M763.10 500.98L769.00 500.98M1262.00 500.98L1256.10 500.98M763.10 494.20L769.00 494.20M1262.00 494.20L1256.10 494.20M763.10 488.22L769.00 488.22M1262.00 488.22L1256.10 488.22M763.10 482.87L774.90 482.87M1262.00 482.87L1250.20 482.87" stroke="#000" stroke-width="1" fill="none"/>
<circle cx="791.5" cy="614.1" r="11.3" fill="none" stroke="#f00" stroke-width="2.6"/><rect x="790.7" y="613.3" width="1.6" height="1.6" fill="#f00"/>
<circle cx="902.2" cy="648" r="11.3" fill="none" stroke="#f00" stroke-width="2.6"/><rect x="901.4" y="647.2" width="1.6" height="1.6" fill="#f00"/>
<circle cx="1012.9" cy="701.5" r="11.3" fill="none" stroke="#f00" stroke-width="2.6"/><rect x="1012.1" y="700.7" width="1.6" height="1.6" fill="#f00"/>
<circle cx="1123.7" cy="754" r="11.3" fill="none" stroke="#f00" stroke-width="2.6"/><rect x="1122.9" y="753.2" width="1.6" height="1.6" fill="#f00"/>
<circle cx="1234.4" cy="810.5" r="11.3" fill="none" stroke="#f00" stroke-width="2.6"/><rect x="1233.6" y="809.7" width="1.6" height="1.6" fill="#f00"/>
<line x1="763.10" y1="582.34" x2="1262.00" y2="820.91" stroke="#00f" stroke-width="3.2" />
<rect x="763.1" y="482.9" width="498.9" height="350.80000000000007" fill="none" stroke="#000" stroke-width="2"/>
<text transform="translate(751.0,847.6) scale(1,1.06)" font-size="32" text-anchor="end">10<tspan font-size="25.6" dy="-15.1">-2</tspan></text>
<text transform="translate(751.0,730.6) scale(1,1.06)" font-size="32" text-anchor="end">10<tspan font-size="25.6" dy="-15.1">-1</tspan></text>
<text transform="translate(751.0,613.7) scale(1,1.06)" font-size="32" text-anchor="end">10<tspan font-size="25.6" dy="-15.1">0</tspan></text>
<text transform="translate(751.0,496.8) scale(1,1.06)" font-size="32" text-anchor="end">10<tspan font-size="25.6" dy="-15.1">1</tspan></text>
<text transform="translate(791.5,869.3) scale(1,1.06)" font-size="32" text-anchor="middle" >6</text>
<text transform="translate(846.9,869.3) scale(1,1.06)" font-size="32" text-anchor="middle" >7</text>
<text transform="translate(902.2,869.3) scale(1,1.06)" font-size="32" text-anchor="middle" >8</text>
<text transform="translate(957.6,869.3) scale(1,1.06)" font-size="32" text-anchor="middle" >9</text>
<text transform="translate(1012.9,869.3) scale(1,1.06)" font-size="32" text-anchor="middle" >10</text>
<text transform="translate(1068.3,869.3) scale(1,1.06)" font-size="32" text-anchor="middle" >11</text>
<text transform="translate(1123.7,869.3) scale(1,1.06)" font-size="32" text-anchor="middle" >12</text>
<text transform="translate(1179.0,869.3) scale(1,1.06)" font-size="32" text-anchor="middle" >13</text>
<text transform="translate(1234.4,869.3) scale(1,1.06)" font-size="32" text-anchor="middle" >14</text>
<text x="1012.0" y="907.6" font-size="33" text-anchor="middle" >Site number</text>
<text transform="translate(673.4,659) rotate(-90)" font-size="33" text-anchor="middle">max(D<tspan font-size="26.4" dy="8.7">sub</tspan><tspan dy="-8.7">)/D</tspan><tspan font-size="26.4" dy="8.7">sym</tspan></text>
<text x="641.5" y="461.0" font-size="37" text-anchor="start" >(d)</text>
<text x="868.8" y="541.4" font-size="30.8">fit : 24.9× e<tspan font-size="25" dx="0" dy="-16">-0.522M</tspan></text>
<line x1="1130.70" y1="528.20" x2="1215.80" y2="528.20" stroke="#00f" stroke-width="3" />
</g>
</svg>
</body></html>
